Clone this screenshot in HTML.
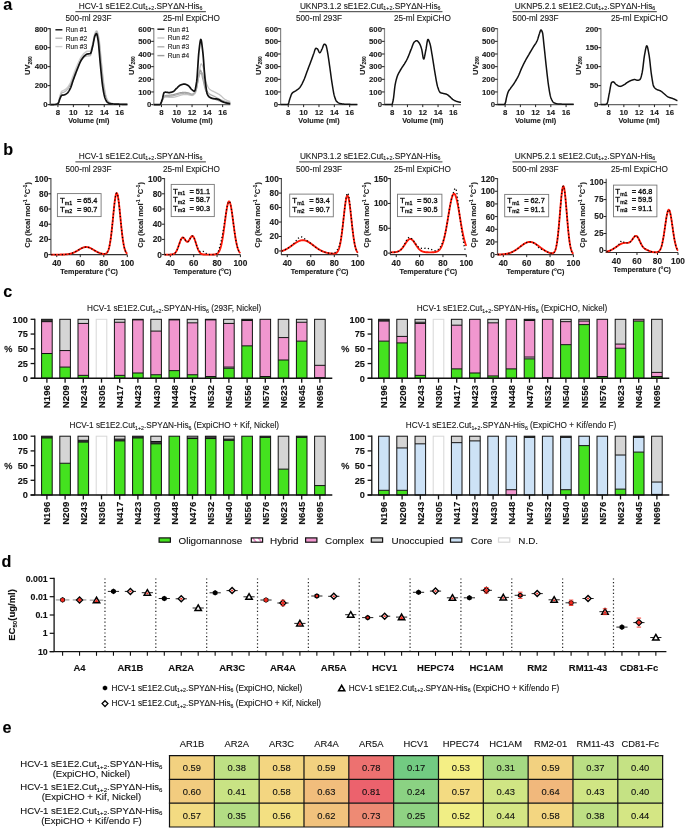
<!DOCTYPE html>
<html><head><meta charset="utf-8"><style>
html,body{margin:0;padding:0;background:#fff;}
body{width:685px;height:829px;overflow:hidden;}
svg{display:block;font-family:"Liberation Sans", sans-serif;will-change:transform;}
text{stroke:#000;stroke-width:0.18px;stroke-opacity:0.55;}
text.hv{stroke-width:0.35px;stroke-opacity:0.8;}
</style></head><body>
<svg width="685" height="829" viewBox="0 0 685 829">
<rect width="685" height="829" fill="#fff"/>
<text x="3.2" y="10.2" font-size="16.2" font-weight="bold">a</text>
<text x="3.2" y="155.2" font-size="16.2" font-weight="bold">b</text>
<text x="3.2" y="297.2" font-size="16.2" font-weight="bold">c</text>
<text x="1.5" y="567.4" font-size="16.2" font-weight="bold">d</text>
<text x="2.5" y="733.2" font-size="16.2" font-weight="bold">e</text>
<text x="140.6" y="8.7" font-size="8.3" text-anchor="middle" fill="#222"><tspan>HCV-1 sE1E2.Cut</tspan><tspan dy="1.66" font-size="5.31">1+2</tspan><tspan dy="-1.66">.SPYΔN-His</tspan><tspan dy="1.66" font-size="5.31">6</tspan></text>
<line x1="75.4" y1="11.7" x2="205.9" y2="11.7" stroke="#222" stroke-width="0.9" />
<text x="140.6" y="158.6" font-size="8.3" text-anchor="middle" fill="#222"><tspan>HCV-1 sE1E2.Cut</tspan><tspan dy="1.66" font-size="5.31">1+2</tspan><tspan dy="-1.66">.SPYΔN-His</tspan><tspan dy="1.66" font-size="5.31">6</tspan></text>
<line x1="75.4" y1="161.9" x2="205.9" y2="161.9" stroke="#222" stroke-width="0.9" />
<text x="370.2" y="8.7" font-size="8.3" text-anchor="middle" fill="#222"><tspan>UKNP3.1.2 sE1E2.Cut</tspan><tspan dy="1.66" font-size="5.31">1+2</tspan><tspan dy="-1.66">.SPYΔN-His</tspan><tspan dy="1.66" font-size="5.31">6</tspan></text>
<line x1="299.2" y1="11.7" x2="442.5" y2="11.7" stroke="#222" stroke-width="0.9" />
<text x="370.2" y="158.6" font-size="8.3" text-anchor="middle" fill="#222"><tspan>UKNP3.1.2 sE1E2.Cut</tspan><tspan dy="1.66" font-size="5.31">1+2</tspan><tspan dy="-1.66">.SPYΔN-His</tspan><tspan dy="1.66" font-size="5.31">6</tspan></text>
<line x1="299.2" y1="161.9" x2="442.5" y2="161.9" stroke="#222" stroke-width="0.9" />
<text x="585" y="8.7" font-size="8.3" text-anchor="middle" fill="#222"><tspan>UKNP5.2.1 sE1E2.Cut</tspan><tspan dy="1.66" font-size="5.31">1+2</tspan><tspan dy="-1.66">.SPYΔN-His</tspan><tspan dy="1.66" font-size="5.31">6</tspan></text>
<line x1="512.4" y1="11.7" x2="656.8" y2="11.7" stroke="#222" stroke-width="0.9" />
<text x="585" y="158.6" font-size="8.3" text-anchor="middle" fill="#222"><tspan>UKNP5.2.1 sE1E2.Cut</tspan><tspan dy="1.66" font-size="5.31">1+2</tspan><tspan dy="-1.66">.SPYΔN-His</tspan><tspan dy="1.66" font-size="5.31">6</tspan></text>
<line x1="512.4" y1="161.9" x2="656.8" y2="161.9" stroke="#222" stroke-width="0.9" />
<text x="65.5" y="20.6" font-size="8.2" fill="#222">500-ml 293F</text>
<line x1="50.2" y1="28.2" x2="50.2" y2="104.6" stroke="#333" stroke-width="1.2" />
<line x1="48.7" y1="104.6" x2="127.4" y2="104.6" stroke="#333" stroke-width="1.2" />
<line x1="47.6" y1="104.6" x2="50.2" y2="104.6" stroke="#222" stroke-width="1" />
<text x="47.7" y="107.4" font-size="7.8" font-weight="bold" text-anchor="end" fill="#222">0</text>
<line x1="47.6" y1="85.62" x2="50.2" y2="85.62" stroke="#222" stroke-width="1" />
<text x="47.7" y="88.42" font-size="7.8" font-weight="bold" text-anchor="end" fill="#222">200</text>
<line x1="47.6" y1="66.65" x2="50.2" y2="66.65" stroke="#222" stroke-width="1" />
<text x="47.7" y="69.45" font-size="7.8" font-weight="bold" text-anchor="end" fill="#222">400</text>
<line x1="47.6" y1="47.68" x2="50.2" y2="47.68" stroke="#222" stroke-width="1" />
<text x="47.7" y="50.48" font-size="7.8" font-weight="bold" text-anchor="end" fill="#222">600</text>
<line x1="47.6" y1="28.7" x2="50.2" y2="28.7" stroke="#222" stroke-width="1" />
<text x="47.7" y="31.5" font-size="7.8" font-weight="bold" text-anchor="end" fill="#222">800</text>
<line x1="57.92" y1="104.6" x2="57.92" y2="107.1" stroke="#222" stroke-width="1" />
<text x="57.92" y="115.3" font-size="7.8" font-weight="bold" text-anchor="middle" fill="#222">8</text>
<line x1="73.36" y1="104.6" x2="73.36" y2="107.1" stroke="#222" stroke-width="1" />
<text x="73.36" y="115.3" font-size="7.8" font-weight="bold" text-anchor="middle" fill="#222">10</text>
<line x1="88.8" y1="104.6" x2="88.8" y2="107.1" stroke="#222" stroke-width="1" />
<text x="88.8" y="115.3" font-size="7.8" font-weight="bold" text-anchor="middle" fill="#222">12</text>
<line x1="104.24" y1="104.6" x2="104.24" y2="107.1" stroke="#222" stroke-width="1" />
<text x="104.24" y="115.3" font-size="7.8" font-weight="bold" text-anchor="middle" fill="#222">14</text>
<line x1="119.68" y1="104.6" x2="119.68" y2="107.1" stroke="#222" stroke-width="1" />
<text x="119.68" y="115.3" font-size="7.8" font-weight="bold" text-anchor="middle" fill="#222">16</text>
<text x="88.8" y="122.9" font-size="7.3" font-weight="bold" text-anchor="middle" fill="#222">Volume (ml)</text>
<text transform="translate(30.2,65.65) rotate(-90)" font-size="7.6" font-weight="bold" text-anchor="middle" fill="#222"><tspan>UV</tspan><tspan dy="1.52" font-size="4.86">280</tspan></text>
<path d="M50.2 104.6 L50.5 104.6 L50.8 104.6 L51.09 104.6 L51.39 104.59 L51.69 104.59 L51.99 104.59 L52.29 104.58 L52.58 104.57 L52.88 104.57 L53.18 104.56 L53.48 104.55 L53.78 104.54 L54.07 104.53 L54.37 104.52 L54.67 104.51 L54.97 104.5 L55.27 104.47 L55.57 104.42 L55.86 104.36 L56.16 104.28 L56.46 104.19 L56.76 104.07 L57.06 103.94 L57.35 103.79 L57.65 103.63 L57.95 103.44 L58.25 102.97 L58.55 102.1 L58.84 100.96 L59.14 99.64 L59.44 98.27 L59.74 96.94 L60.04 95.76 L60.33 94.82 L60.63 93.92 L60.93 93.04 L61.23 92.25 L61.53 91.64 L61.82 91.28 L62.12 91.06 L62.42 90.89 L62.72 90.76 L63.02 90.65 L63.32 90.54 L63.61 90.42 L63.91 90.28 L64.21 90.11 L64.51 89.92 L64.81 89.72 L65.1 89.52 L65.4 89.3 L65.7 89.06 L66 88.82 L66.3 88.56 L66.59 88.29 L66.89 88.01 L67.19 87.71 L67.49 87.39 L67.79 87.04 L68.08 86.68 L68.38 86.29 L68.68 85.87 L68.98 85.43 L69.28 84.97 L69.57 84.48 L69.87 83.97 L70.17 83.44 L70.47 82.87 L70.77 82.22 L71.06 81.5 L71.36 80.73 L71.66 79.92 L71.96 79.09 L72.26 78.24 L72.56 77.38 L72.85 76.55 L73.15 75.73 L73.45 74.96 L73.75 74.19 L74.05 73.42 L74.34 72.65 L74.64 71.88 L74.94 71.12 L75.24 70.35 L75.54 69.6 L75.83 68.85 L76.13 68.11 L76.43 67.38 L76.73 66.66 L77.03 65.96 L77.32 65.27 L77.62 64.58 L77.92 63.89 L78.22 63.19 L78.52 62.51 L78.81 61.83 L79.11 61.16 L79.41 60.51 L79.71 59.88 L80.01 59.27 L80.31 58.69 L80.6 58.15 L80.9 57.64 L81.2 57.17 L81.5 56.71 L81.8 56.27 L82.09 55.84 L82.39 55.42 L82.69 55.01 L82.99 54.63 L83.29 54.26 L83.58 53.91 L83.88 53.58 L84.18 53.27 L84.48 52.99 L84.78 52.74 L85.07 52.51 L85.37 52.27 L85.67 52.04 L85.97 51.81 L86.27 51.62 L86.56 51.45 L86.86 51.34 L87.16 51.28 L87.46 51.28 L87.76 51.28 L88.05 51.28 L88.35 51.28 L88.65 51.28 L88.95 51.28 L89.25 51.28 L89.55 51.28 L89.84 51.28 L90.14 51.28 L90.44 51.26 L90.74 50.92 L91.04 50.24 L91.33 49.29 L91.63 48.15 L91.93 46.9 L92.23 45.63 L92.53 44.4 L92.82 43.23 L93.12 41.86 L93.42 40.34 L93.72 38.76 L94.02 37.21 L94.31 35.77 L94.61 34.54 L94.91 33.6 L95.21 32.92 L95.51 32.26 L95.8 31.67 L96.1 31.2 L96.4 30.89 L96.7 30.79 L97 31.03 L97.29 31.63 L97.59 32.54 L97.89 33.69 L98.19 35.01 L98.49 36.45 L98.79 37.93 L99.08 39.65 L99.38 41.92 L99.68 44.65 L99.98 47.7 L100.28 50.94 L100.57 54.26 L100.87 57.52 L101.17 60.59 L101.47 63.44 L101.77 66.33 L102.06 69.28 L102.36 72.22 L102.66 75.09 L102.96 77.83 L103.26 80.39 L103.55 82.71 L103.85 84.76 L104.15 86.74 L104.45 88.66 L104.75 90.49 L105.04 92.19 L105.34 93.74 L105.64 95.11 L105.94 96.27 L106.24 97.2 L106.54 98.01 L106.83 98.76 L107.13 99.44 L107.43 100.05 L107.73 100.58 L108.03 101.03 L108.32 101.4 L108.62 101.69 L108.92 101.94 L109.22 102.18 L109.52 102.4 L109.81 102.59 L110.11 102.77 L110.41 102.93 L110.71 103.07 L111.01 103.19 L111.3 103.29 L111.6 103.37 L111.9 103.45 L112.2 103.52 L112.5 103.58 L112.79 103.64 L113.09 103.7 L113.39 103.75 L113.69 103.8 L113.99 103.84 L114.28 103.88 L114.58 103.92 L114.88 103.95 L115.18 103.98 L115.48 104.01 L115.78 104.03 L116.07 104.05 L116.37 104.06 L116.67 104.08 L116.97 104.1 L117.27 104.11 L117.56 104.13 L117.86 104.14 L118.16 104.15 L118.46 104.16 L118.76 104.17 L119.05 104.19 L119.35 104.2 L119.65 104.21 L119.95 104.21 L120.25 104.22 L120.54 104.23 L120.84 104.24 L121.14 104.25 L121.44 104.26 L121.74 104.27 L122.03 104.27 L122.33 104.28 L122.63 104.29 L122.93 104.3 L123.23 104.31 L123.53 104.31 L123.82 104.32 L124.12 104.33 L124.42 104.34 L124.72 104.35 L125.02 104.36 L125.31 104.36 L125.61 104.37 L125.91 104.38 L126.21 104.38 L126.51 104.39 L126.8 104.4 L127.1 104.4 L127.4 104.41" stroke="#cdcdcd" stroke-width="1.6" fill="none" stroke-linejoin="round"/>
<path d="M50.2 104.6 L50.5 104.6 L50.8 104.6 L51.09 104.6 L51.39 104.59 L51.69 104.59 L51.99 104.59 L52.29 104.58 L52.58 104.57 L52.88 104.57 L53.18 104.56 L53.48 104.55 L53.78 104.54 L54.07 104.53 L54.37 104.52 L54.67 104.51 L54.97 104.5 L55.27 104.47 L55.57 104.43 L55.86 104.37 L56.16 104.3 L56.46 104.21 L56.76 104.11 L57.06 103.99 L57.35 103.86 L57.65 103.71 L57.95 103.54 L58.25 103.12 L58.55 102.36 L58.84 101.35 L59.14 100.2 L59.44 98.99 L59.74 97.83 L60.04 96.81 L60.33 96 L60.63 95.23 L60.93 94.48 L61.23 93.82 L61.53 93.3 L61.82 92.99 L62.12 92.81 L62.42 92.68 L62.72 92.57 L63.02 92.47 L63.32 92.39 L63.61 92.29 L63.91 92.17 L64.21 92.01 L64.51 91.84 L64.81 91.65 L65.1 91.44 L65.4 91.22 L65.7 90.99 L66 90.74 L66.3 90.47 L66.59 90.19 L66.89 89.9 L67.19 89.6 L67.49 89.28 L67.79 88.94 L68.08 88.57 L68.38 88.17 L68.68 87.75 L68.98 87.31 L69.28 86.85 L69.57 86.37 L69.87 85.86 L70.17 85.33 L70.47 84.78 L70.77 84.16 L71.06 83.48 L71.36 82.76 L71.66 82.01 L71.96 81.23 L72.26 80.43 L72.56 79.64 L72.85 78.85 L73.15 78.08 L73.45 77.34 L73.75 76.6 L74.05 75.85 L74.34 75.09 L74.64 74.33 L74.94 73.57 L75.24 72.82 L75.54 72.07 L75.83 71.32 L76.13 70.59 L76.43 69.88 L76.73 69.18 L77.03 68.5 L77.32 67.84 L77.62 67.19 L77.92 66.53 L78.22 65.86 L78.52 65.21 L78.81 64.56 L79.11 63.93 L79.41 63.32 L79.71 62.74 L80.01 62.18 L80.31 61.66 L80.6 61.17 L80.9 60.73 L81.2 60.33 L81.5 59.94 L81.8 59.56 L82.09 59.2 L82.39 58.84 L82.69 58.5 L82.99 58.18 L83.29 57.88 L83.58 57.6 L83.88 57.35 L84.18 57.12 L84.48 56.93 L84.78 56.76 L85.07 56.63 L85.37 56.52 L85.67 56.41 L85.97 56.31 L86.27 56.23 L86.56 56.15 L86.86 56.09 L87.16 56.04 L87.46 56 L87.76 55.97 L88.05 55.94 L88.35 55.92 L88.65 55.91 L88.95 55.89 L89.25 55.87 L89.55 55.85 L89.84 55.82 L90.14 55.77 L90.44 55.7 L90.74 55.25 L91.04 54.4 L91.33 53.24 L91.63 51.87 L91.93 50.37 L92.23 48.83 L92.53 47.35 L92.82 45.93 L93.12 44.26 L93.42 42.41 L93.72 40.48 L94.02 38.59 L94.31 36.87 L94.61 35.42 L94.91 34.37 L95.21 33.66 L95.51 33 L95.8 32.41 L96.1 31.95 L96.4 31.64 L96.7 31.55 L97 31.79 L97.29 32.42 L97.59 33.35 L97.89 34.53 L98.19 35.89 L98.49 37.36 L98.79 38.88 L99.08 40.61 L99.38 42.9 L99.68 45.63 L99.98 48.68 L100.28 51.92 L100.57 55.22 L100.87 58.47 L101.17 61.54 L101.47 64.39 L101.77 67.3 L102.06 70.26 L102.36 73.22 L102.66 76.1 L102.96 78.85 L103.26 81.39 L103.55 83.68 L103.85 85.68 L104.15 87.59 L104.45 89.44 L104.75 91.18 L105.04 92.8 L105.34 94.28 L105.64 95.58 L105.94 96.68 L106.24 97.57 L106.54 98.35 L106.83 99.07 L107.13 99.72 L107.43 100.3 L107.73 100.81 L108.03 101.25 L108.32 101.6 L108.62 101.87 L108.92 102.11 L109.22 102.34 L109.52 102.54 L109.81 102.73 L110.11 102.89 L110.41 103.04 L110.71 103.17 L111.01 103.29 L111.3 103.39 L111.6 103.47 L111.9 103.54 L112.2 103.61 L112.5 103.68 L112.79 103.74 L113.09 103.8 L113.39 103.85 L113.69 103.9 L113.99 103.95 L114.28 103.99 L114.58 104.03 L114.88 104.06 L115.18 104.08 L115.48 104.11 L115.78 104.12 L116.07 104.14 L116.37 104.15 L116.67 104.16 L116.97 104.17 L117.27 104.18 L117.56 104.19 L117.86 104.2 L118.16 104.21 L118.46 104.21 L118.76 104.22 L119.05 104.23 L119.35 104.23 L119.65 104.24 L119.95 104.25 L120.25 104.25 L120.54 104.26 L120.84 104.26 L121.14 104.27 L121.44 104.27 L121.74 104.28 L122.03 104.28 L122.33 104.29 L122.63 104.3 L122.93 104.3 L123.23 104.31 L123.53 104.32 L123.82 104.32 L124.12 104.33 L124.42 104.34 L124.72 104.34 L125.02 104.35 L125.31 104.36 L125.61 104.37 L125.91 104.37 L126.21 104.38 L126.51 104.39 L126.8 104.4 L127.1 104.4 L127.4 104.41" stroke="#b0b0b0" stroke-width="1.1" fill="none" stroke-linejoin="round"/>
<path d="M50.2 104.6 L50.5 104.6 L50.8 104.6 L51.09 104.6 L51.39 104.59 L51.69 104.59 L51.99 104.59 L52.29 104.58 L52.58 104.57 L52.88 104.57 L53.18 104.56 L53.48 104.55 L53.78 104.54 L54.07 104.53 L54.37 104.52 L54.67 104.51 L54.97 104.5 L55.27 104.47 L55.57 104.43 L55.86 104.38 L56.16 104.32 L56.46 104.24 L56.76 104.15 L57.06 104.04 L57.35 103.92 L57.65 103.78 L57.95 103.63 L58.25 103.3 L58.55 102.7 L58.84 101.93 L59.14 101.04 L59.44 100.11 L59.74 99.2 L60.04 98.4 L60.33 97.76 L60.63 97.11 L60.93 96.46 L61.23 95.9 L61.53 95.48 L61.82 95.29 L62.12 95.21 L62.42 95.16 L62.72 95.12 L63.02 95.08 L63.32 95.05 L63.61 95.01 L63.91 94.96 L64.21 94.89 L64.51 94.8 L64.81 94.69 L65.1 94.56 L65.4 94.42 L65.7 94.25 L66 94.07 L66.3 93.88 L66.59 93.67 L66.89 93.45 L67.19 93.21 L67.49 92.94 L67.79 92.62 L68.08 92.24 L68.38 91.83 L68.68 91.37 L68.98 90.88 L69.28 90.37 L69.57 89.82 L69.87 89.25 L70.17 88.67 L70.47 88.06 L70.77 87.36 L71.06 86.58 L71.36 85.75 L71.66 84.87 L71.96 83.96 L72.26 83.03 L72.56 82.11 L72.85 81.2 L73.15 80.33 L73.45 79.5 L73.75 78.68 L74.05 77.87 L74.34 77.05 L74.64 76.24 L74.94 75.44 L75.24 74.64 L75.54 73.84 L75.83 73.05 L76.13 72.27 L76.43 71.5 L76.73 70.73 L77.03 69.98 L77.32 69.24 L77.62 68.48 L77.92 67.72 L78.22 66.96 L78.52 66.19 L78.81 65.43 L79.11 64.69 L79.41 63.96 L79.71 63.26 L80.01 62.59 L80.31 61.95 L80.6 61.35 L80.9 60.79 L81.2 60.28 L81.5 59.8 L81.8 59.32 L82.09 58.86 L82.39 58.42 L82.69 57.99 L82.99 57.58 L83.29 57.19 L83.58 56.83 L83.88 56.48 L84.18 56.16 L84.48 55.86 L84.78 55.59 L85.07 55.35 L85.37 55.11 L85.67 54.88 L85.97 54.67 L86.27 54.47 L86.56 54.31 L86.86 54.16 L87.16 54.06 L87.46 53.98 L87.76 53.93 L88.05 53.89 L88.35 53.86 L88.65 53.83 L88.95 53.8 L89.25 53.77 L89.55 53.73 L89.84 53.68 L90.14 53.61 L90.44 53.51 L90.74 53.12 L91.04 52.43 L91.33 51.5 L91.63 50.4 L91.93 49.19 L92.23 47.96 L92.53 46.76 L92.82 45.6 L93.12 44.23 L93.42 42.69 L93.72 41.09 L94.02 39.53 L94.31 38.09 L94.61 36.87 L94.91 35.96 L95.21 35.33 L95.51 34.74 L95.8 34.23 L96.1 33.85 L96.4 33.65 L96.7 33.77 L97 34.51 L97.29 35.75 L97.59 37.32 L97.89 39.07 L98.19 40.88 L98.49 43.27 L98.79 46.22 L99.08 49.57 L99.38 53.15 L99.68 56.8 L99.98 60.37 L100.28 63.68 L100.57 66.72 L100.87 69.81 L101.17 72.92 L101.47 75.98 L101.77 78.93 L102.06 81.68 L102.36 84.18 L102.66 86.34 L102.96 88.24 L103.26 90.06 L103.55 91.77 L103.85 93.35 L104.15 94.79 L104.45 96.07 L104.75 97.16 L105.04 98.05 L105.34 98.82 L105.64 99.53 L105.94 100.19 L106.24 100.78 L106.54 101.29 L106.83 101.72 L107.13 102.06 L107.43 102.3 L107.73 102.52 L108.03 102.71 L108.32 102.89 L108.62 103.05 L108.92 103.19 L109.22 103.32 L109.52 103.43 L109.81 103.52 L110.11 103.59 L110.41 103.65 L110.71 103.7 L111.01 103.74 L111.3 103.78 L111.6 103.82 L111.9 103.85 L112.2 103.88 L112.5 103.91 L112.79 103.94 L113.09 103.97 L113.39 103.99 L113.69 104.01 L113.99 104.03 L114.28 104.05 L114.58 104.07 L114.88 104.08 L115.18 104.1 L115.48 104.11 L115.78 104.12 L116.07 104.14 L116.37 104.15 L116.67 104.16 L116.97 104.17 L117.27 104.18 L117.56 104.18 L117.86 104.19 L118.16 104.2 L118.46 104.21 L118.76 104.21 L119.05 104.22 L119.35 104.23 L119.65 104.23 L119.95 104.24 L120.25 104.25 L120.54 104.25 L120.84 104.26 L121.14 104.26 L121.44 104.27 L121.74 104.28 L122.03 104.28 L122.33 104.29 L122.63 104.29 L122.93 104.3 L123.23 104.31 L123.53 104.32 L123.82 104.32 L124.12 104.33 L124.42 104.34 L124.72 104.34 L125.02 104.35 L125.31 104.36 L125.61 104.37 L125.91 104.37 L126.21 104.38 L126.51 104.39 L126.8 104.4 L127.1 104.4 L127.4 104.41" stroke="#111" stroke-width="1.7" fill="none" stroke-linejoin="round"/>
<text x="163" y="20.6" font-size="8.2" fill="#222">25-ml ExpiCHO</text>
<line x1="153.8" y1="28.2" x2="153.8" y2="104.6" stroke="#888" stroke-width="1.2" />
<line x1="152.3" y1="104.6" x2="230.3" y2="104.6" stroke="#666" stroke-width="1.2" />
<line x1="151.2" y1="104.6" x2="153.8" y2="104.6" stroke="#222" stroke-width="1" />
<text x="151.3" y="107.4" font-size="7.8" font-weight="bold" text-anchor="end" fill="#222">0</text>
<line x1="151.2" y1="91.95" x2="153.8" y2="91.95" stroke="#222" stroke-width="1" />
<text x="151.3" y="94.75" font-size="7.8" font-weight="bold" text-anchor="end" fill="#222">100</text>
<line x1="151.2" y1="79.3" x2="153.8" y2="79.3" stroke="#222" stroke-width="1" />
<text x="151.3" y="82.1" font-size="7.8" font-weight="bold" text-anchor="end" fill="#222">200</text>
<line x1="151.2" y1="66.65" x2="153.8" y2="66.65" stroke="#222" stroke-width="1" />
<text x="151.3" y="69.45" font-size="7.8" font-weight="bold" text-anchor="end" fill="#222">300</text>
<line x1="151.2" y1="54" x2="153.8" y2="54" stroke="#222" stroke-width="1" />
<text x="151.3" y="56.8" font-size="7.8" font-weight="bold" text-anchor="end" fill="#222">400</text>
<line x1="151.2" y1="41.35" x2="153.8" y2="41.35" stroke="#222" stroke-width="1" />
<text x="151.3" y="44.15" font-size="7.8" font-weight="bold" text-anchor="end" fill="#222">500</text>
<line x1="151.2" y1="28.7" x2="153.8" y2="28.7" stroke="#222" stroke-width="1" />
<text x="151.3" y="31.5" font-size="7.8" font-weight="bold" text-anchor="end" fill="#222">600</text>
<line x1="161.45" y1="104.6" x2="161.45" y2="107.1" stroke="#222" stroke-width="1" />
<text x="161.45" y="115.3" font-size="7.8" font-weight="bold" text-anchor="middle" fill="#222">8</text>
<line x1="176.75" y1="104.6" x2="176.75" y2="107.1" stroke="#222" stroke-width="1" />
<text x="176.75" y="115.3" font-size="7.8" font-weight="bold" text-anchor="middle" fill="#222">10</text>
<line x1="192.05" y1="104.6" x2="192.05" y2="107.1" stroke="#222" stroke-width="1" />
<text x="192.05" y="115.3" font-size="7.8" font-weight="bold" text-anchor="middle" fill="#222">12</text>
<line x1="207.35" y1="104.6" x2="207.35" y2="107.1" stroke="#222" stroke-width="1" />
<text x="207.35" y="115.3" font-size="7.8" font-weight="bold" text-anchor="middle" fill="#222">14</text>
<line x1="222.65" y1="104.6" x2="222.65" y2="107.1" stroke="#222" stroke-width="1" />
<text x="222.65" y="115.3" font-size="7.8" font-weight="bold" text-anchor="middle" fill="#222">16</text>
<text x="192.05" y="122.9" font-size="7.3" font-weight="bold" text-anchor="middle" fill="#222">Volume (ml)</text>
<text transform="translate(133.8,65.65) rotate(-90)" font-size="7.6" font-weight="bold" text-anchor="middle" fill="#222"><tspan>UV</tspan><tspan dy="1.52" font-size="4.86">280</tspan></text>
<path d="M153.8 104.6 L154.1 104.6 L154.39 104.6 L154.69 104.6 L154.98 104.6 L155.28 104.6 L155.57 104.6 L155.87 104.6 L156.16 104.6 L156.46 104.6 L156.75 104.6 L157.05 104.6 L157.34 104.6 L157.64 104.6 L157.94 104.6 L158.23 104.6 L158.53 104.6 L158.82 104.6 L159.12 104.6 L159.41 104.6 L159.71 104.6 L160 104.59 L160.3 104.41 L160.59 104.05 L160.89 103.54 L161.18 102.94 L161.48 102.3 L161.77 101.66 L162.07 101.06 L162.37 100.54 L162.66 99.95 L162.96 99.32 L163.25 98.7 L163.55 98.16 L163.84 97.75 L164.14 97.51 L164.43 97.38 L164.73 97.27 L165.02 97.17 L165.32 97.09 L165.61 97.04 L165.91 97.01 L166.21 97.01 L166.5 97.03 L166.8 97.05 L167.09 97.08 L167.39 97.11 L167.68 97.15 L167.98 97.19 L168.27 97.22 L168.57 97.24 L168.86 97.26 L169.16 97.26 L169.45 97.26 L169.75 97.26 L170.05 97.26 L170.34 97.26 L170.64 97.26 L170.93 97.26 L171.23 97.26 L171.52 97.26 L171.82 97.26 L172.11 97.26 L172.41 97.26 L172.7 97.26 L173 97.26 L173.29 97.25 L173.59 97.23 L173.88 97.19 L174.18 97.14 L174.48 97.08 L174.77 97.02 L175.07 96.95 L175.36 96.87 L175.66 96.79 L175.95 96.71 L176.25 96.63 L176.54 96.56 L176.84 96.48 L177.13 96.4 L177.43 96.31 L177.72 96.21 L178.02 96.11 L178.32 96 L178.61 95.89 L178.91 95.78 L179.2 95.67 L179.5 95.57 L179.79 95.47 L180.09 95.37 L180.38 95.29 L180.68 95.21 L180.97 95.14 L181.27 95.06 L181.56 94.98 L181.86 94.9 L182.16 94.82 L182.45 94.75 L182.75 94.68 L183.04 94.62 L183.34 94.57 L183.63 94.53 L183.93 94.5 L184.22 94.48 L184.52 94.48 L184.81 94.48 L185.11 94.49 L185.4 94.5 L185.7 94.52 L185.99 94.54 L186.29 94.56 L186.59 94.58 L186.88 94.61 L187.18 94.63 L187.47 94.66 L187.77 94.69 L188.06 94.72 L188.36 94.75 L188.65 94.79 L188.95 94.85 L189.24 94.92 L189.54 95 L189.83 95.08 L190.13 95.16 L190.43 95.24 L190.72 95.31 L191.02 95.38 L191.31 95.43 L191.61 95.47 L191.9 95.49 L192.2 95.49 L192.49 95.44 L192.79 95.35 L193.08 95.22 L193.38 95.06 L193.67 94.85 L193.97 94.62 L194.27 94.36 L194.56 94.07 L194.86 93.75 L195.15 93.42 L195.45 92.84 L195.74 91.94 L196.04 90.78 L196.33 89.39 L196.63 87.85 L196.92 86.2 L197.22 84.5 L197.51 82.8 L197.81 81.15 L198.11 79.62 L198.4 78.1 L198.7 76.35 L198.99 74.44 L199.29 72.46 L199.58 70.5 L199.88 68.64 L200.17 66.97 L200.47 65.57 L200.76 64.54 L201.06 63.96 L201.35 63.89 L201.65 64.1 L201.94 64.51 L202.24 65.08 L202.54 65.78 L202.83 66.56 L203.13 67.4 L203.42 68.25 L203.72 69.17 L204.01 70.39 L204.31 71.86 L204.6 73.51 L204.9 75.27 L205.19 77.06 L205.49 78.81 L205.78 80.45 L206.08 81.9 L206.38 83.09 L206.67 83.95 L206.97 84.69 L207.26 85.38 L207.56 86.02 L207.85 86.61 L208.15 87.16 L208.44 87.66 L208.74 88.11 L209.03 88.51 L209.33 88.85 L209.62 89.15 L209.92 89.41 L210.22 89.64 L210.51 89.86 L210.81 90.07 L211.1 90.25 L211.4 90.43 L211.69 90.59 L211.99 90.75 L212.28 90.9 L212.58 91.04 L212.87 91.17 L213.17 91.31 L213.46 91.44 L213.76 91.58 L214.05 91.72 L214.35 91.86 L214.65 92.01 L214.94 92.17 L215.24 92.33 L215.53 92.49 L215.83 92.65 L216.12 92.8 L216.42 92.96 L216.71 93.11 L217.01 93.26 L217.3 93.41 L217.6 93.57 L217.89 93.72 L218.19 93.89 L218.49 94.05 L218.78 94.23 L219.08 94.4 L219.37 94.59 L219.67 94.78 L219.96 95 L220.26 95.23 L220.55 95.48 L220.85 95.74 L221.14 96.01 L221.44 96.29 L221.73 96.57 L222.03 96.86 L222.33 97.15 L222.62 97.43 L222.92 97.71 L223.21 97.98 L223.51 98.25 L223.8 98.49 L224.1 98.73 L224.39 98.94 L224.69 99.14 L224.98 99.31 L225.28 99.47 L225.57 99.62 L225.87 99.78 L226.16 99.93 L226.46 100.08 L226.76 100.22 L227.05 100.36 L227.35 100.49 L227.64 100.62 L227.94 100.74 L228.23 100.85 L228.53 100.96 L228.82 101.06 L229.12 101.15 L229.41 101.24 L229.71 101.31 L230 101.38 L230.3 101.44" stroke="#c4c4c4" stroke-width="1.3" fill="none" stroke-linejoin="round"/>
<path d="M153.8 104.6 L154.1 104.6 L154.39 104.6 L154.69 104.6 L154.98 104.6 L155.28 104.6 L155.57 104.6 L155.87 104.6 L156.16 104.6 L156.46 104.6 L156.75 104.6 L157.05 104.6 L157.34 104.6 L157.64 104.6 L157.94 104.6 L158.23 104.6 L158.53 104.6 L158.82 104.6 L159.12 104.6 L159.41 104.6 L159.71 104.6 L160 104.59 L160.3 104.39 L160.59 103.98 L160.89 103.42 L161.18 102.75 L161.48 102.02 L161.77 101.29 L162.07 100.6 L162.37 99.98 L162.66 99.27 L162.96 98.51 L163.25 97.76 L163.55 97.09 L163.84 96.56 L164.14 96.24 L164.43 96.06 L164.73 95.9 L165.02 95.77 L165.32 95.66 L165.61 95.58 L165.91 95.51 L166.21 95.47 L166.5 95.43 L166.8 95.41 L167.09 95.38 L167.39 95.36 L167.68 95.34 L167.98 95.32 L168.27 95.31 L168.57 95.28 L168.86 95.26 L169.16 95.23 L169.45 95.2 L169.75 95.17 L170.05 95.14 L170.34 95.1 L170.64 95.07 L170.93 95.03 L171.23 94.99 L171.52 94.95 L171.82 94.91 L172.11 94.87 L172.41 94.82 L172.7 94.77 L173 94.72 L173.29 94.66 L173.59 94.6 L173.88 94.53 L174.18 94.45 L174.48 94.37 L174.77 94.29 L175.07 94.2 L175.36 94.12 L175.66 94.03 L175.95 93.94 L176.25 93.86 L176.54 93.78 L176.84 93.7 L177.13 93.62 L177.43 93.53 L177.72 93.44 L178.02 93.35 L178.32 93.26 L178.61 93.17 L178.91 93.09 L179.2 93 L179.5 92.93 L179.79 92.86 L180.09 92.79 L180.38 92.74 L180.68 92.69 L180.97 92.65 L181.27 92.61 L181.56 92.57 L181.86 92.53 L182.16 92.49 L182.45 92.45 L182.75 92.42 L183.04 92.39 L183.34 92.37 L183.63 92.35 L183.93 92.34 L184.22 92.33 L184.52 92.33 L184.81 92.34 L185.11 92.36 L185.4 92.39 L185.7 92.43 L185.99 92.48 L186.29 92.54 L186.59 92.6 L186.88 92.66 L187.18 92.72 L187.47 92.79 L187.77 92.86 L188.06 92.93 L188.36 92.99 L188.65 93.08 L188.95 93.19 L189.24 93.3 L189.54 93.43 L189.83 93.56 L190.13 93.7 L190.43 93.82 L190.72 93.94 L191.02 94.04 L191.31 94.13 L191.61 94.19 L191.9 94.22 L192.2 94.22 L192.49 94.17 L192.79 94.07 L193.08 93.92 L193.38 93.73 L193.67 93.49 L193.97 93.22 L194.27 92.91 L194.56 92.56 L194.86 92.19 L195.15 91.78 L195.45 91.35 L195.74 90.9 L196.04 90.36 L196.33 89.45 L196.63 88.2 L196.92 86.69 L197.22 84.98 L197.51 83.17 L197.81 81.31 L198.11 79.5 L198.4 77.8 L198.7 76.29 L198.99 75.03 L199.29 73.76 L199.58 72.46 L199.88 71.32 L200.17 70.5 L200.47 70.19 L200.76 70.46 L201.06 71.17 L201.35 72.22 L201.65 73.51 L201.94 74.93 L202.24 76.38 L202.54 77.75 L202.83 78.94 L203.13 80.13 L203.42 81.4 L203.72 82.7 L204.01 84.02 L204.31 85.33 L204.6 86.59 L204.9 87.78 L205.19 88.86 L205.49 89.81 L205.78 90.6 L206.08 91.27 L206.38 91.91 L206.67 92.52 L206.97 93.1 L207.26 93.65 L207.56 94.17 L207.85 94.65 L208.15 95.1 L208.44 95.51 L208.74 95.88 L209.03 96.21 L209.33 96.49 L209.62 96.74 L209.92 96.96 L210.22 97.16 L210.51 97.34 L210.81 97.52 L211.1 97.68 L211.4 97.84 L211.69 97.98 L211.99 98.12 L212.28 98.24 L212.58 98.37 L212.87 98.49 L213.17 98.6 L213.46 98.71 L213.76 98.82 L214.05 98.93 L214.35 99.04 L214.65 99.15 L214.94 99.26 L215.24 99.38 L215.53 99.49 L215.83 99.61 L216.12 99.72 L216.42 99.83 L216.71 99.94 L217.01 100.05 L217.3 100.16 L217.6 100.27 L217.89 100.37 L218.19 100.47 L218.49 100.58 L218.78 100.68 L219.08 100.77 L219.37 100.87 L219.67 100.97 L219.96 101.06 L220.26 101.15 L220.55 101.24 L220.85 101.33 L221.14 101.41 L221.44 101.5 L221.73 101.58 L222.03 101.66 L222.33 101.74 L222.62 101.81 L222.92 101.88 L223.21 101.95 L223.51 102.03 L223.8 102.1 L224.1 102.17 L224.39 102.23 L224.69 102.3 L224.98 102.37 L225.28 102.43 L225.57 102.5 L225.87 102.56 L226.16 102.62 L226.46 102.68 L226.76 102.74 L227.05 102.8 L227.35 102.86 L227.64 102.91 L227.94 102.97 L228.23 103.02 L228.53 103.07 L228.82 103.12 L229.12 103.16 L229.41 103.21 L229.71 103.25 L230 103.29 L230.3 103.33" stroke="#9c9c9c" stroke-width="1.3" fill="none" stroke-linejoin="round"/>
<path d="M153.8 104.6 L154.1 104.6 L154.39 104.6 L154.69 104.6 L154.98 104.6 L155.28 104.6 L155.57 104.6 L155.87 104.6 L156.16 104.6 L156.46 104.6 L156.75 104.6 L157.05 104.6 L157.34 104.6 L157.64 104.6 L157.94 104.6 L158.23 104.6 L158.53 104.6 L158.82 104.6 L159.12 104.6 L159.41 104.6 L159.71 104.6 L160 104.59 L160.3 104.4 L160.59 104.02 L160.89 103.49 L161.18 102.85 L161.48 102.17 L161.77 101.48 L162.07 100.84 L162.37 100.25 L162.66 99.58 L162.96 98.85 L163.25 98.13 L163.55 97.5 L163.84 97.01 L164.14 96.75 L164.43 96.62 L164.73 96.51 L165.02 96.41 L165.32 96.33 L165.61 96.28 L165.91 96.25 L166.21 96.25 L166.5 96.25 L166.8 96.25 L167.09 96.25 L167.39 96.25 L167.68 96.25 L167.98 96.25 L168.27 96.25 L168.57 96.25 L168.86 96.25 L169.16 96.25 L169.45 96.24 L169.75 96.23 L170.05 96.2 L170.34 96.17 L170.64 96.14 L170.93 96.09 L171.23 96.05 L171.52 96 L171.82 95.95 L172.11 95.89 L172.41 95.84 L172.7 95.78 L173 95.73 L173.29 95.67 L173.59 95.61 L173.88 95.54 L174.18 95.46 L174.48 95.38 L174.77 95.3 L175.07 95.22 L175.36 95.13 L175.66 95.04 L175.95 94.96 L176.25 94.87 L176.54 94.79 L176.84 94.71 L177.13 94.63 L177.43 94.54 L177.72 94.46 L178.02 94.37 L178.32 94.29 L178.61 94.2 L178.91 94.12 L179.2 94.03 L179.5 93.96 L179.79 93.88 L180.09 93.82 L180.38 93.76 L180.68 93.7 L180.97 93.65 L181.27 93.6 L181.56 93.54 L181.86 93.49 L182.16 93.44 L182.45 93.39 L182.75 93.35 L183.04 93.31 L183.34 93.27 L183.63 93.25 L183.93 93.23 L184.22 93.22 L184.52 93.22 L184.81 93.22 L185.11 93.24 L185.4 93.27 L185.7 93.3 L185.99 93.34 L186.29 93.38 L186.59 93.43 L186.88 93.48 L187.18 93.53 L187.47 93.58 L187.77 93.64 L188.06 93.69 L188.36 93.75 L188.65 93.82 L188.95 93.9 L189.24 93.99 L189.54 94.1 L189.83 94.2 L190.13 94.31 L190.43 94.41 L190.72 94.5 L191.02 94.59 L191.31 94.65 L191.61 94.7 L191.9 94.73 L192.2 94.72 L192.49 94.63 L192.79 94.45 L193.08 94.2 L193.38 93.87 L193.67 93.49 L193.97 93.05 L194.27 92.56 L194.56 92.04 L194.86 91.48 L195.15 90.9 L195.45 90.3 L195.74 89.69 L196.04 89.04 L196.33 88.14 L196.63 87.01 L196.92 85.71 L197.22 84.28 L197.51 82.77 L197.81 81.24 L198.11 79.74 L198.4 78.31 L198.7 77.01 L198.99 75.89 L199.29 75 L199.58 74.39 L199.88 74.05 L200.17 73.75 L200.47 73.48 L200.76 73.24 L201.06 73.03 L201.35 72.87 L201.65 72.77 L201.94 72.72 L202.24 72.95 L202.54 73.74 L202.83 74.96 L203.13 76.47 L203.42 78.12 L203.72 79.78 L204.01 81.29 L204.31 82.53 L204.6 83.62 L204.9 84.74 L205.19 85.86 L205.49 86.96 L205.78 88.02 L206.08 89.02 L206.38 89.92 L206.67 90.7 L206.97 91.35 L207.26 91.84 L207.56 92.18 L207.85 92.5 L208.15 92.79 L208.44 93.07 L208.74 93.33 L209.03 93.57 L209.33 93.79 L209.62 94 L209.92 94.2 L210.22 94.39 L210.51 94.57 L210.81 94.73 L211.1 94.89 L211.4 95.04 L211.69 95.18 L211.99 95.32 L212.28 95.46 L212.58 95.59 L212.87 95.73 L213.17 95.86 L213.46 95.99 L213.76 96.13 L214.05 96.27 L214.35 96.42 L214.65 96.57 L214.94 96.72 L215.24 96.89 L215.53 97.05 L215.83 97.22 L216.12 97.38 L216.42 97.55 L216.71 97.71 L217.01 97.88 L217.3 98.04 L217.6 98.2 L217.89 98.36 L218.19 98.52 L218.49 98.68 L218.78 98.83 L219.08 98.98 L219.37 99.13 L219.67 99.28 L219.96 99.43 L220.26 99.57 L220.55 99.7 L220.85 99.84 L221.14 99.97 L221.44 100.09 L221.73 100.21 L222.03 100.33 L222.33 100.44 L222.62 100.54 L222.92 100.64 L223.21 100.74 L223.51 100.84 L223.8 100.94 L224.1 101.04 L224.39 101.13 L224.69 101.23 L224.98 101.32 L225.28 101.41 L225.57 101.5 L225.87 101.58 L226.16 101.67 L226.46 101.75 L226.76 101.83 L227.05 101.9 L227.35 101.98 L227.64 102.05 L227.94 102.12 L228.23 102.19 L228.53 102.25 L228.82 102.32 L229.12 102.37 L229.41 102.43 L229.71 102.48 L230 102.53 L230.3 102.58" stroke="#aeaeae" stroke-width="1.3" fill="none" stroke-linejoin="round"/>
<path d="M153.8 104.6 L154.1 104.6 L154.39 104.6 L154.69 104.6 L154.98 104.6 L155.28 104.6 L155.57 104.6 L155.87 104.6 L156.16 104.6 L156.46 104.6 L156.75 104.6 L157.05 104.6 L157.34 104.6 L157.64 104.6 L157.94 104.6 L158.23 104.6 L158.53 104.6 L158.82 104.6 L159.12 104.6 L159.41 104.6 L159.71 104.6 L160 104.59 L160.3 104.38 L160.59 103.93 L160.89 103.31 L161.18 102.55 L161.48 101.71 L161.77 100.82 L162.07 99.95 L162.37 99.07 L162.66 97.89 L162.96 96.52 L163.25 95.14 L163.55 93.9 L163.84 92.99 L164.14 92.58 L164.43 92.46 L164.73 92.35 L165.02 92.28 L165.32 92.22 L165.61 92.2 L165.91 92.21 L166.21 92.23 L166.5 92.26 L166.8 92.3 L167.09 92.35 L167.39 92.39 L167.68 92.44 L167.98 92.49 L168.27 92.53 L168.57 92.56 L168.86 92.58 L169.16 92.58 L169.45 92.57 L169.75 92.55 L170.05 92.51 L170.34 92.46 L170.64 92.41 L170.93 92.34 L171.23 92.26 L171.52 92.18 L171.82 92.08 L172.11 91.99 L172.41 91.88 L172.7 91.78 L173 91.67 L173.29 91.52 L173.59 91.33 L173.88 91.1 L174.18 90.83 L174.48 90.55 L174.77 90.24 L175.07 89.92 L175.36 89.59 L175.66 89.26 L175.95 88.94 L176.25 88.63 L176.54 88.34 L176.84 88.08 L177.13 87.81 L177.43 87.53 L177.72 87.24 L178.02 86.95 L178.32 86.66 L178.61 86.38 L178.91 86.11 L179.2 85.85 L179.5 85.62 L179.79 85.4 L180.09 85.22 L180.38 85.07 L180.68 84.96 L180.97 84.85 L181.27 84.75 L181.56 84.65 L181.86 84.55 L182.16 84.47 L182.45 84.39 L182.75 84.31 L183.04 84.25 L183.34 84.2 L183.63 84.16 L183.93 84.13 L184.22 84.11 L184.52 84.11 L184.81 84.13 L185.11 84.18 L185.4 84.25 L185.7 84.34 L185.99 84.45 L186.29 84.58 L186.59 84.72 L186.88 84.87 L187.18 85.02 L187.47 85.19 L187.77 85.36 L188.06 85.53 L188.36 85.71 L188.65 85.93 L188.95 86.21 L189.24 86.52 L189.54 86.87 L189.83 87.24 L190.13 87.62 L190.43 88 L190.72 88.38 L191.02 88.75 L191.31 89.09 L191.61 89.41 L191.9 89.68 L192.2 89.91 L192.49 90.15 L192.79 90.4 L193.08 90.63 L193.38 90.84 L193.67 91.01 L193.97 91.13 L194.27 91.19 L194.56 91.07 L194.86 90.56 L195.15 89.68 L195.45 88.51 L195.74 87.08 L196.04 85.47 L196.33 83.73 L196.63 81.9 L196.92 79.45 L197.22 75.91 L197.51 71.62 L197.81 66.92 L198.11 62.17 L198.4 57.7 L198.7 53.87 L198.99 50.99 L199.29 48.43 L199.58 45.89 L199.88 43.55 L200.17 41.59 L200.47 40.18 L200.76 39.49 L201.06 39.69 L201.35 40.73 L201.65 42.42 L201.94 44.58 L202.24 47.03 L202.54 49.58 L202.83 52.08 L203.13 55.08 L203.42 58.67 L203.72 62.65 L204.01 66.78 L204.31 70.84 L204.6 74.61 L204.9 77.86 L205.19 80.48 L205.49 82.97 L205.78 85.39 L206.08 87.67 L206.38 89.74 L206.67 91.54 L206.97 92.98 L207.26 94.01 L207.56 94.66 L207.85 95.22 L208.15 95.71 L208.44 96.13 L208.74 96.49 L209.03 96.8 L209.33 97.05 L209.62 97.25 L209.92 97.42 L210.22 97.58 L210.51 97.73 L210.81 97.87 L211.1 98 L211.4 98.12 L211.69 98.23 L211.99 98.33 L212.28 98.41 L212.58 98.49 L212.87 98.55 L213.17 98.61 L213.46 98.65 L213.76 98.69 L214.05 98.72 L214.35 98.74 L214.65 98.76 L214.94 98.78 L215.24 98.8 L215.53 98.81 L215.83 98.84 L216.12 98.86 L216.42 98.89 L216.71 98.93 L217.01 98.99 L217.3 99.05 L217.6 99.13 L217.89 99.22 L218.19 99.31 L218.49 99.42 L218.78 99.52 L219.08 99.65 L219.37 99.8 L219.67 99.98 L219.96 100.18 L220.26 100.38 L220.55 100.6 L220.85 100.81 L221.14 101.01 L221.44 101.2 L221.73 101.36 L222.03 101.5 L222.33 101.64 L222.62 101.77 L222.92 101.89 L223.21 102.02 L223.51 102.13 L223.8 102.25 L224.1 102.35 L224.39 102.46 L224.69 102.55 L224.98 102.64 L225.28 102.72 L225.57 102.8 L225.87 102.87 L226.16 102.93 L226.46 103 L226.76 103.06 L227.05 103.12 L227.35 103.18 L227.64 103.24 L227.94 103.3 L228.23 103.35 L228.53 103.39 L228.82 103.44 L229.12 103.48 L229.41 103.51 L229.71 103.54 L230 103.57 L230.3 103.59" stroke="#111" stroke-width="1.7" fill="none" stroke-linejoin="round"/>
<text x="296" y="20.6" font-size="8.2" fill="#222">500-ml 293F</text>
<line x1="280.6" y1="28.2" x2="280.6" y2="104.6" stroke="#888" stroke-width="1.2" />
<line x1="279.1" y1="104.6" x2="357.35" y2="104.6" stroke="#666" stroke-width="1.2" />
<line x1="278" y1="104.6" x2="280.6" y2="104.6" stroke="#222" stroke-width="1" />
<text x="278.1" y="107.4" font-size="7.8" font-weight="bold" text-anchor="end" fill="#222">0</text>
<line x1="278" y1="91.95" x2="280.6" y2="91.95" stroke="#222" stroke-width="1" />
<text x="278.1" y="94.75" font-size="7.8" font-weight="bold" text-anchor="end" fill="#222">100</text>
<line x1="278" y1="79.3" x2="280.6" y2="79.3" stroke="#222" stroke-width="1" />
<text x="278.1" y="82.1" font-size="7.8" font-weight="bold" text-anchor="end" fill="#222">200</text>
<line x1="278" y1="66.65" x2="280.6" y2="66.65" stroke="#222" stroke-width="1" />
<text x="278.1" y="69.45" font-size="7.8" font-weight="bold" text-anchor="end" fill="#222">300</text>
<line x1="278" y1="54" x2="280.6" y2="54" stroke="#222" stroke-width="1" />
<text x="278.1" y="56.8" font-size="7.8" font-weight="bold" text-anchor="end" fill="#222">400</text>
<line x1="278" y1="41.35" x2="280.6" y2="41.35" stroke="#222" stroke-width="1" />
<text x="278.1" y="44.15" font-size="7.8" font-weight="bold" text-anchor="end" fill="#222">500</text>
<line x1="278" y1="28.7" x2="280.6" y2="28.7" stroke="#222" stroke-width="1" />
<text x="278.1" y="31.5" font-size="7.8" font-weight="bold" text-anchor="end" fill="#222">600</text>
<line x1="288.28" y1="104.6" x2="288.28" y2="107.1" stroke="#222" stroke-width="1" />
<text x="288.28" y="115.3" font-size="7.8" font-weight="bold" text-anchor="middle" fill="#222">8</text>
<line x1="303.62" y1="104.6" x2="303.62" y2="107.1" stroke="#222" stroke-width="1" />
<text x="303.62" y="115.3" font-size="7.8" font-weight="bold" text-anchor="middle" fill="#222">10</text>
<line x1="318.98" y1="104.6" x2="318.98" y2="107.1" stroke="#222" stroke-width="1" />
<text x="318.98" y="115.3" font-size="7.8" font-weight="bold" text-anchor="middle" fill="#222">12</text>
<line x1="334.33" y1="104.6" x2="334.33" y2="107.1" stroke="#222" stroke-width="1" />
<text x="334.33" y="115.3" font-size="7.8" font-weight="bold" text-anchor="middle" fill="#222">14</text>
<line x1="349.68" y1="104.6" x2="349.68" y2="107.1" stroke="#222" stroke-width="1" />
<text x="349.68" y="115.3" font-size="7.8" font-weight="bold" text-anchor="middle" fill="#222">16</text>
<text x="318.98" y="122.9" font-size="7.3" font-weight="bold" text-anchor="middle" fill="#222">Volume (ml)</text>
<text transform="translate(260.6,65.65) rotate(-90)" font-size="7.6" font-weight="bold" text-anchor="middle" fill="#222"><tspan>UV</tspan><tspan dy="1.52" font-size="4.86">280</tspan></text>
<path d="M280.6 104.6 L280.9 104.6 L281.19 104.6 L281.49 104.6 L281.79 104.6 L282.08 104.6 L282.38 104.6 L282.67 104.6 L282.97 104.6 L283.27 104.6 L283.56 104.6 L283.86 104.6 L284.16 104.6 L284.45 104.6 L284.75 104.6 L285.04 104.6 L285.34 104.6 L285.64 104.6 L285.93 104.6 L286.23 104.6 L286.53 104.58 L286.82 104.56 L287.12 104.52 L287.42 104.48 L287.71 104.42 L288.01 104.36 L288.3 104.07 L288.6 103.34 L288.9 102.3 L289.19 101.12 L289.49 99.96 L289.79 98.97 L290.08 98.13 L290.38 97.26 L290.68 96.39 L290.97 95.55 L291.27 94.78 L291.56 94.1 L291.86 93.56 L292.16 93.17 L292.45 92.87 L292.75 92.61 L293.05 92.38 L293.34 92.18 L293.64 92 L293.93 91.83 L294.23 91.67 L294.53 91.52 L294.82 91.37 L295.12 91.21 L295.42 91.04 L295.71 90.85 L296.01 90.64 L296.31 90.43 L296.6 90.22 L296.9 90.01 L297.19 89.8 L297.49 89.58 L297.79 89.36 L298.08 89.13 L298.38 88.89 L298.68 88.63 L298.97 88.36 L299.27 88.08 L299.57 87.77 L299.86 87.44 L300.16 87.07 L300.45 86.66 L300.75 86.2 L301.05 85.72 L301.34 85.2 L301.64 84.66 L301.94 84.09 L302.23 83.5 L302.53 82.89 L302.82 82.27 L303.12 81.65 L303.42 81.01 L303.71 80.37 L304.01 79.7 L304.31 78.99 L304.6 78.25 L304.9 77.48 L305.2 76.69 L305.49 75.88 L305.79 75.06 L306.08 74.23 L306.38 73.4 L306.68 72.58 L306.97 71.76 L307.27 70.96 L307.57 70.17 L307.86 69.39 L308.16 68.61 L308.46 67.84 L308.75 67.06 L309.05 66.29 L309.34 65.51 L309.64 64.73 L309.94 63.95 L310.23 63.17 L310.53 62.39 L310.83 61.6 L311.12 60.8 L311.42 60 L311.71 59.19 L312.01 58.37 L312.31 57.54 L312.6 56.71 L312.9 55.89 L313.2 55.08 L313.49 54.29 L313.79 53.48 L314.09 52.57 L314.38 51.6 L314.68 50.64 L314.97 49.76 L315.27 49.04 L315.57 48.53 L315.86 48.31 L316.16 48.33 L316.46 48.41 L316.75 48.54 L317.05 48.7 L317.35 48.88 L317.64 49.13 L317.94 49.59 L318.23 50.2 L318.53 50.88 L318.83 51.55 L319.12 52.14 L319.42 52.56 L319.72 52.73 L320.01 52.64 L320.31 52.35 L320.6 51.91 L320.9 51.35 L321.2 50.73 L321.49 50.08 L321.79 49.44 L322.09 48.86 L322.38 48.21 L322.68 47.43 L322.98 46.61 L323.27 45.81 L323.57 45.09 L323.86 44.53 L324.16 44.2 L324.46 44.14 L324.75 44.22 L325.05 44.38 L325.35 44.6 L325.64 44.88 L325.94 45.22 L326.24 45.92 L326.53 47.04 L326.83 48.43 L327.12 49.96 L327.42 51.48 L327.72 53.07 L328.01 54.84 L328.31 56.76 L328.61 58.78 L328.9 60.87 L329.2 62.98 L329.49 65.09 L329.79 67.14 L330.09 69.25 L330.38 71.42 L330.68 73.63 L330.98 75.84 L331.27 78.01 L331.57 80.11 L331.87 82.1 L332.16 83.96 L332.46 85.83 L332.75 87.69 L333.05 89.5 L333.35 91.22 L333.64 92.81 L333.94 94.22 L334.24 95.43 L334.53 96.44 L334.83 97.41 L335.13 98.32 L335.42 99.15 L335.72 99.89 L336.01 100.53 L336.31 101.04 L336.61 101.42 L336.9 101.69 L337.2 101.95 L337.5 102.19 L337.79 102.41 L338.09 102.61 L338.38 102.79 L338.68 102.95 L338.98 103.1 L339.27 103.23 L339.57 103.34 L339.87 103.44 L340.16 103.52 L340.46 103.59 L340.76 103.65 L341.05 103.7 L341.35 103.75 L341.64 103.8 L341.94 103.85 L342.24 103.89 L342.53 103.94 L342.83 103.97 L343.13 104.01 L343.42 104.04 L343.72 104.07 L344.02 104.1 L344.31 104.13 L344.61 104.15 L344.9 104.17 L345.2 104.19 L345.5 104.21 L345.79 104.22 L346.09 104.23 L346.39 104.24 L346.68 104.25 L346.98 104.26 L347.27 104.28 L347.57 104.29 L347.87 104.3 L348.16 104.31 L348.46 104.32 L348.76 104.33 L349.05 104.34 L349.35 104.35 L349.65 104.35 L349.94 104.36 L350.24 104.37 L350.53 104.38 L350.83 104.39 L351.13 104.39 L351.42 104.4 L351.72 104.41 L352.02 104.41 L352.31 104.42 L352.61 104.43 L352.91 104.43 L353.2 104.44 L353.5 104.44 L353.79 104.45 L354.09 104.45 L354.39 104.45 L354.68 104.46 L354.98 104.46 L355.28 104.46 L355.57 104.47 L355.87 104.47 L356.16 104.47 L356.46 104.47 L356.76 104.47 L357.05 104.47 L357.35 104.47" stroke="#111" stroke-width="1.5" fill="none" stroke-linejoin="round"/>
<text x="394" y="20.6" font-size="8.2" fill="#222">25-ml ExpiCHO</text>
<line x1="384.5" y1="28.2" x2="384.5" y2="104.6" stroke="#888" stroke-width="1.2" />
<line x1="383" y1="104.6" x2="461" y2="104.6" stroke="#666" stroke-width="1.2" />
<line x1="381.9" y1="104.6" x2="384.5" y2="104.6" stroke="#222" stroke-width="1" />
<text x="382" y="107.4" font-size="7.8" font-weight="bold" text-anchor="end" fill="#222">0</text>
<line x1="381.9" y1="91.95" x2="384.5" y2="91.95" stroke="#222" stroke-width="1" />
<text x="382" y="94.75" font-size="7.8" font-weight="bold" text-anchor="end" fill="#222">100</text>
<line x1="381.9" y1="79.3" x2="384.5" y2="79.3" stroke="#222" stroke-width="1" />
<text x="382" y="82.1" font-size="7.8" font-weight="bold" text-anchor="end" fill="#222">200</text>
<line x1="381.9" y1="66.65" x2="384.5" y2="66.65" stroke="#222" stroke-width="1" />
<text x="382" y="69.45" font-size="7.8" font-weight="bold" text-anchor="end" fill="#222">300</text>
<line x1="381.9" y1="54" x2="384.5" y2="54" stroke="#222" stroke-width="1" />
<text x="382" y="56.8" font-size="7.8" font-weight="bold" text-anchor="end" fill="#222">400</text>
<line x1="381.9" y1="41.35" x2="384.5" y2="41.35" stroke="#222" stroke-width="1" />
<text x="382" y="44.15" font-size="7.8" font-weight="bold" text-anchor="end" fill="#222">500</text>
<line x1="381.9" y1="28.7" x2="384.5" y2="28.7" stroke="#222" stroke-width="1" />
<text x="382" y="31.5" font-size="7.8" font-weight="bold" text-anchor="end" fill="#222">600</text>
<line x1="392.15" y1="104.6" x2="392.15" y2="107.1" stroke="#222" stroke-width="1" />
<text x="392.15" y="115.3" font-size="7.8" font-weight="bold" text-anchor="middle" fill="#222">8</text>
<line x1="407.45" y1="104.6" x2="407.45" y2="107.1" stroke="#222" stroke-width="1" />
<text x="407.45" y="115.3" font-size="7.8" font-weight="bold" text-anchor="middle" fill="#222">10</text>
<line x1="422.75" y1="104.6" x2="422.75" y2="107.1" stroke="#222" stroke-width="1" />
<text x="422.75" y="115.3" font-size="7.8" font-weight="bold" text-anchor="middle" fill="#222">12</text>
<line x1="438.05" y1="104.6" x2="438.05" y2="107.1" stroke="#222" stroke-width="1" />
<text x="438.05" y="115.3" font-size="7.8" font-weight="bold" text-anchor="middle" fill="#222">14</text>
<line x1="453.35" y1="104.6" x2="453.35" y2="107.1" stroke="#222" stroke-width="1" />
<text x="453.35" y="115.3" font-size="7.8" font-weight="bold" text-anchor="middle" fill="#222">16</text>
<text x="422.75" y="122.9" font-size="7.3" font-weight="bold" text-anchor="middle" fill="#222">Volume (ml)</text>
<text transform="translate(364.5,65.65) rotate(-90)" font-size="7.6" font-weight="bold" text-anchor="middle" fill="#222"><tspan>UV</tspan><tspan dy="1.52" font-size="4.86">280</tspan></text>
<path d="M384.5 104.6 L384.8 104.6 L385.09 104.6 L385.39 104.6 L385.68 104.6 L385.98 104.6 L386.27 104.6 L386.57 104.6 L386.86 104.6 L387.16 104.6 L387.45 104.6 L387.75 104.6 L388.04 104.6 L388.34 104.6 L388.64 104.6 L388.93 104.6 L389.23 104.6 L389.52 104.6 L389.82 104.6 L390.11 104.6 L390.41 104.6 L390.7 104.6 L391 104.6 L391.29 104.6 L391.59 104.6 L391.88 104.55 L392.18 104.06 L392.47 103.17 L392.77 102.03 L393.07 100.81 L393.36 99.25 L393.66 97.09 L393.95 94.56 L394.25 91.85 L394.54 89.17 L394.84 86.74 L395.13 84.77 L395.43 83.28 L395.72 81.93 L396.02 80.67 L396.31 79.51 L396.61 78.45 L396.91 77.48 L397.2 76.59 L397.5 75.78 L397.79 75.04 L398.09 74.36 L398.38 73.72 L398.68 73.13 L398.97 72.57 L399.27 72.03 L399.56 71.52 L399.86 71.01 L400.15 70.51 L400.45 70.01 L400.75 69.5 L401.04 69.01 L401.34 68.54 L401.63 68.08 L401.93 67.63 L402.22 67.19 L402.52 66.75 L402.81 66.31 L403.11 65.87 L403.4 65.43 L403.7 64.97 L403.99 64.51 L404.29 64.03 L404.58 63.54 L404.88 63.05 L405.18 62.56 L405.47 62.07 L405.77 61.56 L406.06 61.05 L406.36 60.53 L406.65 59.99 L406.95 59.43 L407.24 58.85 L407.54 58.24 L407.83 57.6 L408.13 56.93 L408.42 56.22 L408.72 55.48 L409.02 54.73 L409.31 53.97 L409.61 53.19 L409.9 52.42 L410.2 51.64 L410.49 50.88 L410.79 50.13 L411.08 49.4 L411.38 48.69 L411.67 47.94 L411.97 47.15 L412.26 46.34 L412.56 45.54 L412.86 44.75 L413.15 44.02 L413.45 43.35 L413.74 42.78 L414.04 42.32 L414.33 41.99 L414.63 41.73 L414.92 41.5 L415.22 41.28 L415.51 41.08 L415.81 40.92 L416.1 40.81 L416.4 40.74 L416.69 40.72 L416.99 40.79 L417.29 40.93 L417.58 41.15 L417.88 41.41 L418.17 41.72 L418.47 42.06 L418.76 42.42 L419.06 42.79 L419.35 43.23 L419.65 43.76 L419.94 44.36 L420.24 45.04 L420.53 45.79 L420.83 46.59 L421.13 47.45 L421.42 48.36 L421.72 49.36 L422.01 50.83 L422.31 52.66 L422.6 54.62 L422.9 56.47 L423.19 57.97 L423.49 58.89 L423.78 59.01 L424.08 58.5 L424.37 57.51 L424.67 56.19 L424.97 54.66 L425.26 53.03 L425.56 51.44 L425.85 50.01 L426.15 48.41 L426.44 46.52 L426.74 44.55 L427.03 42.67 L427.33 41.07 L427.62 39.94 L427.92 39.46 L428.21 39.56 L428.51 39.91 L428.81 40.46 L429.1 41.17 L429.4 41.99 L429.69 42.87 L429.99 43.78 L430.28 44.83 L430.58 46.17 L430.87 47.74 L431.17 49.46 L431.46 51.24 L431.76 53.01 L432.05 54.71 L432.35 56.46 L432.64 58.28 L432.94 60.15 L433.24 62.05 L433.53 63.96 L433.83 65.86 L434.12 67.75 L434.42 69.59 L434.71 71.37 L435.01 73.08 L435.3 74.78 L435.6 76.53 L435.89 78.29 L436.19 80.02 L436.48 81.68 L436.78 83.23 L437.08 84.64 L437.37 85.87 L437.67 86.89 L437.96 87.77 L438.26 88.62 L438.55 89.44 L438.85 90.2 L439.14 90.88 L439.44 91.47 L439.73 91.96 L440.03 92.34 L440.32 92.57 L440.62 92.71 L440.92 92.84 L441.21 92.94 L441.51 93.03 L441.8 93.1 L442.1 93.17 L442.39 93.24 L442.69 93.3 L442.98 93.36 L443.28 93.44 L443.57 93.51 L443.87 93.58 L444.16 93.65 L444.46 93.71 L444.75 93.77 L445.05 93.83 L445.35 93.9 L445.64 93.97 L445.94 94.05 L446.23 94.15 L446.53 94.25 L446.82 94.38 L447.12 94.54 L447.41 94.72 L447.71 94.92 L448 95.14 L448.3 95.37 L448.59 95.61 L448.89 95.85 L449.19 96.1 L449.48 96.34 L449.78 96.59 L450.07 96.87 L450.37 97.16 L450.66 97.46 L450.96 97.78 L451.25 98.09 L451.55 98.39 L451.84 98.67 L452.14 98.94 L452.43 99.18 L452.73 99.39 L453.03 99.58 L453.32 99.78 L453.62 99.96 L453.91 100.14 L454.21 100.31 L454.5 100.48 L454.8 100.64 L455.09 100.78 L455.39 100.92 L455.68 101.05 L455.98 101.16 L456.27 101.27 L456.57 101.36 L456.86 101.45 L457.16 101.54 L457.46 101.63 L457.75 101.72 L458.05 101.8 L458.34 101.88 L458.64 101.95 L458.93 102.02 L459.23 102.08 L459.52 102.14 L459.82 102.19 L460.11 102.24 L460.41 102.27 L460.7 102.3 L461 102.32" stroke="#111" stroke-width="1.5" fill="none" stroke-linejoin="round"/>
<text x="512.6" y="20.6" font-size="8.2" fill="#222">500-ml 293F</text>
<line x1="497.5" y1="28.2" x2="497.5" y2="104.6" stroke="#888" stroke-width="1.2" />
<line x1="496" y1="104.6" x2="573.7" y2="104.6" stroke="#666" stroke-width="1.2" />
<line x1="494.9" y1="104.6" x2="497.5" y2="104.6" stroke="#222" stroke-width="1" />
<text x="495" y="107.4" font-size="7.8" font-weight="bold" text-anchor="end" fill="#222">0</text>
<line x1="494.9" y1="91.95" x2="497.5" y2="91.95" stroke="#222" stroke-width="1" />
<text x="495" y="94.75" font-size="7.8" font-weight="bold" text-anchor="end" fill="#222">100</text>
<line x1="494.9" y1="79.3" x2="497.5" y2="79.3" stroke="#222" stroke-width="1" />
<text x="495" y="82.1" font-size="7.8" font-weight="bold" text-anchor="end" fill="#222">200</text>
<line x1="494.9" y1="66.65" x2="497.5" y2="66.65" stroke="#222" stroke-width="1" />
<text x="495" y="69.45" font-size="7.8" font-weight="bold" text-anchor="end" fill="#222">300</text>
<line x1="494.9" y1="54" x2="497.5" y2="54" stroke="#222" stroke-width="1" />
<text x="495" y="56.8" font-size="7.8" font-weight="bold" text-anchor="end" fill="#222">400</text>
<line x1="494.9" y1="41.35" x2="497.5" y2="41.35" stroke="#222" stroke-width="1" />
<text x="495" y="44.15" font-size="7.8" font-weight="bold" text-anchor="end" fill="#222">500</text>
<line x1="494.9" y1="28.7" x2="497.5" y2="28.7" stroke="#222" stroke-width="1" />
<text x="495" y="31.5" font-size="7.8" font-weight="bold" text-anchor="end" fill="#222">600</text>
<line x1="505.12" y1="104.6" x2="505.12" y2="107.1" stroke="#222" stroke-width="1" />
<text x="505.12" y="115.3" font-size="7.8" font-weight="bold" text-anchor="middle" fill="#222">8</text>
<line x1="520.36" y1="104.6" x2="520.36" y2="107.1" stroke="#222" stroke-width="1" />
<text x="520.36" y="115.3" font-size="7.8" font-weight="bold" text-anchor="middle" fill="#222">10</text>
<line x1="535.6" y1="104.6" x2="535.6" y2="107.1" stroke="#222" stroke-width="1" />
<text x="535.6" y="115.3" font-size="7.8" font-weight="bold" text-anchor="middle" fill="#222">12</text>
<line x1="550.84" y1="104.6" x2="550.84" y2="107.1" stroke="#222" stroke-width="1" />
<text x="550.84" y="115.3" font-size="7.8" font-weight="bold" text-anchor="middle" fill="#222">14</text>
<line x1="566.08" y1="104.6" x2="566.08" y2="107.1" stroke="#222" stroke-width="1" />
<text x="566.08" y="115.3" font-size="7.8" font-weight="bold" text-anchor="middle" fill="#222">16</text>
<text x="535.6" y="122.9" font-size="7.3" font-weight="bold" text-anchor="middle" fill="#222">Volume (ml)</text>
<text transform="translate(477.5,65.65) rotate(-90)" font-size="7.6" font-weight="bold" text-anchor="middle" fill="#222"><tspan>UV</tspan><tspan dy="1.52" font-size="4.86">280</tspan></text>
<path d="M497.5 104.6 L497.79 104.6 L498.09 104.6 L498.38 104.6 L498.68 104.6 L498.97 104.6 L499.27 104.6 L499.56 104.6 L499.85 104.6 L500.15 104.6 L500.44 104.6 L500.74 104.6 L501.03 104.6 L501.32 104.6 L501.62 104.6 L501.91 104.6 L502.21 104.6 L502.5 104.6 L502.8 104.6 L503.09 104.6 L503.38 104.6 L503.68 104.6 L503.97 104.53 L504.27 104.37 L504.56 104.15 L504.86 103.88 L505.15 103.55 L505.44 102.8 L505.74 101.53 L506.03 99.99 L506.33 98.44 L506.62 97.1 L506.91 95.99 L507.21 94.89 L507.5 93.84 L507.8 92.91 L508.09 92.12 L508.39 91.5 L508.68 90.96 L508.97 90.48 L509.27 90.04 L509.56 89.63 L509.86 89.24 L510.15 88.84 L510.45 88.42 L510.74 87.99 L511.03 87.58 L511.33 87.17 L511.62 86.77 L511.92 86.38 L512.21 85.98 L512.5 85.59 L512.8 85.19 L513.09 84.79 L513.39 84.38 L513.68 83.96 L513.98 83.53 L514.27 83.09 L514.56 82.63 L514.86 82.17 L515.15 81.7 L515.45 81.22 L515.74 80.74 L516.04 80.24 L516.33 79.74 L516.62 79.23 L516.92 78.7 L517.21 78.16 L517.51 77.62 L517.8 77.05 L518.09 76.48 L518.39 75.87 L518.68 75.23 L518.98 74.57 L519.27 73.88 L519.57 73.18 L519.86 72.46 L520.15 71.74 L520.45 71.01 L520.74 70.3 L521.04 69.59 L521.33 68.9 L521.63 68.23 L521.92 67.59 L522.21 66.96 L522.51 66.34 L522.8 65.73 L523.1 65.13 L523.39 64.53 L523.68 63.94 L523.98 63.36 L524.27 62.78 L524.57 62.21 L524.86 61.65 L525.16 61.09 L525.45 60.53 L525.74 59.98 L526.04 59.43 L526.33 58.9 L526.63 58.36 L526.92 57.84 L527.22 57.32 L527.51 56.8 L527.8 56.29 L528.1 55.78 L528.39 55.27 L528.69 54.77 L528.98 54.26 L529.27 53.76 L529.57 53.26 L529.86 52.76 L530.16 52.26 L530.45 51.77 L530.75 51.28 L531.04 50.79 L531.33 50.31 L531.63 49.82 L531.92 49.34 L532.22 48.85 L532.51 48.37 L532.81 47.88 L533.1 47.4 L533.39 46.91 L533.69 46.44 L533.98 45.99 L534.28 45.54 L534.57 45.11 L534.86 44.67 L535.16 44.23 L535.45 43.78 L535.75 43.31 L536.04 42.82 L536.34 42.3 L536.63 41.74 L536.92 41.15 L537.22 40.5 L537.51 39.74 L537.81 38.88 L538.1 37.94 L538.39 36.96 L538.69 35.98 L538.98 35.02 L539.28 34.13 L539.57 33.29 L539.87 32.33 L540.16 31.38 L540.45 30.57 L540.75 30.07 L541.04 29.98 L541.34 30.19 L541.63 30.59 L541.93 31.16 L542.22 31.86 L542.51 32.67 L542.81 34.22 L543.1 36.58 L543.4 39.41 L543.69 42.39 L543.98 45.17 L544.28 47.82 L544.57 50.57 L544.87 53.39 L545.16 56.24 L545.46 59.09 L545.75 61.9 L546.04 64.64 L546.34 67.27 L546.63 69.9 L546.93 72.55 L547.22 75.16 L547.52 77.71 L547.81 80.16 L548.1 82.47 L548.4 84.59 L548.69 86.52 L548.99 88.41 L549.28 90.26 L549.57 92.03 L549.87 93.68 L550.16 95.15 L550.46 96.4 L550.75 97.4 L551.05 98.17 L551.34 98.88 L551.63 99.54 L551.93 100.16 L552.22 100.72 L552.52 101.22 L552.81 101.67 L553.11 102.04 L553.4 102.35 L553.69 102.59 L553.99 102.75 L554.28 102.89 L554.58 103.02 L554.87 103.15 L555.16 103.26 L555.46 103.37 L555.75 103.46 L556.05 103.55 L556.34 103.63 L556.64 103.71 L556.93 103.77 L557.22 103.83 L557.52 103.87 L557.81 103.91 L558.11 103.94 L558.4 103.96 L558.7 103.98 L558.99 104 L559.28 104.01 L559.58 104.02 L559.87 104.04 L560.17 104.05 L560.46 104.07 L560.75 104.08 L561.05 104.09 L561.34 104.1 L561.64 104.12 L561.93 104.13 L562.23 104.14 L562.52 104.15 L562.81 104.16 L563.11 104.17 L563.4 104.18 L563.7 104.19 L563.99 104.2 L564.29 104.21 L564.58 104.22 L564.87 104.23 L565.17 104.24 L565.46 104.24 L565.76 104.25 L566.05 104.26 L566.34 104.27 L566.64 104.27 L566.93 104.28 L567.23 104.28 L567.52 104.29 L567.82 104.3 L568.11 104.3 L568.4 104.31 L568.7 104.31 L568.99 104.31 L569.29 104.32 L569.58 104.32 L569.88 104.33 L570.17 104.33 L570.46 104.33 L570.76 104.33 L571.05 104.34 L571.35 104.34 L571.64 104.34 L571.93 104.34 L572.23 104.34 L572.52 104.35 L572.82 104.35 L573.11 104.35 L573.41 104.35 L573.7 104.35" stroke="#111" stroke-width="1.5" fill="none" stroke-linejoin="round"/>
<text x="611" y="20.6" font-size="8.2" fill="#222">25-ml ExpiCHO</text>
<line x1="600.9" y1="28.2" x2="600.9" y2="104.6" stroke="#888" stroke-width="1.2" />
<line x1="599.4" y1="104.6" x2="677.4" y2="104.6" stroke="#666" stroke-width="1.2" />
<line x1="598.3" y1="104.6" x2="600.9" y2="104.6" stroke="#222" stroke-width="1" />
<text x="598.4" y="107.4" font-size="7.8" font-weight="bold" text-anchor="end" fill="#222">0</text>
<line x1="598.3" y1="85.62" x2="600.9" y2="85.62" stroke="#222" stroke-width="1" />
<text x="598.4" y="88.42" font-size="7.8" font-weight="bold" text-anchor="end" fill="#222">50</text>
<line x1="598.3" y1="66.65" x2="600.9" y2="66.65" stroke="#222" stroke-width="1" />
<text x="598.4" y="69.45" font-size="7.8" font-weight="bold" text-anchor="end" fill="#222">100</text>
<line x1="598.3" y1="47.68" x2="600.9" y2="47.68" stroke="#222" stroke-width="1" />
<text x="598.4" y="50.48" font-size="7.8" font-weight="bold" text-anchor="end" fill="#222">150</text>
<line x1="598.3" y1="28.7" x2="600.9" y2="28.7" stroke="#222" stroke-width="1" />
<text x="598.4" y="31.5" font-size="7.8" font-weight="bold" text-anchor="end" fill="#222">200</text>
<line x1="608.55" y1="104.6" x2="608.55" y2="107.1" stroke="#222" stroke-width="1" />
<text x="608.55" y="115.3" font-size="7.8" font-weight="bold" text-anchor="middle" fill="#222">8</text>
<line x1="623.85" y1="104.6" x2="623.85" y2="107.1" stroke="#222" stroke-width="1" />
<text x="623.85" y="115.3" font-size="7.8" font-weight="bold" text-anchor="middle" fill="#222">10</text>
<line x1="639.15" y1="104.6" x2="639.15" y2="107.1" stroke="#222" stroke-width="1" />
<text x="639.15" y="115.3" font-size="7.8" font-weight="bold" text-anchor="middle" fill="#222">12</text>
<line x1="654.45" y1="104.6" x2="654.45" y2="107.1" stroke="#222" stroke-width="1" />
<text x="654.45" y="115.3" font-size="7.8" font-weight="bold" text-anchor="middle" fill="#222">14</text>
<line x1="669.75" y1="104.6" x2="669.75" y2="107.1" stroke="#222" stroke-width="1" />
<text x="669.75" y="115.3" font-size="7.8" font-weight="bold" text-anchor="middle" fill="#222">16</text>
<text x="639.15" y="122.9" font-size="7.3" font-weight="bold" text-anchor="middle" fill="#222">Volume (ml)</text>
<text transform="translate(580.9,65.65) rotate(-90)" font-size="7.6" font-weight="bold" text-anchor="middle" fill="#222"><tspan>UV</tspan><tspan dy="1.52" font-size="4.86">280</tspan></text>
<path d="M600.9 104.6 L601.2 104.6 L601.49 104.6 L601.79 104.6 L602.08 104.6 L602.38 104.6 L602.67 104.6 L602.97 104.6 L603.26 104.6 L603.56 104.6 L603.85 104.6 L604.15 104.6 L604.44 104.6 L604.74 104.6 L605.04 104.58 L605.33 104.51 L605.63 104.4 L605.92 104.26 L606.22 104.09 L606.51 103.88 L606.81 103.65 L607.1 103.37 L607.4 102.72 L607.69 101.67 L607.99 100.31 L608.28 98.75 L608.58 97.1 L608.87 95.45 L609.17 93.9 L609.47 92.49 L609.76 90.91 L610.06 89.2 L610.35 87.47 L610.65 85.84 L610.94 84.42 L611.24 83.33 L611.53 82.67 L611.83 82.41 L612.12 82.2 L612.42 82.02 L612.71 81.9 L613.01 81.84 L613.31 81.85 L613.6 81.95 L613.9 82.15 L614.19 82.4 L614.49 82.71 L614.78 83.04 L615.08 83.39 L615.37 83.73 L615.67 84.04 L615.96 84.31 L616.26 84.52 L616.55 84.72 L616.85 84.92 L617.15 85.12 L617.44 85.32 L617.74 85.51 L618.03 85.69 L618.33 85.86 L618.62 86.01 L618.92 86.14 L619.21 86.25 L619.51 86.33 L619.8 86.37 L620.1 86.38 L620.39 86.36 L620.69 86.31 L620.98 86.24 L621.28 86.14 L621.58 86.03 L621.87 85.9 L622.17 85.76 L622.46 85.61 L622.76 85.45 L623.05 85.29 L623.35 85.13 L623.64 84.97 L623.94 84.82 L624.23 84.65 L624.53 84.47 L624.82 84.27 L625.12 84.06 L625.42 83.84 L625.71 83.61 L626.01 83.38 L626.3 83.16 L626.6 82.94 L626.89 82.72 L627.19 82.52 L627.48 82.32 L627.78 82.15 L628.07 81.98 L628.37 81.81 L628.66 81.64 L628.96 81.48 L629.26 81.32 L629.55 81.16 L629.85 81.01 L630.14 80.86 L630.44 80.73 L630.73 80.6 L631.03 80.48 L631.32 80.37 L631.62 80.27 L631.91 80.17 L632.21 80.07 L632.5 79.97 L632.8 79.88 L633.09 79.79 L633.39 79.71 L633.69 79.65 L633.98 79.6 L634.28 79.56 L634.57 79.55 L634.87 79.57 L635.16 79.63 L635.46 79.71 L635.75 79.81 L636.05 79.92 L636.34 80.03 L636.64 80.13 L636.93 80.21 L637.23 80.28 L637.53 80.31 L637.82 80.31 L638.12 80.27 L638.41 80.21 L638.71 80.12 L639 80.02 L639.3 79.89 L639.59 79.74 L639.89 79.57 L640.18 79.28 L640.48 78.73 L640.77 77.96 L641.07 77.02 L641.37 75.93 L641.66 74.73 L641.96 73.46 L642.25 72.15 L642.55 70.49 L642.84 68.37 L643.14 65.96 L643.43 63.4 L643.73 60.85 L644.02 58.45 L644.32 56.36 L644.61 54.68 L644.91 53.02 L645.21 51.36 L645.5 49.76 L645.8 48.32 L646.09 47.13 L646.39 46.27 L646.68 45.82 L646.98 45.87 L647.27 46.39 L647.57 47.31 L647.86 48.54 L648.16 50.01 L648.45 51.62 L648.75 53.31 L649.04 54.99 L649.34 56.8 L649.64 59.04 L649.93 61.6 L650.23 64.33 L650.52 67.11 L650.82 69.79 L651.11 72.25 L651.41 74.35 L651.7 76.3 L652 78.26 L652.29 80.18 L652.59 81.97 L652.88 83.57 L653.18 84.91 L653.48 85.91 L653.77 86.53 L654.07 86.99 L654.36 87.41 L654.66 87.77 L654.95 88.09 L655.25 88.37 L655.54 88.62 L655.84 88.85 L656.13 89.05 L656.43 89.23 L656.72 89.41 L657.02 89.57 L657.32 89.71 L657.61 89.84 L657.91 89.95 L658.2 90.05 L658.5 90.15 L658.79 90.24 L659.09 90.34 L659.38 90.44 L659.68 90.54 L659.97 90.66 L660.27 90.79 L660.56 90.93 L660.86 91.1 L661.15 91.29 L661.45 91.5 L661.75 91.72 L662.04 91.96 L662.34 92.2 L662.63 92.46 L662.93 92.72 L663.22 92.98 L663.52 93.24 L663.81 93.49 L664.11 93.74 L664.4 93.98 L664.7 94.22 L664.99 94.48 L665.29 94.74 L665.59 95 L665.88 95.27 L666.18 95.53 L666.47 95.79 L666.77 96.04 L667.06 96.27 L667.36 96.49 L667.65 96.69 L667.95 96.87 L668.24 97.02 L668.54 97.15 L668.83 97.27 L669.13 97.38 L669.43 97.49 L669.72 97.58 L670.02 97.67 L670.31 97.76 L670.61 97.84 L670.9 97.92 L671.2 98 L671.49 98.09 L671.79 98.17 L672.08 98.27 L672.38 98.37 L672.67 98.48 L672.97 98.59 L673.26 98.71 L673.56 98.84 L673.86 98.97 L674.15 99.1 L674.45 99.24 L674.74 99.38 L675.04 99.53 L675.33 99.68 L675.63 99.83 L675.92 99.98 L676.22 100.14 L676.51 100.3 L676.81 100.47 L677.1 100.64 L677.4 100.8" stroke="#111" stroke-width="1.5" fill="none" stroke-linejoin="round"/>
<line x1="55.4" y1="29.8" x2="62.4" y2="29.8" stroke="#111" stroke-width="1.4" />
<text x="65.8" y="32.2" font-size="6.6" fill="#222">Run #1</text>
<line x1="55.4" y1="38.2" x2="62.4" y2="38.2" stroke="#b4b4b4" stroke-width="1.4" />
<text x="65.8" y="40.6" font-size="6.6" fill="#222">Run #2</text>
<line x1="55.4" y1="46.6" x2="62.4" y2="46.6" stroke="#cfcfcf" stroke-width="1.4" />
<text x="65.8" y="49" font-size="6.6" fill="#222">Run #3</text>
<line x1="157.4" y1="29.2" x2="164.4" y2="29.2" stroke="#111" stroke-width="1.4" />
<text x="167.8" y="31.6" font-size="6.6" fill="#222">Run #1</text>
<line x1="157.4" y1="38" x2="164.4" y2="38" stroke="#c4c4c4" stroke-width="1.4" />
<text x="167.8" y="40.4" font-size="6.6" fill="#222">Run #2</text>
<line x1="157.4" y1="46.8" x2="164.4" y2="46.8" stroke="#aeaeae" stroke-width="1.4" />
<text x="167.8" y="49.2" font-size="6.6" fill="#222">Run #3</text>
<line x1="157.4" y1="55.6" x2="164.4" y2="55.6" stroke="#9c9c9c" stroke-width="1.4" />
<text x="167.8" y="58" font-size="6.6" fill="#222">Run #4</text>
<text x="65.5" y="171.6" font-size="8.2" fill="#222">500-ml 293F</text>
<line x1="50.9" y1="178.1" x2="50.9" y2="254.6" stroke="#555" stroke-width="1.2" />
<line x1="50.4" y1="254.6" x2="127.3" y2="254.6" stroke="#333" stroke-width="1.2" />
<line x1="48.3" y1="254.6" x2="50.9" y2="254.6" stroke="#222" stroke-width="1" />
<text x="48.3" y="257.5" font-size="8.3" font-weight="bold" text-anchor="end" fill="#222">0</text>
<line x1="48.3" y1="239.4" x2="50.9" y2="239.4" stroke="#222" stroke-width="1" />
<text x="48.3" y="242.3" font-size="8.3" font-weight="bold" text-anchor="end" fill="#222">20</text>
<line x1="48.3" y1="224.2" x2="50.9" y2="224.2" stroke="#222" stroke-width="1" />
<text x="48.3" y="227.1" font-size="8.3" font-weight="bold" text-anchor="end" fill="#222">40</text>
<line x1="48.3" y1="209" x2="50.9" y2="209" stroke="#222" stroke-width="1" />
<text x="48.3" y="211.9" font-size="8.3" font-weight="bold" text-anchor="end" fill="#222">60</text>
<line x1="48.3" y1="193.8" x2="50.9" y2="193.8" stroke="#222" stroke-width="1" />
<text x="48.3" y="196.7" font-size="8.3" font-weight="bold" text-anchor="end" fill="#222">80</text>
<line x1="48.3" y1="178.6" x2="50.9" y2="178.6" stroke="#222" stroke-width="1" />
<text x="48.3" y="181.5" font-size="8.3" font-weight="bold" text-anchor="end" fill="#222">100</text>
<line x1="56.78" y1="254.6" x2="56.78" y2="257.1" stroke="#222" stroke-width="1" />
<text x="56.78" y="265.8" font-size="8.3" font-weight="bold" text-anchor="middle" fill="#222">40</text>
<line x1="80.28" y1="254.6" x2="80.28" y2="257.1" stroke="#222" stroke-width="1" />
<text x="80.28" y="265.8" font-size="8.3" font-weight="bold" text-anchor="middle" fill="#222">60</text>
<line x1="103.79" y1="254.6" x2="103.79" y2="257.1" stroke="#222" stroke-width="1" />
<text x="103.79" y="265.8" font-size="8.3" font-weight="bold" text-anchor="middle" fill="#222">80</text>
<line x1="127.3" y1="254.6" x2="127.3" y2="257.1" stroke="#222" stroke-width="1" />
<text x="127.3" y="265.8" font-size="8.3" font-weight="bold" text-anchor="middle" fill="#222">100</text>
<text x="89.1" y="274.2" font-size="7.2" font-weight="bold" text-anchor="middle" fill="#222">Temperature (°C)</text>
<text transform="translate(29.7,214.9) rotate(-90)" font-size="7.45" font-weight="bold" text-anchor="middle" fill="#222"><tspan>Cp (kcal mol</tspan><tspan dy="-2.83" font-size="4.77">-1</tspan><tspan dy="2.83"> °C</tspan><tspan dy="-2.83" font-size="4.77">-1</tspan><tspan dy="2.83">)</tspan></text>
<path d="M50.9 254.6 L51.16 254.6 L51.41 254.6 L51.67 254.6 L51.92 254.6 L52.18 254.6 L52.43 254.6 L52.69 254.6 L52.94 254.6 L53.2 254.6 L53.46 254.6 L53.71 254.6 L53.97 254.6 L54.22 254.6 L54.48 254.6 L54.73 254.6 L54.99 254.6 L55.24 254.6 L55.5 254.6 L55.75 254.6 L56.01 254.6 L56.27 254.6 L56.52 254.6 L56.78 254.6 L57.03 254.59 L57.29 254.59 L57.54 254.59 L57.8 254.59 L58.05 254.59 L58.31 254.59 L58.57 254.59 L58.82 254.59 L59.08 254.59 L59.33 254.58 L59.59 254.58 L59.84 254.58 L60.1 254.58 L60.35 254.57 L60.61 254.57 L60.87 254.57 L61.12 254.56 L61.38 254.56 L61.63 254.56 L61.89 254.55 L62.14 254.55 L62.4 254.54 L62.65 254.53 L62.91 254.53 L63.16 254.52 L63.42 254.51 L63.68 254.5 L63.93 254.49 L64.19 254.48 L64.44 254.47 L64.7 254.45 L64.95 254.44 L65.21 254.42 L65.46 254.41 L65.72 254.39 L65.98 254.37 L66.23 254.35 L66.49 254.32 L66.74 254.3 L67 254.27 L67.25 254.24 L67.51 254.21 L67.76 254.18 L68.02 254.15 L68.28 254.11 L68.53 254.07 L68.79 254.03 L69.04 253.98 L69.3 253.94 L69.55 253.88 L69.81 253.83 L70.06 253.77 L70.32 253.71 L70.57 253.65 L70.83 253.59 L71.09 253.52 L71.34 253.44 L71.6 253.37 L71.85 253.28 L72.11 253.2 L72.36 253.11 L72.62 253.02 L72.87 252.92 L73.13 252.83 L73.39 252.72 L73.64 252.62 L73.9 252.5 L74.15 252.39 L74.41 252.27 L74.66 252.15 L74.92 252.03 L75.17 251.9 L75.43 251.77 L75.69 251.63 L75.94 251.49 L76.2 251.35 L76.45 251.21 L76.71 251.07 L76.96 250.92 L77.22 250.77 L77.47 250.62 L77.73 250.47 L77.98 250.31 L78.24 250.16 L78.5 250.01 L78.75 249.85 L79.01 249.7 L79.26 249.54 L79.52 249.39 L79.77 249.24 L80.03 249.09 L80.28 248.95 L80.54 248.8 L80.8 248.66 L81.05 248.52 L81.31 248.39 L81.56 248.26 L81.82 248.13 L82.07 248.01 L82.33 247.9 L82.58 247.79 L82.84 247.69 L83.1 247.59 L83.35 247.5 L83.61 247.41 L83.86 247.34 L84.12 247.27 L84.37 247.21 L84.63 247.15 L84.88 247.11 L85.14 247.07 L85.39 247.04 L85.65 247.02 L85.91 247 L86.16 247 L86.42 247 L86.67 247.02 L86.93 247.04 L87.18 247.07 L87.44 247.11 L87.69 247.15 L87.95 247.21 L88.21 247.27 L88.46 247.34 L88.72 247.41 L88.97 247.5 L89.23 247.59 L89.48 247.69 L89.74 247.79 L89.99 247.9 L90.25 248.01 L90.51 248.13 L90.76 248.26 L91.02 248.39 L91.27 248.52 L91.53 248.66 L91.78 248.8 L92.04 248.95 L92.29 249.09 L92.55 249.24 L92.81 249.39 L93.06 249.54 L93.32 249.7 L93.57 249.85 L93.83 250.01 L94.08 250.16 L94.34 250.31 L94.59 250.47 L94.85 250.62 L95.1 250.77 L95.36 250.92 L95.62 251.07 L95.87 251.21 L96.13 251.35 L96.38 251.49 L96.64 251.63 L96.89 251.77 L97.15 251.9 L97.4 252.03 L97.66 252.15 L97.92 252.27 L98.17 252.39 L98.43 252.5 L98.68 252.62 L98.94 252.72 L99.19 252.83 L99.45 252.92 L99.7 253.02 L99.96 253.11 L100.22 253.2 L100.47 253.28 L100.73 253.36 L100.98 253.44 L101.24 253.51 L101.49 253.58 L101.75 253.64 L102 253.7 L102.26 253.75 L102.51 253.8 L102.77 253.84 L103.03 253.88 L103.28 253.91 L103.54 253.94 L103.79 253.96 L104.05 253.96 L104.3 253.96 L104.56 253.95 L104.81 253.92 L105.07 253.87 L105.33 253.81 L105.58 253.72 L105.84 253.61 L106.09 253.47 L106.35 253.3 L106.6 253.09 L106.86 252.83 L107.11 252.52 L107.37 252.15 L107.63 251.72 L107.88 251.22 L108.14 250.64 L108.39 249.98 L108.65 249.22 L108.9 248.35 L109.16 247.38 L109.41 246.29 L109.67 245.07 L109.92 243.73 L110.18 242.26 L110.44 240.65 L110.69 238.91 L110.95 237.03 L111.2 235.02 L111.46 232.88 L111.71 230.63 L111.97 228.28 L112.22 225.84 L112.48 223.32 L112.74 220.74 L112.99 218.14 L113.25 215.52 L113.5 212.92 L113.76 210.37 L114.01 207.89 L114.27 205.51 L114.52 203.27 L114.78 201.18 L115.04 199.29 L115.29 197.6 L115.55 196.16 L115.8 194.97 L116.06 194.05 L116.31 193.42 L116.57 193.09 L116.82 193.06 L117.08 193.33 L117.33 193.9 L117.59 194.76 L117.85 195.9 L118.1 197.3 L118.36 198.94 L118.61 200.79 L118.87 202.84 L119.12 205.06 L119.38 207.41 L119.63 209.88 L119.89 212.42 L120.15 215.01 L120.4 217.63 L120.66 220.24 L120.91 222.82 L121.17 225.36 L121.42 227.82 L121.68 230.2 L121.93 232.47 L122.19 234.64 L122.45 236.67 L122.7 238.58 L122.96 240.36 L123.21 242 L123.47 243.51 L123.72 244.88 L123.98 246.13 L124.23 247.25 L124.49 248.26 L124.74 249.15 L125 249.94 L125.26 250.64 L125.51 251.25 L125.77 251.77 L126.02 252.23 L126.28 252.62 L126.53 252.96 L126.79 253.25 L127.04 253.49 L127.3 253.69" stroke="#ff1a0a" stroke-width="1.9" fill="none" stroke-linejoin="round"/>
<path d="M51.25 254.6 L51.44 254.6 L51.63 254.6 L51.82 254.6 L52.01 254.6 L52.2 254.6 L52.39 254.6 L52.58 254.6 L52.77 254.6 L52.96 254.6 L53.15 254.6 L53.34 254.6 L53.53 254.6 L53.72 254.6 L53.91 254.6 L54.1 254.6 L54.29 254.6 L54.48 254.6 L54.67 254.6 L54.86 254.6 L55.05 254.6 L55.24 254.6 L55.43 254.6 L55.62 254.6 L55.81 254.6 L56 254.6 L56.19 254.6 L56.38 254.6 L56.57 254.6 L56.76 254.6 L56.95 254.59 L57.14 254.59 L57.33 254.59 L57.52 254.59 L57.71 254.59 L57.9 254.59 L58.09 254.59 L58.28 254.59 L58.47 254.59 L58.66 254.59 L58.85 254.59 L59.04 254.59 L59.23 254.58 L59.42 254.58 L59.61 254.58 L59.8 254.58 L59.99 254.58 L60.18 254.58 L60.37 254.57 L60.56 254.57 L60.75 254.57 L60.94 254.57 L61.13 254.56 L61.32 254.56 L61.51 254.56 L61.7 254.55 L61.89 254.55 L62.08 254.55 L62.27 254.54 L62.46 254.54 L62.65 254.53 L62.84 254.53 L63.03 254.52 L63.22 254.52 L63.41 254.51 L63.6 254.5 L63.79 254.5 L63.98 254.49 L64.17 254.48 L64.36 254.47 L64.55 254.46 L64.74 254.45 L64.93 254.44 L65.12 254.43 L65.31 254.42 L65.5 254.4 L65.69 254.39 L65.88 254.38 L66.07 254.36 L66.26 254.34 L66.45 254.33 L66.64 254.31 L66.83 254.29 L67.02 254.27 L67.21 254.25 L67.4 254.23 L67.59 254.2 L67.78 254.18 L67.97 254.15 L68.16 254.13 L68.35 254.1 L68.54 254.07 L68.73 254.04 L68.92 254 L69.11 253.97 L69.3 253.93 L69.49 253.9 L69.68 253.86 L69.87 253.82 L70.06 253.77 L70.25 253.73 L70.44 253.68 L70.63 253.64 L70.82 253.59 L71.01 253.54 L71.2 253.48 L71.39 253.43 L71.58 253.37 L71.77 253.31 L71.96 253.25 L72.15 253.18 L72.34 253.12 L72.53 253.05 L72.72 252.98 L72.91 252.91 L73.1 252.84 L73.29 252.76 L73.48 252.68 L73.67 252.6 L73.86 252.52 L74.05 252.44 L74.24 252.35 L74.43 252.26 L74.62 252.17 L74.81 252.08 L75 251.98 L75.19 251.89 L75.38 251.79 L75.57 251.69 L75.76 251.59 L75.95 251.49 L76.14 251.38 L76.33 251.28 L76.52 251.17 L76.71 251.06 L76.9 250.95 L77.09 250.84 L77.28 250.73 L77.47 250.62 L77.66 250.51 L77.85 250.39 L78.04 250.28 L78.23 250.16 L78.42 250.05 L78.61 249.93 L78.8 249.82 L78.99 249.71 L79.18 249.59 L79.37 249.48 L79.56 249.37 L79.75 249.25 L79.94 249.14 L80.13 249.03 L80.32 248.92 L80.51 248.82 L80.7 248.71 L80.89 248.61 L81.08 248.51 L81.27 248.41 L81.46 248.31 L81.65 248.21 L81.84 248.12 L82.03 248.03 L82.22 247.95 L82.41 247.86 L82.6 247.78 L82.79 247.7 L82.98 247.63 L83.17 247.56 L83.36 247.49 L83.55 247.43 L83.74 247.37 L83.93 247.32 L84.12 247.27 L84.31 247.22 L84.5 247.18 L84.69 247.14 L84.88 247.11 L85.07 247.08 L85.26 247.05 L85.45 247.03 L85.64 247.02 L85.83 247.01 L86.02 247 L86.21 247 L86.4 247 L86.59 247.01 L86.78 247.03 L86.97 247.04 L87.16 247.07 L87.35 247.09 L87.54 247.12 L87.73 247.16 L87.92 247.2 L88.11 247.24 L88.3 247.29 L88.49 247.35 L88.68 247.4 L88.87 247.46 L89.06 247.53 L89.25 247.6 L89.44 247.67 L89.63 247.75 L89.82 247.82 L90.01 247.91 L90.2 247.99 L90.39 248.08 L90.58 248.17 L90.77 248.27 L90.96 248.36 L91.15 248.46 L91.34 248.56 L91.53 248.66 L91.72 248.77 L91.91 248.88 L92.1 248.98 L92.29 249.09 L92.48 249.2 L92.67 249.32 L92.86 249.43 L93.05 249.54 L93.24 249.65 L93.43 249.77 L93.62 249.88 L93.81 250 L94 250.11 L94.19 250.23 L94.38 250.34 L94.57 250.45 L94.76 250.57 L94.95 250.68 L95.14 250.79 L95.33 250.9 L95.52 251.01 L95.71 251.12 L95.9 251.23 L96.09 251.34 L96.28 251.44 L96.47 251.54 L96.66 251.65 L96.85 251.75 L97.04 251.84 L97.23 251.94 L97.42 252.04 L97.61 252.13 L97.8 252.22 L97.99 252.31 L98.18 252.4 L98.37 252.48 L98.56 252.56 L98.75 252.65 L98.94 252.72 L99.13 252.8 L99.32 252.88 L99.51 252.95 L99.7 253.02 L99.89 253.09 L100.08 253.15 L100.27 253.22 L100.46 253.28 L100.65 253.34 L100.84 253.4 L101.03 253.45 L101.22 253.5 L101.41 253.56 L101.6 253.6 L101.79 253.65 L101.98 253.69 L102.17 253.73 L102.36 253.77 L102.55 253.81 L102.74 253.84 L102.93 253.87 L103.12 253.9 L103.31 253.92 L103.5 253.94 L103.69 253.95 L103.88 253.96 L104.07 253.96 L104.26 253.96 L104.45 253.95 L104.64 253.94 L104.83 253.92 L105.02 253.88 L105.21 253.84 L105.4 253.79 L105.59 253.72 L105.78 253.64 L105.97 253.54 L106.16 253.43 L106.35 253.29 L106.54 253.14 L106.73 252.96 L106.92 252.75 L107.11 252.52 L107.3 252.25 L107.49 251.95 L107.68 251.62 L107.87 251.24 L108.06 250.82 L108.25 250.35 L108.44 249.83 L108.63 249.26 L108.82 248.63 L109.01 247.94 L109.2 247.19 L109.39 246.37 L109.58 245.49 L109.77 244.54 L109.96 243.51 L110.15 242.41 L110.34 241.24 L110.53 239.99 L110.72 238.67 L110.91 237.27 L111.1 235.8 L111.29 234.26 L111.48 232.66 L111.67 230.98 L111.86 229.25 L112.05 227.47 L112.24 225.64 L112.43 223.77 L112.62 221.87 L112.81 219.94 L113 218 L113.19 216.05 L113.38 214.11 L113.57 212.19 L113.76 210.3 L113.95 208.45 L114.14 206.65 L114.33 204.92 L114.52 203.26 L114.71 201.7 L114.9 200.23 L115.09 198.88 L115.28 197.64 L115.47 196.54 L115.66 195.57 L115.85 194.75 L116.04 194.09 L116.23 193.58 L116.42 193.24 L116.61 193.06 L116.8 193.05 L116.99 193.21 L117.18 193.53 L117.37 194.02 L117.56 194.66 L117.75 195.46 L117.94 196.41 L118.13 197.5 L118.32 198.72 L118.51 200.06 L118.7 201.51 L118.89 203.07 L119.08 204.72 L119.27 206.44 L119.46 208.23 L119.65 210.08 L119.84 211.96 L120.03 213.88 L120.22 215.82 L120.41 217.77 L120.6 219.71 L120.79 221.64 L120.98 223.55 L121.17 225.43 L121.36 227.27 L121.55 229.06 L121.74 230.8 L121.93 232.48 L122.12 234.1 L122.31 235.65 L122.5 237.13 L122.69 238.54 L122.88 239.88 L123.07 241.14 L123.26 242.32 L123.45 243.44 L123.64 244.48 L123.83 245.44 L124.02 246.34 L124.21 247.17 L124.4 247.94 L124.59 248.64 L124.78 249.28 L124.97 249.87 L125.16 250.4 L125.35 250.88 L125.54 251.32 L125.73 251.71 L125.92 252.07 L126.11 252.38 L126.3 252.66 L126.49 252.91 L126.68 253.14 L126.87 253.33 L127.06 253.5" stroke="#000" stroke-width="1.3" fill="none" stroke-dasharray="1.2 2.3"/>
<rect x="57.4" y="193.6" width="43.7" height="23" fill="#fff" stroke="#777" stroke-width="0.9" />
<text x="60" y="202.8" font-size="7.9" class="hv"><tspan>T</tspan><tspan dy="1.74" font-size="5.37">m1</tspan></text>
<text x="77" y="202.8" font-size="7.6" class="hv">=</text>
<text x="83.2" y="202.8" font-size="7.3" class="hv">65.4</text>
<text x="60" y="211.5" font-size="7.9" class="hv"><tspan>T</tspan><tspan dy="1.74" font-size="5.37">m2</tspan></text>
<text x="77" y="211.5" font-size="7.6" class="hv">=</text>
<text x="83.2" y="211.5" font-size="7.3" class="hv">90.7</text>
<text x="163" y="171.6" font-size="8.2" fill="#222">25-ml ExpiCHO</text>
<line x1="164.5" y1="178.1" x2="164.5" y2="254.6" stroke="#555" stroke-width="1.2" />
<line x1="164" y1="254.6" x2="240.4" y2="254.6" stroke="#333" stroke-width="1.2" />
<line x1="161.9" y1="254.6" x2="164.5" y2="254.6" stroke="#222" stroke-width="1" />
<text x="161.9" y="257.5" font-size="8.3" font-weight="bold" text-anchor="end" fill="#222">0</text>
<line x1="161.9" y1="239.4" x2="164.5" y2="239.4" stroke="#222" stroke-width="1" />
<text x="161.9" y="242.3" font-size="8.3" font-weight="bold" text-anchor="end" fill="#222">20</text>
<line x1="161.9" y1="224.2" x2="164.5" y2="224.2" stroke="#222" stroke-width="1" />
<text x="161.9" y="227.1" font-size="8.3" font-weight="bold" text-anchor="end" fill="#222">40</text>
<line x1="161.9" y1="209" x2="164.5" y2="209" stroke="#222" stroke-width="1" />
<text x="161.9" y="211.9" font-size="8.3" font-weight="bold" text-anchor="end" fill="#222">60</text>
<line x1="161.9" y1="193.8" x2="164.5" y2="193.8" stroke="#222" stroke-width="1" />
<text x="161.9" y="196.7" font-size="8.3" font-weight="bold" text-anchor="end" fill="#222">80</text>
<line x1="161.9" y1="178.6" x2="164.5" y2="178.6" stroke="#222" stroke-width="1" />
<text x="161.9" y="181.5" font-size="8.3" font-weight="bold" text-anchor="end" fill="#222">100</text>
<line x1="170.34" y1="254.6" x2="170.34" y2="257.1" stroke="#222" stroke-width="1" />
<text x="170.34" y="265.8" font-size="8.3" font-weight="bold" text-anchor="middle" fill="#222">40</text>
<line x1="193.69" y1="254.6" x2="193.69" y2="257.1" stroke="#222" stroke-width="1" />
<text x="193.69" y="265.8" font-size="8.3" font-weight="bold" text-anchor="middle" fill="#222">60</text>
<line x1="217.05" y1="254.6" x2="217.05" y2="257.1" stroke="#222" stroke-width="1" />
<text x="217.05" y="265.8" font-size="8.3" font-weight="bold" text-anchor="middle" fill="#222">80</text>
<line x1="240.4" y1="254.6" x2="240.4" y2="257.1" stroke="#222" stroke-width="1" />
<text x="240.4" y="265.8" font-size="8.3" font-weight="bold" text-anchor="middle" fill="#222">100</text>
<text x="202.45" y="274.2" font-size="7.2" font-weight="bold" text-anchor="middle" fill="#222">Temperature (°C)</text>
<text transform="translate(143.3,214.9) rotate(-90)" font-size="7.45" font-weight="bold" text-anchor="middle" fill="#222"><tspan>Cp (kcal mol</tspan><tspan dy="-2.83" font-size="4.77">-1</tspan><tspan dy="2.83"> °C</tspan><tspan dy="-2.83" font-size="4.77">-1</tspan><tspan dy="2.83">)</tspan></text>
<path d="M164.5 254.6 L164.75 254.6 L165.01 254.6 L165.26 254.6 L165.52 254.6 L165.77 254.6 L166.02 254.6 L166.28 254.6 L166.53 254.6 L166.78 254.6 L167.04 254.6 L167.29 254.6 L167.55 254.6 L167.8 254.6 L168.05 254.6 L168.31 254.6 L168.56 254.59 L168.82 254.59 L169.07 254.59 L169.32 254.59 L169.58 254.58 L169.83 254.58 L170.08 254.57 L170.34 254.56 L170.59 254.55 L170.85 254.54 L171.1 254.52 L171.35 254.5 L171.61 254.48 L171.86 254.45 L172.12 254.41 L172.37 254.36 L172.62 254.31 L172.88 254.24 L173.13 254.17 L173.38 254.07 L173.64 253.97 L173.89 253.84 L174.15 253.69 L174.4 253.52 L174.65 253.32 L174.91 253.1 L175.16 252.84 L175.42 252.56 L175.67 252.24 L175.92 251.88 L176.18 251.49 L176.43 251.05 L176.68 250.58 L176.94 250.07 L177.19 249.52 L177.45 248.93 L177.7 248.31 L177.95 247.66 L178.21 246.98 L178.46 246.27 L178.72 245.55 L178.97 244.82 L179.22 244.08 L179.48 243.34 L179.73 242.62 L179.98 241.91 L180.24 241.24 L180.49 240.6 L180.75 240 L181 239.45 L181.25 238.97 L181.51 238.54 L181.76 238.19 L182.02 237.91 L182.27 237.7 L182.52 237.57 L182.78 237.52 L183.03 237.54 L183.28 237.63 L183.54 237.79 L183.79 238.01 L184.05 238.27 L184.3 238.58 L184.55 238.92 L184.81 239.28 L185.06 239.65 L185.32 240.03 L185.57 240.39 L185.82 240.73 L186.08 241.03 L186.33 241.3 L186.58 241.51 L186.84 241.68 L187.09 241.77 L187.35 241.81 L187.6 241.77 L187.85 241.67 L188.11 241.51 L188.36 241.28 L188.62 240.99 L188.87 240.65 L189.12 240.26 L189.38 239.85 L189.63 239.4 L189.88 238.95 L190.14 238.49 L190.39 238.04 L190.65 237.61 L190.9 237.21 L191.15 236.86 L191.41 236.56 L191.66 236.32 L191.92 236.15 L192.17 236.05 L192.42 236.04 L192.68 236.11 L192.93 236.27 L193.18 236.51 L193.44 236.83 L193.69 237.23 L193.95 237.71 L194.2 238.26 L194.45 238.87 L194.71 239.54 L194.96 240.25 L195.22 240.99 L195.47 241.77 L195.72 242.56 L195.98 243.37 L196.23 244.17 L196.48 244.97 L196.74 245.75 L196.99 246.51 L197.25 247.24 L197.5 247.95 L197.75 248.61 L198.01 249.24 L198.26 249.83 L198.52 250.37 L198.77 250.88 L199.02 251.34 L199.28 251.75 L199.53 252.13 L199.78 252.47 L200.04 252.77 L200.29 253.04 L200.55 253.27 L200.8 253.48 L201.05 253.66 L201.31 253.81 L201.56 253.95 L201.82 254.06 L202.07 254.15 L202.32 254.24 L202.58 254.3 L202.83 254.36 L203.08 254.41 L203.34 254.44 L203.59 254.48 L203.85 254.5 L204.1 254.52 L204.35 254.54 L204.61 254.55 L204.86 254.56 L205.12 254.57 L205.37 254.58 L205.62 254.58 L205.88 254.59 L206.13 254.59 L206.38 254.59 L206.64 254.59 L206.89 254.6 L207.15 254.6 L207.4 254.6 L207.65 254.6 L207.91 254.6 L208.16 254.6 L208.42 254.6 L208.67 254.6 L208.92 254.6 L209.18 254.6 L209.43 254.6 L209.68 254.6 L209.94 254.6 L210.19 254.6 L210.45 254.6 L210.7 254.6 L210.95 254.6 L211.21 254.59 L211.46 254.59 L211.72 254.59 L211.97 254.59 L212.22 254.58 L212.48 254.58 L212.73 254.57 L212.98 254.56 L213.24 254.56 L213.49 254.54 L213.75 254.53 L214 254.51 L214.25 254.49 L214.51 254.47 L214.76 254.44 L215.02 254.4 L215.27 254.36 L215.52 254.31 L215.78 254.24 L216.03 254.17 L216.28 254.08 L216.54 253.98 L216.79 253.85 L217.05 253.71 L217.3 253.55 L217.55 253.35 L217.81 253.13 L218.06 252.88 L218.32 252.59 L218.57 252.26 L218.82 251.88 L219.08 251.45 L219.33 250.97 L219.58 250.44 L219.84 249.84 L220.09 249.17 L220.35 248.43 L220.6 247.62 L220.85 246.73 L221.11 245.77 L221.36 244.71 L221.62 243.57 L221.87 242.35 L222.12 241.04 L222.38 239.64 L222.63 238.16 L222.88 236.6 L223.14 234.96 L223.39 233.25 L223.65 231.48 L223.9 229.65 L224.15 227.78 L224.41 225.87 L224.66 223.93 L224.92 221.98 L225.17 220.04 L225.42 218.11 L225.68 216.22 L225.93 214.37 L226.18 212.59 L226.44 210.89 L226.69 209.28 L226.95 207.79 L227.2 206.43 L227.45 205.21 L227.71 204.13 L227.96 203.23 L228.22 202.5 L228.47 201.95 L228.72 201.58 L228.98 201.41 L229.23 201.44 L229.48 201.65 L229.74 202.06 L229.99 202.66 L230.25 203.43 L230.5 204.38 L230.75 205.49 L231.01 206.74 L231.26 208.14 L231.52 209.66 L231.77 211.29 L232.02 213.01 L232.28 214.81 L232.53 216.67 L232.78 218.57 L233.04 220.5 L233.29 222.45 L233.55 224.4 L233.8 226.33 L234.05 228.23 L234.31 230.1 L234.56 231.91 L234.82 233.67 L235.07 235.36 L235.32 236.98 L235.58 238.52 L235.83 239.98 L236.08 241.36 L236.34 242.65 L236.59 243.86 L236.85 244.97 L237.1 246.01 L237.35 246.96 L237.61 247.83 L237.86 248.62 L238.12 249.34 L238.37 249.99 L238.62 250.57 L238.88 251.09 L239.13 251.56 L239.38 251.97 L239.64 252.34 L239.89 252.66 L240.15 252.94 L240.4 253.19" stroke="#ff1a0a" stroke-width="1.9" fill="none" stroke-linejoin="round"/>
<path d="M164.85 254.6 L165.04 254.6 L165.23 254.6 L165.42 254.6 L165.61 254.6 L165.79 254.6 L165.98 254.6 L166.17 254.6 L166.36 254.6 L166.55 254.6 L166.74 254.6 L166.93 254.6 L167.12 254.6 L167.3 254.6 L167.49 254.6 L167.68 254.6 L167.87 254.6 L168.06 254.6 L168.25 254.6 L168.44 254.6 L168.63 254.59 L168.81 254.59 L169 254.59 L169.19 254.59 L169.38 254.59 L169.57 254.58 L169.76 254.58 L169.95 254.58 L170.14 254.57 L170.32 254.56 L170.51 254.56 L170.7 254.55 L170.89 254.54 L171.08 254.53 L171.27 254.51 L171.46 254.49 L171.65 254.47 L171.83 254.45 L172.02 254.42 L172.21 254.39 L172.4 254.36 L172.59 254.32 L172.78 254.27 L172.97 254.22 L173.16 254.16 L173.34 254.09 L173.53 254.01 L173.72 253.93 L173.91 253.83 L174.1 253.72 L174.29 253.6 L174.48 253.46 L174.67 253.31 L174.85 253.15 L175.04 252.97 L175.23 252.77 L175.42 252.55 L175.61 252.32 L175.8 252.06 L175.99 251.78 L176.18 251.49 L176.36 251.17 L176.55 250.83 L176.74 250.47 L176.93 250.08 L177.12 249.68 L177.31 249.25 L177.5 248.81 L177.69 248.34 L177.87 247.86 L178.06 247.36 L178.25 246.85 L178.44 246.33 L178.63 245.79 L178.82 245.25 L179.01 244.7 L179.2 244.16 L179.39 243.61 L179.57 243.07 L179.76 242.53 L179.95 242.01 L180.14 241.5 L180.33 241 L180.52 240.53 L180.71 240.09 L180.9 239.67 L181.08 239.29 L181.27 238.93 L181.46 238.61 L181.65 238.34 L181.84 238.1 L182.03 237.9 L182.22 237.74 L182.41 237.62 L182.59 237.55 L182.78 237.52 L182.97 237.53 L183.16 237.58 L183.35 237.67 L183.54 237.79 L183.73 237.95 L183.92 238.13 L184.1 238.34 L184.29 238.57 L184.48 238.82 L184.67 239.08 L184.86 239.36 L185.05 239.63 L185.24 239.91 L185.43 240.18 L185.61 240.45 L185.8 240.7 L185.99 240.93 L186.18 241.15 L186.37 241.33 L186.56 241.49 L186.75 241.62 L186.94 241.72 L187.12 241.78 L187.31 241.81 L187.5 241.8 L187.69 241.75 L187.88 241.66 L188.07 241.54 L188.26 241.38 L188.45 241.19 L188.63 240.96 L188.82 240.71 L189.01 240.44 L189.2 240.14 L189.39 239.82 L189.58 239.5 L189.77 239.16 L189.96 238.82 L190.14 238.48 L190.33 238.14 L190.52 237.81 L190.71 237.5 L190.9 237.21 L191.09 236.94 L191.28 236.7 L191.47 236.5 L191.65 236.32 L191.84 236.19 L192.03 236.09 L192.22 236.04 L192.41 236.04 L192.6 236.08 L192.79 236.17 L192.98 236.3 L193.16 236.48 L193.35 236.71 L193.54 236.99 L193.73 237.3 L193.92 237.66 L194.11 238.05 L194.3 238.49 L194.49 238.95 L194.67 239.44 L194.86 239.96 L195.05 240.5 L195.24 241.06 L195.43 241.63 L195.62 242.21 L195.81 242.8 L196 243.39 L196.18 243.98 L196.37 244.57 L196.56 245.14 L196.75 245.7 L196.94 246.25 L197.13 246.78 L197.32 247.29 L197.51 247.78 L197.69 248.24 L197.88 248.67 L198.07 249.08 L198.26 249.45 L198.45 249.79 L198.64 250.11 L198.83 250.38 L199.02 250.63 L199.21 250.85 L199.39 251.03 L199.58 251.18 L199.77 251.31 L199.96 251.4 L200.15 251.47 L200.34 251.52 L200.53 251.55 L200.72 251.56 L200.9 251.55 L201.09 251.53 L201.28 251.5 L201.47 251.47 L201.66 251.43 L201.85 251.4 L202.04 251.37 L202.23 251.34 L202.41 251.33 L202.6 251.32 L202.79 251.33 L202.98 251.35 L203.17 251.38 L203.36 251.44 L203.55 251.5 L203.74 251.59 L203.92 251.68 L204.11 251.79 L204.3 251.91 L204.49 252.04 L204.68 252.18 L204.87 252.33 L205.06 252.48 L205.25 252.63 L205.43 252.79 L205.62 252.94 L205.81 253.09 L206 253.23 L206.19 253.37 L206.38 253.5 L206.57 253.63 L206.76 253.74 L206.94 253.85 L207.13 253.95 L207.32 254.03 L207.51 254.11 L207.7 254.19 L207.89 254.25 L208.08 254.3 L208.27 254.35 L208.45 254.39 L208.64 254.43 L208.83 254.46 L209.02 254.49 L209.21 254.51 L209.4 254.52 L209.59 254.54 L209.78 254.55 L209.96 254.56 L210.15 254.57 L210.34 254.57 L210.53 254.58 L210.72 254.58 L210.91 254.58 L211.1 254.59 L211.29 254.59 L211.47 254.59 L211.66 254.59 L211.85 254.58 L212.04 254.58 L212.23 254.58 L212.42 254.58 L212.61 254.57 L212.8 254.57 L212.98 254.56 L213.17 254.55 L213.36 254.54 L213.55 254.53 L213.74 254.52 L213.93 254.5 L214.12 254.48 L214.31 254.46 L214.49 254.43 L214.68 254.4 L214.87 254.36 L215.06 254.32 L215.25 254.26 L215.44 254.2 L215.63 254.13 L215.82 254.04 L216 253.95 L216.19 253.83 L216.38 253.71 L216.57 253.56 L216.76 253.39 L216.95 253.2 L217.14 252.99 L217.33 252.75 L217.51 252.48 L217.7 252.19 L217.89 251.86 L218.08 251.5 L218.27 251.11 L218.46 250.68 L218.65 250.22 L218.84 249.73 L219.03 249.2 L219.21 248.63 L219.4 248.04 L219.59 247.41 L219.78 246.75 L219.97 246.06 L220.16 245.34 L220.35 244.59 L220.54 243.83 L220.72 243.03 L220.91 242.22 L221.1 241.39 L221.29 240.53 L221.48 239.66 L221.67 238.77 L221.86 237.86 L222.05 236.93 L222.23 235.99 L222.42 235.02 L222.61 234.04 L222.8 233.03 L222.99 232 L223.18 230.95 L223.37 229.88 L223.56 228.78 L223.74 227.65 L223.93 226.5 L224.12 225.33 L224.31 224.14 L224.5 222.93 L224.69 221.7 L224.88 220.45 L225.07 219.2 L225.25 217.94 L225.44 216.68 L225.63 215.43 L225.82 214.19 L226.01 212.97 L226.2 211.77 L226.39 210.61 L226.58 209.49 L226.76 208.41 L226.95 207.39 L227.14 206.42 L227.33 205.53 L227.52 204.71 L227.71 203.96 L227.9 203.31 L228.09 202.74 L228.27 202.26 L228.46 201.89 L228.65 201.61 L228.84 201.44 L229.03 201.37 L229.22 201.41 L229.41 201.55 L229.6 201.79 L229.78 202.14 L229.97 202.6 L230.16 203.15 L230.35 203.8 L230.54 204.54 L230.73 205.36 L230.92 206.28 L231.11 207.27 L231.29 208.33 L231.48 209.46 L231.67 210.65 L231.86 211.9 L232.05 213.19 L232.24 214.53 L232.43 215.9 L232.62 217.3 L232.8 218.72 L232.99 220.16 L233.18 221.6 L233.37 223.05 L233.56 224.5 L233.75 225.94 L233.94 227.36 L234.13 228.77 L234.31 230.15 L234.5 231.5 L234.69 232.83 L234.88 234.12 L235.07 235.37 L235.26 236.58 L235.45 237.75 L235.64 238.87 L235.82 239.95 L236.01 240.99 L236.2 241.97 L236.39 242.91 L236.58 243.8 L236.77 244.64 L236.96 245.44 L237.15 246.18 L237.34 246.89 L237.52 247.55 L237.71 248.16 L237.9 248.74 L238.09 249.27 L238.28 249.76 L238.47 250.22 L238.66 250.64 L238.85 251.03 L239.03 251.39 L239.22 251.72 L239.41 252.01 L239.6 252.29 L239.79 252.53 L239.98 252.76 L240.17 252.96" stroke="#000" stroke-width="1.3" fill="none" stroke-dasharray="1.2 2.3"/>
<rect x="171.2" y="184.4" width="43.1" height="32.2" fill="#fff" stroke="#777" stroke-width="0.9" />
<text x="173" y="193.7" font-size="7.9" class="hv"><tspan>T</tspan><tspan dy="1.74" font-size="5.37">m1</tspan></text>
<text x="189.4" y="193.7" font-size="7.6" class="hv">=</text>
<text x="195.8" y="193.7" font-size="7.3" class="hv">51.1</text>
<text x="173" y="202.1" font-size="7.9" class="hv"><tspan>T</tspan><tspan dy="1.74" font-size="5.37">m2</tspan></text>
<text x="189.4" y="202.1" font-size="7.6" class="hv">=</text>
<text x="195.8" y="202.1" font-size="7.3" class="hv">58.7</text>
<text x="173" y="210.5" font-size="7.9" class="hv"><tspan>T</tspan><tspan dy="1.74" font-size="5.37">m3</tspan></text>
<text x="189.4" y="210.5" font-size="7.6" class="hv">=</text>
<text x="195.8" y="210.5" font-size="7.3" class="hv">90.3</text>
<text x="296" y="171.6" font-size="8.2" fill="#222">500-ml 293F</text>
<line x1="281.4" y1="178.1" x2="281.4" y2="254.6" stroke="#555" stroke-width="1.2" />
<line x1="280.9" y1="254.6" x2="357.8" y2="254.6" stroke="#333" stroke-width="1.2" />
<line x1="278.8" y1="250.98" x2="281.4" y2="250.98" stroke="#222" stroke-width="1" />
<text x="278.8" y="253.88" font-size="8.3" font-weight="bold" text-anchor="end" fill="#222">0</text>
<line x1="278.8" y1="236.5" x2="281.4" y2="236.5" stroke="#222" stroke-width="1" />
<text x="278.8" y="239.4" font-size="8.3" font-weight="bold" text-anchor="end" fill="#222">20</text>
<line x1="278.8" y1="222.03" x2="281.4" y2="222.03" stroke="#222" stroke-width="1" />
<text x="278.8" y="224.93" font-size="8.3" font-weight="bold" text-anchor="end" fill="#222">40</text>
<line x1="278.8" y1="207.55" x2="281.4" y2="207.55" stroke="#222" stroke-width="1" />
<text x="278.8" y="210.45" font-size="8.3" font-weight="bold" text-anchor="end" fill="#222">60</text>
<line x1="278.8" y1="193.08" x2="281.4" y2="193.08" stroke="#222" stroke-width="1" />
<text x="278.8" y="195.98" font-size="8.3" font-weight="bold" text-anchor="end" fill="#222">80</text>
<line x1="278.8" y1="178.6" x2="281.4" y2="178.6" stroke="#222" stroke-width="1" />
<text x="278.8" y="181.5" font-size="8.3" font-weight="bold" text-anchor="end" fill="#222">100</text>
<line x1="287.28" y1="254.6" x2="287.28" y2="257.1" stroke="#222" stroke-width="1" />
<text x="287.28" y="265.8" font-size="8.3" font-weight="bold" text-anchor="middle" fill="#222">40</text>
<line x1="310.78" y1="254.6" x2="310.78" y2="257.1" stroke="#222" stroke-width="1" />
<text x="310.78" y="265.8" font-size="8.3" font-weight="bold" text-anchor="middle" fill="#222">60</text>
<line x1="334.29" y1="254.6" x2="334.29" y2="257.1" stroke="#222" stroke-width="1" />
<text x="334.29" y="265.8" font-size="8.3" font-weight="bold" text-anchor="middle" fill="#222">80</text>
<line x1="357.8" y1="254.6" x2="357.8" y2="257.1" stroke="#222" stroke-width="1" />
<text x="357.8" y="265.8" font-size="8.3" font-weight="bold" text-anchor="middle" fill="#222">100</text>
<text x="319.6" y="274.2" font-size="7.2" font-weight="bold" text-anchor="middle" fill="#222">Temperature (°C)</text>
<text transform="translate(260.2,214.9) rotate(-90)" font-size="7.45" font-weight="bold" text-anchor="middle" fill="#222"><tspan>Cp (kcal mol</tspan><tspan dy="-2.83" font-size="4.77">-1</tspan><tspan dy="2.83"> °C</tspan><tspan dy="-2.83" font-size="4.77">-1</tspan><tspan dy="2.83">)</tspan></text>
<path d="M281.4 251.18 L281.66 251.1 L281.91 251.02 L282.17 250.94 L282.42 250.86 L282.68 250.77 L282.93 250.68 L283.19 250.58 L283.44 250.49 L283.7 250.39 L283.96 250.28 L284.21 250.17 L284.47 250.06 L284.72 249.95 L284.98 249.83 L285.23 249.71 L285.49 249.58 L285.74 249.45 L286 249.32 L286.25 249.19 L286.51 249.05 L286.77 248.91 L287.02 248.76 L287.28 248.62 L287.53 248.47 L287.79 248.31 L288.04 248.16 L288.3 248 L288.55 247.83 L288.81 247.67 L289.07 247.5 L289.32 247.33 L289.58 247.16 L289.83 246.99 L290.09 246.81 L290.34 246.63 L290.6 246.46 L290.85 246.27 L291.11 246.09 L291.37 245.91 L291.62 245.73 L291.88 245.54 L292.13 245.36 L292.39 245.17 L292.64 244.99 L292.9 244.8 L293.15 244.62 L293.41 244.43 L293.66 244.25 L293.92 244.07 L294.18 243.89 L294.43 243.71 L294.69 243.53 L294.94 243.35 L295.2 243.18 L295.45 243.01 L295.71 242.84 L295.96 242.68 L296.22 242.52 L296.48 242.36 L296.73 242.21 L296.99 242.06 L297.24 241.91 L297.5 241.77 L297.75 241.64 L298.01 241.51 L298.26 241.38 L298.52 241.26 L298.78 241.15 L299.03 241.04 L299.29 240.94 L299.54 240.84 L299.8 240.75 L300.05 240.67 L300.31 240.59 L300.56 240.52 L300.82 240.46 L301.07 240.41 L301.33 240.36 L301.59 240.32 L301.84 240.28 L302.1 240.26 L302.35 240.24 L302.61 240.23 L302.86 240.23 L303.12 240.23 L303.37 240.24 L303.63 240.26 L303.89 240.29 L304.14 240.32 L304.4 240.37 L304.65 240.42 L304.91 240.47 L305.16 240.54 L305.42 240.61 L305.67 240.69 L305.93 240.77 L306.19 240.86 L306.44 240.96 L306.7 241.07 L306.95 241.18 L307.21 241.3 L307.46 241.42 L307.72 241.55 L307.97 241.68 L308.23 241.82 L308.48 241.97 L308.74 242.12 L309 242.27 L309.25 242.43 L309.51 242.6 L309.76 242.76 L310.02 242.93 L310.27 243.11 L310.53 243.29 L310.78 243.47 L311.04 243.65 L311.3 243.84 L311.55 244.02 L311.81 244.21 L312.06 244.4 L312.32 244.6 L312.57 244.79 L312.83 244.99 L313.08 245.18 L313.34 245.38 L313.6 245.57 L313.85 245.77 L314.11 245.97 L314.36 246.16 L314.62 246.36 L314.87 246.55 L315.13 246.75 L315.38 246.94 L315.64 247.13 L315.89 247.32 L316.15 247.5 L316.41 247.69 L316.66 247.87 L316.92 248.05 L317.17 248.23 L317.43 248.41 L317.68 248.58 L317.94 248.75 L318.19 248.92 L318.45 249.09 L318.71 249.25 L318.96 249.41 L319.22 249.57 L319.47 249.72 L319.73 249.87 L319.98 250.02 L320.24 250.16 L320.49 250.3 L320.75 250.44 L321.01 250.57 L321.26 250.7 L321.52 250.83 L321.77 250.95 L322.03 251.07 L322.28 251.19 L322.54 251.3 L322.79 251.41 L323.05 251.52 L323.31 251.62 L323.56 251.72 L323.82 251.82 L324.07 251.91 L324.33 252 L324.58 252.09 L324.84 252.17 L325.09 252.25 L325.35 252.33 L325.6 252.41 L325.86 252.48 L326.12 252.55 L326.37 252.62 L326.63 252.68 L326.88 252.75 L327.14 252.81 L327.39 252.86 L327.65 252.92 L327.9 252.97 L328.16 253.02 L328.42 253.07 L328.67 253.12 L328.93 253.16 L329.18 253.21 L329.44 253.25 L329.69 253.29 L329.95 253.32 L330.2 253.36 L330.46 253.39 L330.72 253.42 L330.97 253.45 L331.23 253.48 L331.48 253.51 L331.74 253.53 L331.99 253.55 L332.25 253.57 L332.5 253.59 L332.76 253.6 L333.01 253.61 L333.27 253.62 L333.53 253.62 L333.78 253.61 L334.04 253.6 L334.29 253.58 L334.55 253.55 L334.8 253.51 L335.06 253.46 L335.31 253.39 L335.57 253.31 L335.83 253.2 L336.08 253.08 L336.34 252.92 L336.59 252.74 L336.85 252.52 L337.1 252.26 L337.36 251.95 L337.61 251.6 L337.87 251.19 L338.13 250.71 L338.38 250.17 L338.64 249.56 L338.89 248.87 L339.15 248.09 L339.4 247.22 L339.66 246.25 L339.91 245.17 L340.17 243.99 L340.42 242.7 L340.68 241.3 L340.94 239.78 L341.19 238.15 L341.45 236.41 L341.7 234.57 L341.96 232.62 L342.21 230.57 L342.47 228.45 L342.72 226.25 L342.98 223.99 L343.24 221.68 L343.49 219.36 L343.75 217.02 L344 214.7 L344.26 212.41 L344.51 210.19 L344.77 208.04 L345.02 205.99 L345.28 204.08 L345.54 202.31 L345.79 200.71 L346.05 199.3 L346.3 198.1 L346.56 197.12 L346.81 196.37 L347.07 195.87 L347.32 195.62 L347.58 195.62 L347.83 195.87 L348.09 196.38 L348.35 197.12 L348.6 198.11 L348.86 199.31 L349.11 200.73 L349.37 202.33 L349.62 204.1 L349.88 206.02 L350.13 208.07 L350.39 210.23 L350.65 212.47 L350.9 214.76 L351.16 217.09 L351.41 219.44 L351.67 221.78 L351.92 224.1 L352.18 226.37 L352.43 228.59 L352.69 230.73 L352.95 232.79 L353.2 234.75 L353.46 236.62 L353.71 238.38 L353.97 240.02 L354.22 241.56 L354.48 242.98 L354.73 244.28 L354.99 245.48 L355.24 246.57 L355.5 247.56 L355.76 248.45 L356.01 249.25 L356.27 249.96 L356.52 250.59 L356.78 251.15 L357.03 251.64 L357.29 252.07 L357.54 252.44 L357.8 252.76" stroke="#ff1a0a" stroke-width="1.9" fill="none" stroke-linejoin="round"/>
<path d="M281.75 251.07 L281.94 251.01 L282.13 250.95 L282.32 250.89 L282.51 250.83 L282.7 250.76 L282.89 250.69 L283.08 250.62 L283.27 250.55 L283.46 250.48 L283.65 250.4 L283.84 250.33 L284.03 250.25 L284.22 250.17 L284.41 250.08 L284.6 250 L284.79 249.91 L284.98 249.83 L285.17 249.74 L285.36 249.64 L285.55 249.55 L285.74 249.45 L285.93 249.36 L286.12 249.26 L286.31 249.16 L286.5 249.05 L286.69 248.95 L286.88 248.84 L287.07 248.73 L287.26 248.62 L287.45 248.51 L287.64 248.39 L287.83 248.28 L288.02 248.16 L288.21 248.04 L288.4 247.92 L288.59 247.79 L288.78 247.67 L288.97 247.54 L289.16 247.41 L289.35 247.28 L289.54 247.15 L289.73 247.01 L289.92 246.87 L290.11 246.73 L290.3 246.59 L290.49 246.45 L290.68 246.3 L290.87 246.15 L291.06 246 L291.25 245.85 L291.44 245.69 L291.63 245.53 L291.82 245.37 L292.01 245.2 L292.2 245.03 L292.39 244.86 L292.58 244.68 L292.77 244.5 L292.96 244.31 L293.15 244.13 L293.34 243.93 L293.53 243.74 L293.72 243.54 L293.91 243.34 L294.1 243.13 L294.29 242.92 L294.48 242.7 L294.67 242.48 L294.86 242.26 L295.05 242.03 L295.24 241.81 L295.43 241.58 L295.62 241.34 L295.81 241.11 L296 240.88 L296.19 240.64 L296.38 240.41 L296.57 240.17 L296.76 239.94 L296.95 239.71 L297.14 239.49 L297.33 239.27 L297.52 239.05 L297.71 238.84 L297.9 238.64 L298.09 238.44 L298.28 238.25 L298.47 238.08 L298.66 237.91 L298.85 237.75 L299.04 237.61 L299.23 237.47 L299.42 237.35 L299.61 237.25 L299.8 237.15 L299.99 237.08 L300.18 237.01 L300.37 236.96 L300.56 236.92 L300.75 236.9 L300.94 236.89 L301.13 236.9 L301.32 236.92 L301.51 236.95 L301.7 236.99 L301.89 237.05 L302.08 237.12 L302.27 237.2 L302.46 237.29 L302.65 237.38 L302.84 237.49 L303.03 237.6 L303.22 237.72 L303.41 237.85 L303.6 237.98 L303.79 238.12 L303.98 238.26 L304.17 238.41 L304.36 238.55 L304.55 238.7 L304.74 238.85 L304.93 239.01 L305.12 239.16 L305.31 239.31 L305.5 239.46 L305.69 239.61 L305.88 239.77 L306.07 239.92 L306.26 240.07 L306.45 240.21 L306.64 240.36 L306.83 240.51 L307.02 240.65 L307.21 240.8 L307.4 240.94 L307.59 241.08 L307.78 241.22 L307.97 241.36 L308.16 241.5 L308.35 241.64 L308.54 241.78 L308.73 241.92 L308.92 242.06 L309.11 242.2 L309.3 242.34 L309.49 242.47 L309.68 242.61 L309.87 242.75 L310.06 242.89 L310.25 243.03 L310.44 243.17 L310.63 243.31 L310.82 243.46 L311.01 243.6 L311.2 243.74 L311.39 243.88 L311.58 244.03 L311.77 244.17 L311.96 244.32 L312.15 244.46 L312.34 244.61 L312.53 244.75 L312.72 244.9 L312.91 245.05 L313.1 245.19 L313.29 245.34 L313.48 245.49 L313.67 245.63 L313.86 245.78 L314.05 245.92 L314.24 246.07 L314.43 246.22 L314.62 246.36 L314.81 246.51 L315 246.65 L315.19 246.79 L315.38 246.94 L315.57 247.08 L315.76 247.22 L315.95 247.36 L316.14 247.5 L316.33 247.64 L316.52 247.77 L316.71 247.91 L316.9 248.04 L317.09 248.18 L317.28 248.31 L317.47 248.44 L317.66 248.57 L317.85 248.7 L318.04 248.82 L318.23 248.95 L318.42 249.07 L318.61 249.19 L318.8 249.31 L318.99 249.43 L319.18 249.55 L319.37 249.66 L319.56 249.77 L319.75 249.88 L319.94 249.99 L320.13 250.1 L320.32 250.21 L320.51 250.31 L320.7 250.41 L320.89 250.51 L321.08 250.61 L321.27 250.71 L321.46 250.8 L321.65 250.89 L321.84 250.98 L322.03 251.07 L322.22 251.16 L322.41 251.24 L322.6 251.33 L322.79 251.41 L322.98 251.49 L323.17 251.57 L323.36 251.64 L323.55 251.72 L323.74 251.79 L323.93 251.86 L324.12 251.93 L324.31 252 L324.5 252.06 L324.69 252.12 L324.88 252.19 L325.07 252.25 L325.26 252.31 L325.45 252.36 L325.64 252.42 L325.83 252.47 L326.02 252.53 L326.21 252.58 L326.4 252.63 L326.59 252.68 L326.78 252.72 L326.97 252.77 L327.16 252.81 L327.35 252.85 L327.54 252.9 L327.73 252.94 L327.92 252.98 L328.11 253.01 L328.3 253.05 L328.49 253.09 L328.68 253.12 L328.87 253.15 L329.06 253.18 L329.25 253.22 L329.44 253.24 L329.63 253.27 L329.82 253.3 L330.01 253.32 L330.2 253.35 L330.39 253.37 L330.58 253.39 L330.77 253.41 L330.96 253.42 L331.15 253.44 L331.34 253.45 L331.53 253.45 L331.72 253.46 L331.91 253.45 L332.1 253.45 L332.29 253.44 L332.48 253.42 L332.67 253.4 L332.86 253.37 L333.05 253.33 L333.24 253.29 L333.43 253.24 L333.62 253.17 L333.81 253.1 L334 253.02 L334.19 252.93 L334.38 252.82 L334.57 252.71 L334.76 252.59 L334.95 252.45 L335.14 252.3 L335.33 252.14 L335.52 251.98 L335.71 251.8 L335.9 251.61 L336.09 251.41 L336.28 251.2 L336.47 250.98 L336.66 250.75 L336.85 250.51 L337.04 250.26 L337.23 250 L337.42 249.72 L337.61 249.43 L337.8 249.13 L337.99 248.8 L338.18 248.45 L338.37 248.08 L338.56 247.68 L338.75 247.24 L338.94 246.78 L339.13 246.27 L339.32 245.72 L339.51 245.13 L339.7 244.48 L339.89 243.79 L340.08 243.03 L340.27 242.22 L340.46 241.34 L340.65 240.4 L340.84 239.39 L341.03 238.32 L341.22 237.17 L341.41 235.97 L341.6 234.69 L341.79 233.35 L341.98 231.95 L342.17 230.5 L342.36 228.98 L342.55 227.42 L342.74 225.81 L342.93 224.17 L343.12 222.49 L343.31 220.78 L343.5 219.05 L343.69 217.32 L343.88 215.58 L344.07 213.84 L344.26 212.12 L344.45 210.41 L344.64 208.74 L344.83 207.1 L345.02 205.51 L345.21 203.97 L345.4 202.5 L345.59 201.09 L345.78 199.78 L345.97 198.55 L346.16 197.42 L346.35 196.4 L346.54 195.49 L346.73 194.72 L346.92 194.08 L347.11 193.58 L347.3 193.24 L347.49 193.05 L347.68 193.02 L347.87 193.16 L348.06 193.47 L348.25 193.94 L348.44 194.58 L348.63 195.38 L348.82 196.34 L349.01 197.44 L349.2 198.68 L349.39 200.04 L349.58 201.52 L349.77 203.09 L349.96 204.75 L350.15 206.48 L350.34 208.27 L350.53 210.1 L350.72 211.96 L350.91 213.84 L351.1 215.73 L351.29 217.61 L351.48 219.48 L351.67 221.33 L351.86 223.15 L352.05 224.94 L352.24 226.68 L352.43 228.38 L352.62 230.03 L352.81 231.62 L353 233.16 L353.19 234.64 L353.38 236.06 L353.57 237.41 L353.76 238.7 L353.95 239.92 L354.14 241.09 L354.33 242.18 L354.52 243.22 L354.71 244.19 L354.9 245.09 L355.09 245.94 L355.28 246.73 L355.47 247.47 L355.66 248.14 L355.85 248.77 L356.04 249.35 L356.23 249.88 L356.42 250.36 L356.61 250.8 L356.8 251.2 L356.99 251.57 L357.18 251.9 L357.37 252.2 L357.56 252.47" stroke="#000" stroke-width="1.3" fill="none" stroke-dasharray="1.2 2.3"/>
<rect x="289.7" y="194.1" width="43.6" height="22.7" fill="#fff" stroke="#777" stroke-width="0.9" />
<text x="292.3" y="203" font-size="7.9" class="hv"><tspan>T</tspan><tspan dy="1.74" font-size="5.37">m1</tspan></text>
<text x="309.3" y="203" font-size="7.6" class="hv">=</text>
<text x="315.5" y="203" font-size="7.3" class="hv">53.4</text>
<text x="292.3" y="211.7" font-size="7.9" class="hv"><tspan>T</tspan><tspan dy="1.74" font-size="5.37">m2</tspan></text>
<text x="309.3" y="211.7" font-size="7.6" class="hv">=</text>
<text x="315.5" y="211.7" font-size="7.3" class="hv">90.7</text>
<text x="394" y="171.6" font-size="8.2" fill="#222">25-ml ExpiCHO</text>
<line x1="390.4" y1="178.1" x2="390.4" y2="254.6" stroke="#555" stroke-width="1.2" />
<line x1="389.9" y1="254.6" x2="466.3" y2="254.6" stroke="#333" stroke-width="1.2" />
<line x1="387.8" y1="253.11" x2="390.4" y2="253.11" stroke="#222" stroke-width="1" />
<text x="387.8" y="256.01" font-size="8.3" font-weight="bold" text-anchor="end" fill="#222">0</text>
<line x1="387.8" y1="228.27" x2="390.4" y2="228.27" stroke="#222" stroke-width="1" />
<text x="387.8" y="231.17" font-size="8.3" font-weight="bold" text-anchor="end" fill="#222">50</text>
<line x1="387.8" y1="203.44" x2="390.4" y2="203.44" stroke="#222" stroke-width="1" />
<text x="387.8" y="206.34" font-size="8.3" font-weight="bold" text-anchor="end" fill="#222">100</text>
<line x1="387.8" y1="178.6" x2="390.4" y2="178.6" stroke="#222" stroke-width="1" />
<text x="387.8" y="181.5" font-size="8.3" font-weight="bold" text-anchor="end" fill="#222">150</text>
<line x1="396.24" y1="254.6" x2="396.24" y2="257.1" stroke="#222" stroke-width="1" />
<text x="396.24" y="265.8" font-size="8.3" font-weight="bold" text-anchor="middle" fill="#222">40</text>
<line x1="419.59" y1="254.6" x2="419.59" y2="257.1" stroke="#222" stroke-width="1" />
<text x="419.59" y="265.8" font-size="8.3" font-weight="bold" text-anchor="middle" fill="#222">60</text>
<line x1="442.95" y1="254.6" x2="442.95" y2="257.1" stroke="#222" stroke-width="1" />
<text x="442.95" y="265.8" font-size="8.3" font-weight="bold" text-anchor="middle" fill="#222">80</text>
<line x1="466.3" y1="254.6" x2="466.3" y2="257.1" stroke="#222" stroke-width="1" />
<text x="466.3" y="265.8" font-size="8.3" font-weight="bold" text-anchor="middle" fill="#222">100</text>
<text x="428.35" y="274.2" font-size="7.2" font-weight="bold" text-anchor="middle" fill="#222">Temperature (°C)</text>
<text transform="translate(369.2,214.9) rotate(-90)" font-size="7.45" font-weight="bold" text-anchor="middle" fill="#222"><tspan>Cp (kcal mol</tspan><tspan dy="-2.83" font-size="4.77">-1</tspan><tspan dy="2.83"> °C</tspan><tspan dy="-2.83" font-size="4.77">-1</tspan><tspan dy="2.83">)</tspan></text>
<path d="M390.4 252.35 L390.65 252.35 L390.91 252.35 L391.16 252.35 L391.42 252.34 L391.67 252.34 L391.92 252.33 L392.18 252.33 L392.43 252.32 L392.68 252.31 L392.94 252.31 L393.19 252.3 L393.45 252.28 L393.7 252.27 L393.95 252.26 L394.21 252.24 L394.46 252.22 L394.72 252.2 L394.97 252.17 L395.22 252.14 L395.48 252.11 L395.73 252.07 L395.98 252.03 L396.24 251.98 L396.49 251.93 L396.75 251.87 L397 251.81 L397.25 251.74 L397.51 251.66 L397.76 251.57 L398.02 251.47 L398.27 251.37 L398.52 251.25 L398.78 251.13 L399.03 250.99 L399.28 250.85 L399.54 250.69 L399.79 250.51 L400.05 250.33 L400.3 250.13 L400.55 249.92 L400.81 249.7 L401.06 249.46 L401.32 249.21 L401.57 248.94 L401.82 248.66 L402.08 248.36 L402.33 248.06 L402.58 247.74 L402.84 247.41 L403.09 247.06 L403.35 246.71 L403.6 246.34 L403.85 245.97 L404.11 245.59 L404.36 245.21 L404.62 244.82 L404.87 244.43 L405.12 244.03 L405.38 243.64 L405.63 243.25 L405.88 242.87 L406.14 242.49 L406.39 242.12 L406.65 241.76 L406.9 241.42 L407.15 241.09 L407.41 240.78 L407.66 240.49 L407.92 240.21 L408.17 239.97 L408.42 239.74 L408.68 239.54 L408.93 239.37 L409.18 239.23 L409.44 239.11 L409.69 239.03 L409.95 238.98 L410.2 238.95 L410.45 238.96 L410.71 239 L410.96 239.08 L411.22 239.18 L411.47 239.31 L411.72 239.47 L411.98 239.66 L412.23 239.87 L412.48 240.11 L412.74 240.37 L412.99 240.66 L413.25 240.96 L413.5 241.29 L413.75 241.63 L414.01 241.98 L414.26 242.34 L414.52 242.72 L414.77 243.1 L415.02 243.49 L415.28 243.88 L415.53 244.27 L415.78 244.66 L416.04 245.05 L416.29 245.44 L416.55 245.82 L416.8 246.2 L417.05 246.56 L417.31 246.92 L417.56 247.27 L417.82 247.61 L418.07 247.93 L418.32 248.24 L418.58 248.54 L418.83 248.83 L419.08 249.1 L419.34 249.36 L419.59 249.6 L419.85 249.83 L420.1 250.05 L420.35 250.25 L420.61 250.44 L420.86 250.62 L421.12 250.78 L421.37 250.93 L421.62 251.08 L421.88 251.2 L422.13 251.32 L422.38 251.43 L422.64 251.53 L422.89 251.62 L423.15 251.7 L423.4 251.78 L423.65 251.85 L423.91 251.91 L424.16 251.96 L424.42 252.01 L424.67 252.05 L424.92 252.09 L425.18 252.13 L425.43 252.16 L425.68 252.18 L425.94 252.21 L426.19 252.23 L426.45 252.25 L426.7 252.26 L426.95 252.28 L427.21 252.29 L427.46 252.3 L427.72 252.31 L427.97 252.32 L428.22 252.32 L428.48 252.33 L428.73 252.33 L428.98 252.34 L429.24 252.34 L429.49 252.34 L429.75 252.34 L430 252.34 L430.25 252.34 L430.51 252.34 L430.76 252.34 L431.02 252.33 L431.27 252.33 L431.52 252.33 L431.78 252.32 L432.03 252.31 L432.28 252.31 L432.54 252.3 L432.79 252.29 L433.05 252.27 L433.3 252.26 L433.55 252.24 L433.81 252.22 L434.06 252.2 L434.32 252.17 L434.57 252.14 L434.82 252.1 L435.08 252.06 L435.33 252.02 L435.58 251.97 L435.84 251.91 L436.09 251.84 L436.35 251.77 L436.6 251.69 L436.85 251.59 L437.11 251.49 L437.36 251.37 L437.62 251.24 L437.87 251.1 L438.12 250.94 L438.38 250.76 L438.63 250.56 L438.88 250.35 L439.14 250.11 L439.39 249.84 L439.65 249.56 L439.9 249.24 L440.15 248.9 L440.41 248.53 L440.66 248.12 L440.92 247.68 L441.17 247.2 L441.42 246.69 L441.68 246.14 L441.93 245.54 L442.18 244.9 L442.44 244.22 L442.69 243.5 L442.95 242.72 L443.2 241.9 L443.45 241.04 L443.71 240.12 L443.96 239.15 L444.22 238.13 L444.47 237.07 L444.72 235.95 L444.98 234.79 L445.23 233.58 L445.48 232.33 L445.74 231.03 L445.99 229.69 L446.25 228.31 L446.5 226.9 L446.75 225.46 L447.01 223.98 L447.26 222.49 L447.52 220.97 L447.77 219.44 L448.02 217.89 L448.28 216.35 L448.53 214.81 L448.78 213.27 L449.04 211.75 L449.29 210.25 L449.55 208.77 L449.8 207.33 L450.05 205.93 L450.31 204.58 L450.56 203.28 L450.82 202.04 L451.07 200.86 L451.32 199.76 L451.58 198.74 L451.83 197.8 L452.08 196.94 L452.34 196.19 L452.59 195.52 L452.85 194.96 L453.1 194.5 L453.35 194.15 L453.61 193.91 L453.86 193.78 L454.12 193.76 L454.37 193.84 L454.62 194.04 L454.88 194.35 L455.13 194.77 L455.38 195.29 L455.64 195.91 L455.89 196.63 L456.15 197.45 L456.4 198.35 L456.65 199.34 L456.91 200.41 L457.16 201.56 L457.42 202.77 L457.67 204.05 L457.92 205.38 L458.18 206.77 L458.43 208.19 L458.68 209.65 L458.94 211.15 L459.19 212.66 L459.45 214.19 L459.7 215.73 L459.95 217.28 L460.21 218.82 L460.46 220.36 L460.72 221.88 L460.97 223.39 L461.22 224.87 L461.48 226.33 L461.73 227.75 L461.98 229.15 L462.24 230.5 L462.49 231.81 L462.75 233.09 L463 234.31 L463.25 235.49 L463.51 236.63 L463.76 237.71 L464.02 238.75 L464.27 239.74 L464.52 240.67 L464.78 241.56 L465.03 242.4 L465.28 243.19 L465.54 243.94 L465.79 244.64 L466.05 245.29 L466.3 245.9" stroke="#ff1a0a" stroke-width="1.9" fill="none" stroke-linejoin="round"/>
<path d="M390.75 252.35 L390.94 252.35 L391.13 252.35 L391.32 252.34 L391.51 252.34 L391.69 252.34 L391.88 252.33 L392.07 252.33 L392.26 252.33 L392.45 252.32 L392.64 252.32 L392.83 252.31 L393.02 252.3 L393.2 252.3 L393.39 252.29 L393.58 252.28 L393.77 252.27 L393.96 252.26 L394.15 252.24 L394.34 252.23 L394.53 252.21 L394.71 252.2 L394.9 252.18 L395.09 252.16 L395.28 252.13 L395.47 252.11 L395.66 252.08 L395.85 252.05 L396.04 252.02 L396.22 251.98 L396.41 251.95 L396.6 251.91 L396.79 251.86 L396.98 251.81 L397.17 251.76 L397.36 251.7 L397.55 251.64 L397.73 251.58 L397.92 251.51 L398.11 251.43 L398.3 251.35 L398.49 251.27 L398.68 251.18 L398.87 251.08 L399.06 250.98 L399.24 250.87 L399.43 250.75 L399.62 250.63 L399.81 250.5 L400 250.36 L400.19 250.21 L400.38 250.06 L400.57 249.9 L400.75 249.73 L400.94 249.55 L401.13 249.36 L401.32 249.16 L401.51 248.96 L401.7 248.74 L401.89 248.51 L402.08 248.28 L402.26 248.03 L402.45 247.77 L402.64 247.51 L402.83 247.23 L403.02 246.94 L403.21 246.64 L403.4 246.33 L403.59 246.01 L403.77 245.67 L403.96 245.33 L404.15 244.98 L404.34 244.62 L404.53 244.25 L404.72 243.88 L404.91 243.5 L405.1 243.11 L405.29 242.72 L405.47 242.34 L405.66 241.95 L405.85 241.57 L406.04 241.19 L406.23 240.82 L406.42 240.46 L406.61 240.11 L406.8 239.78 L406.98 239.46 L407.17 239.16 L407.36 238.89 L407.55 238.63 L407.74 238.4 L407.93 238.19 L408.12 238.01 L408.31 237.85 L408.49 237.72 L408.68 237.62 L408.87 237.54 L409.06 237.49 L409.25 237.46 L409.44 237.45 L409.63 237.47 L409.82 237.51 L410 237.57 L410.19 237.64 L410.38 237.74 L410.57 237.84 L410.76 237.97 L410.95 238.11 L411.14 238.26 L411.33 238.42 L411.51 238.59 L411.7 238.77 L411.89 238.96 L412.08 239.16 L412.27 239.36 L412.46 239.57 L412.65 239.79 L412.84 240.02 L413.02 240.25 L413.21 240.48 L413.4 240.73 L413.59 240.97 L413.78 241.22 L413.97 241.47 L414.16 241.72 L414.35 241.98 L414.53 242.24 L414.72 242.5 L414.91 242.76 L415.1 243.02 L415.29 243.27 L415.48 243.53 L415.67 243.78 L415.86 244.03 L416.04 244.28 L416.23 244.52 L416.42 244.76 L416.61 245 L416.8 245.22 L416.99 245.44 L417.18 245.66 L417.37 245.86 L417.55 246.06 L417.74 246.25 L417.93 246.44 L418.12 246.61 L418.31 246.78 L418.5 246.93 L418.69 247.08 L418.88 247.22 L419.06 247.35 L419.25 247.47 L419.44 247.59 L419.63 247.69 L419.82 247.78 L420.01 247.87 L420.2 247.95 L420.39 248.02 L420.57 248.08 L420.76 248.14 L420.95 248.19 L421.14 248.23 L421.33 248.27 L421.52 248.3 L421.71 248.32 L421.9 248.34 L422.08 248.36 L422.27 248.37 L422.46 248.37 L422.65 248.37 L422.84 248.37 L423.03 248.37 L423.22 248.37 L423.41 248.36 L423.59 248.35 L423.78 248.34 L423.97 248.33 L424.16 248.32 L424.35 248.31 L424.54 248.3 L424.73 248.29 L424.92 248.28 L425.11 248.27 L425.29 248.27 L425.48 248.26 L425.67 248.26 L425.86 248.26 L426.05 248.26 L426.24 248.27 L426.43 248.27 L426.62 248.28 L426.8 248.3 L426.99 248.31 L427.18 248.33 L427.37 248.36 L427.56 248.38 L427.75 248.41 L427.94 248.44 L428.13 248.48 L428.31 248.52 L428.5 248.56 L428.69 248.61 L428.88 248.65 L429.07 248.7 L429.26 248.76 L429.45 248.81 L429.64 248.87 L429.82 248.93 L430.01 248.99 L430.2 249.06 L430.39 249.12 L430.58 249.19 L430.77 249.26 L430.96 249.33 L431.15 249.4 L431.33 249.47 L431.52 249.54 L431.71 249.61 L431.9 249.69 L432.09 249.76 L432.28 249.83 L432.47 249.9 L432.66 249.97 L432.84 250.03 L433.03 250.1 L433.22 250.16 L433.41 250.23 L433.6 250.28 L433.79 250.34 L433.98 250.39 L434.17 250.44 L434.35 250.48 L434.54 250.52 L434.73 250.55 L434.92 250.57 L435.11 250.59 L435.3 250.6 L435.49 250.61 L435.68 250.6 L435.86 250.59 L436.05 250.56 L436.24 250.53 L436.43 250.48 L436.62 250.42 L436.81 250.35 L437 250.27 L437.19 250.18 L437.37 250.07 L437.56 249.95 L437.75 249.82 L437.94 249.68 L438.13 249.52 L438.32 249.35 L438.51 249.17 L438.7 248.98 L438.88 248.78 L439.07 248.57 L439.26 248.34 L439.45 248.11 L439.64 247.87 L439.83 247.62 L440.02 247.36 L440.21 247.09 L440.39 246.82 L440.58 246.53 L440.77 246.24 L440.96 245.93 L441.15 245.61 L441.34 245.28 L441.53 244.94 L441.72 244.57 L441.9 244.2 L442.09 243.8 L442.28 243.39 L442.47 242.95 L442.66 242.49 L442.85 242 L443.04 241.49 L443.23 240.95 L443.41 240.38 L443.6 239.79 L443.79 239.16 L443.98 238.5 L444.17 237.81 L444.36 237.09 L444.55 236.33 L444.74 235.55 L444.93 234.73 L445.11 233.89 L445.3 233.01 L445.49 232.11 L445.68 231.17 L445.87 230.21 L446.06 229.23 L446.25 228.22 L446.44 227.19 L446.62 226.13 L446.81 225.06 L447 223.98 L447.19 222.87 L447.38 221.76 L447.57 220.63 L447.76 219.49 L447.95 218.35 L448.13 217.21 L448.32 216.06 L448.51 214.91 L448.7 213.77 L448.89 212.64 L449.08 211.51 L449.27 210.39 L449.46 209.29 L449.64 208.21 L449.83 207.15 L450.02 206.1 L450.21 205.09 L450.4 204.1 L450.59 203.14 L450.78 202.21 L450.97 201.31 L451.15 200.45 L451.34 199.62 L451.53 198.83 L451.72 198.08 L451.91 197.36 L452.1 196.67 L452.29 196.02 L452.48 195.38 L452.66 194.78 L452.85 194.19 L453.04 193.61 L453.23 193.04 L453.42 192.49 L453.61 191.93 L453.8 191.39 L453.99 190.85 L454.17 190.33 L454.36 189.84 L454.55 189.38 L454.74 188.98 L454.93 188.65 L455.12 188.41 L455.31 188.28 L455.5 188.29 L455.68 188.44 L455.87 188.75 L456.06 189.23 L456.25 189.89 L456.44 190.71 L456.63 191.7 L456.82 192.84 L457.01 194.11 L457.19 195.49 L457.38 196.96 L457.57 198.5 L457.76 200.08 L457.95 201.68 L458.14 203.29 L458.33 204.89 L458.52 206.47 L458.7 208.02 L458.89 209.54 L459.08 211.03 L459.27 212.48 L459.46 213.91 L459.65 215.31 L459.84 216.69 L460.03 218.05 L460.21 219.4 L460.4 220.75 L460.59 222.09 L460.78 223.42 L460.97 224.76 L461.16 226.1 L461.35 227.44 L461.54 228.77 L461.72 230.11 L461.91 231.44 L462.1 232.77 L462.29 234.09 L462.48 235.4 L462.67 236.69 L462.86 237.96 L463.05 239.2 L463.24 240.41 L463.42 241.58 L463.61 242.71 L463.8 243.79 L463.99 244.82 L464.18 245.79 L464.37 246.7 L464.56 247.54 L464.75 248.31 L464.93 249.02 L465.12 249.65 L465.31 250.21 L465.5 250.7 L465.69 251.12 L465.88 251.47 L466.07 251.76" stroke="#000" stroke-width="1.3" fill="none" stroke-dasharray="1.2 2.3"/>
<rect x="397.5" y="194.2" width="44.4" height="22.4" fill="#fff" stroke="#777" stroke-width="0.9" />
<text x="400.1" y="202.8" font-size="7.9" class="hv"><tspan>T</tspan><tspan dy="1.74" font-size="5.37">m1</tspan></text>
<text x="417.1" y="202.8" font-size="7.6" class="hv">=</text>
<text x="423.3" y="202.8" font-size="7.3" class="hv">50.3</text>
<text x="400.1" y="211.5" font-size="7.9" class="hv"><tspan>T</tspan><tspan dy="1.74" font-size="5.37">m2</tspan></text>
<text x="417.1" y="211.5" font-size="7.6" class="hv">=</text>
<text x="423.3" y="211.5" font-size="7.3" class="hv">90.5</text>
<text x="512.6" y="171.6" font-size="8.2" fill="#222">500-ml 293F</text>
<line x1="497.5" y1="178.1" x2="497.5" y2="254.6" stroke="#555" stroke-width="1.2" />
<line x1="497" y1="254.6" x2="573.4" y2="254.6" stroke="#333" stroke-width="1.2" />
<line x1="494.9" y1="254.6" x2="497.5" y2="254.6" stroke="#222" stroke-width="1" />
<text x="494.9" y="257.5" font-size="8.3" font-weight="bold" text-anchor="end" fill="#222">0</text>
<line x1="494.9" y1="241.93" x2="497.5" y2="241.93" stroke="#222" stroke-width="1" />
<text x="494.9" y="244.83" font-size="8.3" font-weight="bold" text-anchor="end" fill="#222">20</text>
<line x1="494.9" y1="229.27" x2="497.5" y2="229.27" stroke="#222" stroke-width="1" />
<text x="494.9" y="232.17" font-size="8.3" font-weight="bold" text-anchor="end" fill="#222">40</text>
<line x1="494.9" y1="216.6" x2="497.5" y2="216.6" stroke="#222" stroke-width="1" />
<text x="494.9" y="219.5" font-size="8.3" font-weight="bold" text-anchor="end" fill="#222">60</text>
<line x1="494.9" y1="203.93" x2="497.5" y2="203.93" stroke="#222" stroke-width="1" />
<text x="494.9" y="206.83" font-size="8.3" font-weight="bold" text-anchor="end" fill="#222">80</text>
<line x1="494.9" y1="191.27" x2="497.5" y2="191.27" stroke="#222" stroke-width="1" />
<text x="494.9" y="194.17" font-size="8.3" font-weight="bold" text-anchor="end" fill="#222">100</text>
<line x1="494.9" y1="178.6" x2="497.5" y2="178.6" stroke="#222" stroke-width="1" />
<text x="494.9" y="181.5" font-size="8.3" font-weight="bold" text-anchor="end" fill="#222">120</text>
<line x1="503.34" y1="254.6" x2="503.34" y2="257.1" stroke="#222" stroke-width="1" />
<text x="503.34" y="265.8" font-size="8.3" font-weight="bold" text-anchor="middle" fill="#222">40</text>
<line x1="526.69" y1="254.6" x2="526.69" y2="257.1" stroke="#222" stroke-width="1" />
<text x="526.69" y="265.8" font-size="8.3" font-weight="bold" text-anchor="middle" fill="#222">60</text>
<line x1="550.05" y1="254.6" x2="550.05" y2="257.1" stroke="#222" stroke-width="1" />
<text x="550.05" y="265.8" font-size="8.3" font-weight="bold" text-anchor="middle" fill="#222">80</text>
<line x1="573.4" y1="254.6" x2="573.4" y2="257.1" stroke="#222" stroke-width="1" />
<text x="573.4" y="265.8" font-size="8.3" font-weight="bold" text-anchor="middle" fill="#222">100</text>
<text x="535.45" y="274.2" font-size="7.2" font-weight="bold" text-anchor="middle" fill="#222">Temperature (°C)</text>
<text transform="translate(476.3,214.9) rotate(-90)" font-size="7.45" font-weight="bold" text-anchor="middle" fill="#222"><tspan>Cp (kcal mol</tspan><tspan dy="-2.83" font-size="4.77">-1</tspan><tspan dy="2.83"> °C</tspan><tspan dy="-2.83" font-size="4.77">-1</tspan><tspan dy="2.83">)</tspan></text>
<path d="M497.5 254.54 L497.75 254.53 L498.01 254.53 L498.26 254.52 L498.52 254.51 L498.77 254.51 L499.02 254.5 L499.28 254.49 L499.53 254.48 L499.78 254.47 L500.04 254.46 L500.29 254.45 L500.55 254.44 L500.8 254.42 L501.05 254.41 L501.31 254.4 L501.56 254.38 L501.82 254.37 L502.07 254.35 L502.32 254.33 L502.58 254.31 L502.83 254.29 L503.08 254.27 L503.34 254.24 L503.59 254.22 L503.85 254.19 L504.1 254.16 L504.35 254.13 L504.61 254.1 L504.86 254.07 L505.12 254.03 L505.37 253.99 L505.62 253.96 L505.88 253.91 L506.13 253.87 L506.38 253.82 L506.64 253.78 L506.89 253.73 L507.15 253.67 L507.4 253.62 L507.65 253.56 L507.91 253.5 L508.16 253.44 L508.42 253.37 L508.67 253.3 L508.92 253.23 L509.18 253.15 L509.43 253.07 L509.68 252.99 L509.94 252.9 L510.19 252.82 L510.45 252.72 L510.7 252.63 L510.95 252.53 L511.21 252.43 L511.46 252.32 L511.72 252.21 L511.97 252.1 L512.22 251.98 L512.48 251.86 L512.73 251.74 L512.98 251.61 L513.24 251.48 L513.49 251.34 L513.75 251.2 L514 251.06 L514.25 250.91 L514.51 250.76 L514.76 250.61 L515.02 250.45 L515.27 250.29 L515.52 250.13 L515.78 249.96 L516.03 249.79 L516.28 249.62 L516.54 249.44 L516.79 249.27 L517.05 249.08 L517.3 248.9 L517.55 248.72 L517.81 248.53 L518.06 248.34 L518.32 248.15 L518.57 247.96 L518.82 247.76 L519.08 247.57 L519.33 247.37 L519.58 247.18 L519.84 246.98 L520.09 246.78 L520.35 246.59 L520.6 246.39 L520.85 246.2 L521.11 246 L521.36 245.81 L521.62 245.62 L521.87 245.43 L522.12 245.24 L522.38 245.06 L522.63 244.87 L522.88 244.69 L523.14 244.52 L523.39 244.35 L523.65 244.18 L523.9 244.01 L524.15 243.85 L524.41 243.7 L524.66 243.55 L524.92 243.4 L525.17 243.26 L525.42 243.13 L525.68 243 L525.93 242.88 L526.18 242.77 L526.44 242.66 L526.69 242.56 L526.95 242.46 L527.2 242.38 L527.45 242.3 L527.71 242.22 L527.96 242.16 L528.22 242.1 L528.47 242.05 L528.72 242.01 L528.98 241.98 L529.23 241.96 L529.48 241.94 L529.74 241.93 L529.99 241.93 L530.25 241.94 L530.5 241.96 L530.75 241.99 L531.01 242.02 L531.26 242.06 L531.52 242.11 L531.77 242.17 L532.02 242.23 L532.28 242.31 L532.53 242.39 L532.78 242.48 L533.04 242.57 L533.29 242.67 L533.55 242.78 L533.8 242.9 L534.05 243.02 L534.31 243.15 L534.56 243.29 L534.82 243.43 L535.07 243.57 L535.32 243.72 L535.58 243.88 L535.83 244.04 L536.08 244.2 L536.34 244.37 L536.59 244.55 L536.85 244.72 L537.1 244.9 L537.35 245.09 L537.61 245.27 L537.86 245.46 L538.12 245.65 L538.37 245.84 L538.62 246.03 L538.88 246.23 L539.13 246.42 L539.38 246.62 L539.64 246.82 L539.89 247.01 L540.15 247.21 L540.4 247.4 L540.65 247.6 L540.91 247.79 L541.16 247.99 L541.42 248.18 L541.67 248.37 L541.92 248.56 L542.18 248.75 L542.43 248.93 L542.68 249.11 L542.94 249.29 L543.19 249.47 L543.45 249.65 L543.7 249.82 L543.95 249.99 L544.21 250.15 L544.46 250.32 L544.72 250.48 L544.97 250.63 L545.22 250.79 L545.48 250.94 L545.73 251.08 L545.98 251.22 L546.24 251.36 L546.49 251.5 L546.75 251.63 L547 251.76 L547.25 251.88 L547.51 252 L547.76 252.11 L548.02 252.23 L548.27 252.33 L548.52 252.44 L548.78 252.54 L549.03 252.64 L549.28 252.73 L549.54 252.81 L549.79 252.9 L550.05 252.97 L550.3 253.04 L550.55 253.11 L550.81 253.17 L551.06 253.22 L551.32 253.26 L551.57 253.29 L551.82 253.3 L552.08 253.3 L552.33 253.29 L552.58 253.25 L552.84 253.19 L553.09 253.09 L553.35 252.97 L553.6 252.8 L553.85 252.59 L554.11 252.32 L554.36 251.99 L554.62 251.6 L554.87 251.12 L555.12 250.55 L555.38 249.88 L555.63 249.1 L555.88 248.2 L556.14 247.17 L556.39 246 L556.65 244.67 L556.9 243.19 L557.15 241.54 L557.41 239.72 L557.66 237.73 L557.92 235.57 L558.17 233.24 L558.42 230.74 L558.68 228.1 L558.93 225.33 L559.18 222.43 L559.44 219.44 L559.69 216.39 L559.95 213.3 L560.2 210.2 L560.45 207.14 L560.71 204.14 L560.96 201.26 L561.22 198.52 L561.47 195.97 L561.72 193.65 L561.98 191.59 L562.23 189.82 L562.48 188.38 L562.74 187.28 L562.99 186.55 L563.25 186.19 L563.5 186.22 L563.75 186.63 L564.01 187.41 L564.26 188.56 L564.52 190.05 L564.77 191.86 L565.02 193.97 L565.28 196.33 L565.53 198.91 L565.78 201.67 L566.04 204.58 L566.29 207.6 L566.55 210.68 L566.8 213.79 L567.05 216.89 L567.31 219.95 L567.56 222.94 L567.82 225.83 L568.07 228.61 L568.32 231.25 L568.58 233.74 L568.83 236.07 L569.08 238.23 L569.34 240.22 L569.59 242.03 L569.85 243.69 L570.1 245.17 L570.35 246.5 L570.61 247.68 L570.86 248.72 L571.12 249.64 L571.37 250.43 L571.62 251.12 L571.88 251.71 L572.13 252.21 L572.38 252.64 L572.64 253 L572.89 253.3 L573.15 253.55 L573.4 253.76" stroke="#ff1a0a" stroke-width="1.9" fill="none" stroke-linejoin="round"/>
<path d="M497.85 254.53 L498.04 254.53 L498.23 254.52 L498.42 254.52 L498.61 254.51 L498.79 254.51 L498.98 254.5 L499.17 254.49 L499.36 254.49 L499.55 254.48 L499.74 254.47 L499.93 254.47 L500.12 254.46 L500.3 254.45 L500.49 254.44 L500.68 254.43 L500.87 254.42 L501.06 254.41 L501.25 254.4 L501.44 254.39 L501.63 254.38 L501.81 254.37 L502 254.35 L502.19 254.34 L502.38 254.32 L502.57 254.31 L502.76 254.29 L502.95 254.28 L503.14 254.26 L503.32 254.24 L503.51 254.22 L503.7 254.21 L503.89 254.19 L504.08 254.16 L504.27 254.14 L504.46 254.12 L504.65 254.1 L504.83 254.07 L505.02 254.04 L505.21 254.02 L505.4 253.99 L505.59 253.96 L505.78 253.93 L505.97 253.9 L506.16 253.87 L506.34 253.83 L506.53 253.8 L506.72 253.76 L506.91 253.72 L507.1 253.68 L507.29 253.64 L507.48 253.6 L507.67 253.56 L507.85 253.51 L508.04 253.47 L508.23 253.42 L508.42 253.37 L508.61 253.32 L508.8 253.26 L508.99 253.21 L509.18 253.15 L509.36 253.09 L509.55 253.03 L509.74 252.97 L509.93 252.91 L510.12 252.84 L510.31 252.77 L510.5 252.71 L510.69 252.63 L510.87 252.56 L511.06 252.49 L511.25 252.41 L511.44 252.33 L511.63 252.25 L511.82 252.17 L512.01 252.08 L512.2 251.99 L512.39 251.9 L512.57 251.81 L512.76 251.72 L512.95 251.62 L513.14 251.53 L513.33 251.43 L513.52 251.33 L513.71 251.22 L513.9 251.12 L514.08 251.01 L514.27 250.9 L514.46 250.79 L514.65 250.68 L514.84 250.56 L515.03 250.44 L515.22 250.32 L515.41 250.2 L515.59 250.08 L515.78 249.96 L515.97 249.83 L516.16 249.7 L516.35 249.57 L516.54 249.44 L516.73 249.31 L516.92 249.18 L517.1 249.04 L517.29 248.91 L517.48 248.77 L517.67 248.63 L517.86 248.49 L518.05 248.35 L518.24 248.21 L518.43 248.07 L518.61 247.92 L518.8 247.78 L518.99 247.63 L519.18 247.49 L519.37 247.34 L519.56 247.2 L519.75 247.05 L519.94 246.91 L520.12 246.76 L520.31 246.61 L520.5 246.47 L520.69 246.32 L520.88 246.18 L521.07 246.03 L521.26 245.89 L521.45 245.75 L521.63 245.6 L521.82 245.46 L522.01 245.32 L522.2 245.18 L522.39 245.05 L522.58 244.91 L522.77 244.78 L522.96 244.65 L523.14 244.51 L523.33 244.39 L523.52 244.26 L523.71 244.14 L523.9 244.01 L524.09 243.89 L524.28 243.78 L524.47 243.66 L524.65 243.55 L524.84 243.44 L525.03 243.34 L525.22 243.24 L525.41 243.14 L525.6 243.04 L525.79 242.95 L525.98 242.86 L526.16 242.77 L526.35 242.69 L526.54 242.62 L526.73 242.54 L526.92 242.47 L527.11 242.41 L527.3 242.34 L527.49 242.29 L527.67 242.23 L527.86 242.18 L528.05 242.14 L528.24 242.1 L528.43 242.06 L528.62 242.03 L528.81 242 L529 241.98 L529.18 241.96 L529.37 241.95 L529.56 241.94 L529.75 241.93 L529.94 241.93 L530.13 241.94 L530.32 241.95 L530.51 241.96 L530.69 241.98 L530.88 242 L531.07 242.03 L531.26 242.06 L531.45 242.1 L531.64 242.14 L531.83 242.18 L532.02 242.23 L532.21 242.29 L532.39 242.34 L532.58 242.41 L532.77 242.47 L532.96 242.54 L533.15 242.62 L533.34 242.7 L533.53 242.78 L533.72 242.87 L533.9 242.96 L534.09 243.06 L534.28 243.16 L534.47 243.27 L534.66 243.38 L534.85 243.5 L535.04 243.62 L535.23 243.76 L535.41 243.9 L535.6 244.05 L535.79 244.21 L535.98 244.38 L536.17 244.56 L536.36 244.75 L536.55 244.96 L536.74 245.17 L536.92 245.4 L537.11 245.64 L537.3 245.89 L537.49 246.15 L537.68 246.41 L537.87 246.67 L538.06 246.93 L538.25 247.19 L538.43 247.45 L538.62 247.69 L538.81 247.92 L539 248.14 L539.19 248.33 L539.38 248.51 L539.57 248.66 L539.76 248.79 L539.94 248.9 L540.13 248.99 L540.32 249.06 L540.51 249.12 L540.7 249.16 L540.89 249.19 L541.08 249.21 L541.27 249.23 L541.45 249.25 L541.64 249.27 L541.83 249.3 L542.02 249.33 L542.21 249.36 L542.4 249.41 L542.59 249.46 L542.78 249.52 L542.96 249.59 L543.15 249.67 L543.34 249.75 L543.53 249.85 L543.72 249.94 L543.91 250.04 L544.1 250.15 L544.29 250.25 L544.47 250.36 L544.66 250.47 L544.85 250.58 L545.04 250.69 L545.23 250.8 L545.42 250.91 L545.61 251.02 L545.8 251.12 L545.98 251.23 L546.17 251.33 L546.36 251.43 L546.55 251.53 L546.74 251.62 L546.93 251.72 L547.12 251.81 L547.31 251.9 L547.49 251.99 L547.68 252.08 L547.87 252.16 L548.06 252.25 L548.25 252.33 L548.44 252.4 L548.63 252.48 L548.82 252.55 L549 252.63 L549.19 252.69 L549.38 252.76 L549.57 252.83 L549.76 252.89 L549.95 252.94 L550.14 253 L550.33 253.05 L550.51 253.1 L550.7 253.14 L550.89 253.18 L551.08 253.22 L551.27 253.25 L551.46 253.27 L551.65 253.29 L551.84 253.3 L552.03 253.3 L552.21 253.3 L552.4 253.28 L552.59 253.25 L552.78 253.2 L552.97 253.14 L553.16 253.06 L553.35 252.97 L553.54 252.85 L553.72 252.7 L553.91 252.53 L554.1 252.33 L554.29 252.09 L554.48 251.82 L554.67 251.5 L554.86 251.14 L555.05 250.73 L555.23 250.27 L555.42 249.75 L555.61 249.17 L555.8 248.52 L555.99 247.8 L556.18 247 L556.37 246.12 L556.56 245.17 L556.74 244.12 L556.93 242.99 L557.12 241.76 L557.31 240.44 L557.5 239.03 L557.69 237.51 L557.88 235.91 L558.07 234.21 L558.25 232.42 L558.44 230.54 L558.63 228.58 L558.82 226.55 L559.01 224.44 L559.2 222.28 L559.39 220.06 L559.58 217.8 L559.76 215.51 L559.95 213.21 L560.14 210.91 L560.33 208.62 L560.52 206.36 L560.71 204.14 L560.9 201.98 L561.09 199.9 L561.27 197.91 L561.46 196.03 L561.65 194.28 L561.84 192.66 L562.03 191.2 L562.22 189.9 L562.41 188.79 L562.6 187.86 L562.78 187.12 L562.97 186.59 L563.16 186.27 L563.35 186.16 L563.54 186.26 L563.73 186.57 L563.92 187.09 L564.11 187.82 L564.29 188.74 L564.48 189.85 L564.67 191.14 L564.86 192.59 L565.05 194.2 L565.24 195.95 L565.43 197.83 L565.62 199.82 L565.8 201.9 L565.99 204.06 L566.18 206.28 L566.37 208.55 L566.56 210.84 L566.75 213.15 L566.94 215.47 L567.13 217.76 L567.31 220.03 L567.5 222.26 L567.69 224.44 L567.88 226.56 L568.07 228.61 L568.26 230.59 L568.45 232.49 L568.64 234.3 L568.82 236.01 L569.01 237.64 L569.2 239.17 L569.39 240.61 L569.58 241.95 L569.77 243.2 L569.96 244.36 L570.15 245.43 L570.34 246.41 L570.52 247.31 L570.71 248.13 L570.9 248.88 L571.09 249.55 L571.28 250.16 L571.47 250.71 L571.66 251.2 L571.85 251.64 L572.03 252.03 L572.22 252.38 L572.41 252.68 L572.6 252.95 L572.79 253.18 L572.98 253.39 L573.17 253.57" stroke="#000" stroke-width="1.3" fill="none" stroke-dasharray="1.2 2.3"/>
<rect x="504.7" y="194.4" width="44" height="22.4" fill="#fff" stroke="#777" stroke-width="0.9" />
<text x="507.3" y="203" font-size="7.9" class="hv"><tspan>T</tspan><tspan dy="1.74" font-size="5.37">m1</tspan></text>
<text x="524.3" y="203" font-size="7.6" class="hv">=</text>
<text x="530.5" y="203" font-size="7.3" class="hv">62.7</text>
<text x="507.3" y="211.7" font-size="7.9" class="hv"><tspan>T</tspan><tspan dy="1.74" font-size="5.37">m2</tspan></text>
<text x="524.3" y="211.7" font-size="7.6" class="hv">=</text>
<text x="530.5" y="211.7" font-size="7.3" class="hv">91.1</text>
<text x="611" y="171.6" font-size="8.2" fill="#222">25-ml ExpiCHO</text>
<line x1="606.2" y1="178.7" x2="606.2" y2="252.5" stroke="#555" stroke-width="1.2" />
<line x1="605.7" y1="252.5" x2="678" y2="252.5" stroke="#333" stroke-width="1.2" />
<line x1="603.6" y1="250.46" x2="606.2" y2="250.46" stroke="#222" stroke-width="1" />
<text x="603.6" y="253.36" font-size="8.3" font-weight="bold" text-anchor="end" fill="#222">0</text>
<line x1="603.6" y1="233.5" x2="606.2" y2="233.5" stroke="#222" stroke-width="1" />
<text x="603.6" y="236.4" font-size="8.3" font-weight="bold" text-anchor="end" fill="#222">25</text>
<line x1="603.6" y1="216.53" x2="606.2" y2="216.53" stroke="#222" stroke-width="1" />
<text x="603.6" y="219.43" font-size="8.3" font-weight="bold" text-anchor="end" fill="#222">50</text>
<line x1="603.6" y1="199.56" x2="606.2" y2="199.56" stroke="#222" stroke-width="1" />
<text x="603.6" y="202.46" font-size="8.3" font-weight="bold" text-anchor="end" fill="#222">75</text>
<line x1="603.6" y1="182.59" x2="606.2" y2="182.59" stroke="#222" stroke-width="1" />
<text x="603.6" y="185.49" font-size="8.3" font-weight="bold" text-anchor="end" fill="#222">100</text>
<line x1="616.46" y1="252.5" x2="616.46" y2="255" stroke="#222" stroke-width="1" />
<text x="616.46" y="263.7" font-size="8.3" font-weight="bold" text-anchor="middle" fill="#222">40</text>
<line x1="636.97" y1="252.5" x2="636.97" y2="255" stroke="#222" stroke-width="1" />
<text x="636.97" y="263.7" font-size="8.3" font-weight="bold" text-anchor="middle" fill="#222">60</text>
<line x1="657.49" y1="252.5" x2="657.49" y2="255" stroke="#222" stroke-width="1" />
<text x="657.49" y="263.7" font-size="8.3" font-weight="bold" text-anchor="middle" fill="#222">80</text>
<line x1="678" y1="252.5" x2="678" y2="255" stroke="#222" stroke-width="1" />
<text x="678" y="263.7" font-size="8.3" font-weight="bold" text-anchor="middle" fill="#222">100</text>
<text x="642.1" y="272.1" font-size="7.2" font-weight="bold" text-anchor="middle" fill="#222">Temperature (°C)</text>
<text transform="translate(585,214.9) rotate(-90)" font-size="7.45" font-weight="bold" text-anchor="middle" fill="#222"><tspan>Cp (kcal mol</tspan><tspan dy="-2.83" font-size="4.77">-1</tspan><tspan dy="2.83"> °C</tspan><tspan dy="-2.83" font-size="4.77">-1</tspan><tspan dy="2.83">)</tspan></text>
<path d="M606.2 251.74 L606.44 251.69 L606.68 251.64 L606.92 251.58 L607.16 251.52 L607.4 251.46 L607.64 251.39 L607.88 251.33 L608.12 251.25 L608.36 251.18 L608.6 251.1 L608.84 251.02 L609.08 250.93 L609.32 250.84 L609.56 250.75 L609.8 250.66 L610.04 250.56 L610.28 250.45 L610.52 250.35 L610.76 250.24 L611 250.12 L611.24 250.01 L611.48 249.88 L611.72 249.76 L611.96 249.63 L612.2 249.5 L612.44 249.36 L612.68 249.23 L612.92 249.09 L613.16 248.94 L613.4 248.79 L613.64 248.64 L613.88 248.49 L614.12 248.33 L614.36 248.18 L614.6 248.02 L614.84 247.86 L615.08 247.69 L615.33 247.53 L615.57 247.36 L615.81 247.19 L616.05 247.03 L616.29 246.86 L616.53 246.69 L616.77 246.52 L617.01 246.35 L617.25 246.18 L617.49 246.02 L617.73 245.85 L617.97 245.69 L618.21 245.53 L618.45 245.37 L618.69 245.21 L618.93 245.06 L619.17 244.91 L619.41 244.76 L619.65 244.62 L619.89 244.48 L620.13 244.34 L620.37 244.21 L620.61 244.09 L620.85 243.97 L621.09 243.86 L621.33 243.75 L621.57 243.65 L621.81 243.55 L622.05 243.46 L622.29 243.38 L622.53 243.3 L622.77 243.23 L623.01 243.17 L623.25 243.12 L623.49 243.07 L623.73 243.03 L623.97 242.99 L624.21 242.96 L624.45 242.94 L624.69 242.92 L624.93 242.9 L625.17 242.9 L625.41 242.89 L625.65 242.89 L625.89 242.89 L626.13 242.89 L626.37 242.89 L626.61 242.89 L626.85 242.89 L627.09 242.89 L627.33 242.88 L627.57 242.86 L627.81 242.84 L628.05 242.81 L628.29 242.77 L628.53 242.71 L628.77 242.64 L629.01 242.55 L629.25 242.45 L629.49 242.33 L629.73 242.19 L629.97 242.03 L630.21 241.85 L630.45 241.65 L630.69 241.43 L630.93 241.19 L631.17 240.93 L631.41 240.65 L631.65 240.35 L631.89 240.04 L632.13 239.71 L632.37 239.38 L632.61 239.04 L632.85 238.69 L633.09 238.35 L633.34 238.01 L633.58 237.68 L633.82 237.37 L634.06 237.07 L634.3 236.8 L634.54 236.55 L634.78 236.33 L635.02 236.15 L635.26 236.01 L635.5 235.91 L635.74 235.86 L635.98 235.85 L636.22 235.89 L636.46 235.97 L636.7 236.11 L636.94 236.29 L637.18 236.52 L637.42 236.8 L637.66 237.11 L637.9 237.47 L638.14 237.86 L638.38 238.28 L638.62 238.73 L638.86 239.21 L639.1 239.7 L639.34 240.2 L639.58 240.72 L639.82 241.24 L640.06 241.76 L640.3 242.27 L640.54 242.78 L640.78 243.28 L641.02 243.76 L641.26 244.23 L641.5 244.67 L641.74 245.1 L641.98 245.51 L642.22 245.89 L642.46 246.25 L642.7 246.58 L642.94 246.89 L643.18 247.19 L643.42 247.46 L643.66 247.71 L643.9 247.94 L644.14 248.15 L644.38 248.35 L644.62 248.53 L644.86 248.7 L645.1 248.86 L645.34 249.02 L645.58 249.16 L645.82 249.29 L646.06 249.42 L646.3 249.55 L646.54 249.67 L646.78 249.79 L647.02 249.91 L647.26 250.02 L647.5 250.13 L647.74 250.24 L647.98 250.35 L648.22 250.46 L648.46 250.57 L648.7 250.68 L648.94 250.78 L649.18 250.88 L649.42 250.98 L649.66 251.08 L649.9 251.18 L650.14 251.27 L650.38 251.36 L650.62 251.44 L650.86 251.53 L651.11 251.61 L651.35 251.68 L651.59 251.75 L651.83 251.82 L652.07 251.88 L652.31 251.94 L652.55 251.99 L652.79 252.04 L653.03 252.09 L653.27 252.13 L653.51 252.17 L653.75 252.2 L653.99 252.23 L654.23 252.26 L654.47 252.28 L654.71 252.3 L654.95 252.31 L655.19 252.32 L655.43 252.32 L655.67 252.32 L655.91 252.32 L656.15 252.3 L656.39 252.28 L656.63 252.25 L656.87 252.22 L657.11 252.17 L657.35 252.11 L657.59 252.04 L657.83 251.95 L658.07 251.84 L658.31 251.71 L658.55 251.56 L658.79 251.38 L659.03 251.17 L659.27 250.93 L659.51 250.65 L659.75 250.33 L659.99 249.96 L660.23 249.55 L660.47 249.07 L660.71 248.54 L660.95 247.95 L661.19 247.29 L661.43 246.56 L661.67 245.76 L661.91 244.88 L662.15 243.92 L662.39 242.88 L662.63 241.75 L662.87 240.55 L663.11 239.27 L663.35 237.92 L663.59 236.49 L663.83 235 L664.07 233.46 L664.31 231.86 L664.55 230.22 L664.79 228.55 L665.03 226.87 L665.27 225.18 L665.51 223.51 L665.75 221.87 L665.99 220.26 L666.23 218.72 L666.47 217.25 L666.71 215.88 L666.95 214.61 L667.19 213.46 L667.43 212.44 L667.67 211.58 L667.91 210.87 L668.15 210.33 L668.39 209.96 L668.63 209.77 L668.87 209.76 L669.12 209.93 L669.36 210.28 L669.6 210.8 L669.84 211.49 L670.08 212.34 L670.32 213.33 L670.56 214.47 L670.8 215.72 L671.04 217.09 L671.28 218.55 L671.52 220.08 L671.76 221.68 L672 223.32 L672.24 224.99 L672.48 226.68 L672.72 228.36 L672.96 230.03 L673.2 231.67 L673.44 233.28 L673.68 234.83 L673.92 236.33 L674.16 237.76 L674.4 239.12 L674.64 240.41 L674.88 241.62 L675.12 242.75 L675.36 243.8 L675.6 244.77 L675.84 245.66 L676.08 246.48 L676.32 247.21 L676.56 247.88 L676.8 248.48 L677.04 249.02 L677.28 249.5 L677.52 249.92 L677.76 250.29 L678 250.62" stroke="#ff1a0a" stroke-width="1.9" fill="none" stroke-linejoin="round"/>
<path d="M606.51 251.68 L606.69 251.64 L606.87 251.6 L607.04 251.55 L607.22 251.51 L607.4 251.46 L607.58 251.41 L607.76 251.36 L607.94 251.31 L608.12 251.26 L608.29 251.2 L608.47 251.14 L608.65 251.08 L608.83 251.02 L609.01 250.96 L609.19 250.89 L609.37 250.83 L609.55 250.76 L609.72 250.69 L609.9 250.62 L610.08 250.54 L610.26 250.46 L610.44 250.39 L610.62 250.3 L610.8 250.22 L610.97 250.14 L611.15 250.05 L611.33 249.96 L611.51 249.87 L611.69 249.78 L611.87 249.68 L612.05 249.59 L612.22 249.49 L612.4 249.39 L612.58 249.29 L612.76 249.18 L612.94 249.08 L613.12 248.97 L613.3 248.86 L613.48 248.75 L613.65 248.64 L613.83 248.52 L614.01 248.41 L614.19 248.29 L614.37 248.17 L614.55 248.06 L614.73 247.94 L614.9 247.81 L615.08 247.69 L615.26 247.57 L615.44 247.45 L615.62 247.32 L615.8 247.2 L615.98 247.07 L616.16 246.94 L616.33 246.82 L616.51 246.69 L616.69 246.55 L616.87 246.42 L617.05 246.29 L617.23 246.15 L617.41 246.01 L617.58 245.86 L617.76 245.7 L617.94 245.54 L618.12 245.37 L618.3 245.19 L618.48 244.99 L618.66 244.79 L618.84 244.57 L619.01 244.33 L619.19 244.08 L619.37 243.82 L619.55 243.54 L619.73 243.26 L619.91 242.97 L620.09 242.68 L620.26 242.39 L620.44 242.11 L620.62 241.85 L620.8 241.61 L620.98 241.39 L621.16 241.21 L621.34 241.06 L621.52 240.96 L621.69 240.89 L621.87 240.86 L622.05 240.87 L622.23 240.91 L622.41 240.99 L622.59 241.09 L622.77 241.21 L622.94 241.35 L623.12 241.5 L623.3 241.65 L623.48 241.8 L623.66 241.94 L623.84 242.08 L624.02 242.2 L624.2 242.32 L624.37 242.42 L624.55 242.5 L624.73 242.58 L624.91 242.64 L625.09 242.7 L625.27 242.74 L625.45 242.77 L625.62 242.8 L625.8 242.83 L625.98 242.84 L626.16 242.86 L626.34 242.87 L626.52 242.88 L626.7 242.88 L626.88 242.89 L627.05 242.88 L627.23 242.88 L627.41 242.87 L627.59 242.86 L627.77 242.85 L627.95 242.82 L628.13 242.8 L628.3 242.76 L628.48 242.72 L628.66 242.67 L628.84 242.62 L629.02 242.55 L629.2 242.48 L629.38 242.39 L629.56 242.3 L629.73 242.19 L629.91 242.07 L630.09 241.95 L630.27 241.81 L630.45 241.66 L630.63 241.49 L630.81 241.32 L630.98 241.13 L631.16 240.94 L631.34 240.73 L631.52 240.52 L631.7 240.29 L631.88 240.06 L632.06 239.82 L632.24 239.57 L632.41 239.32 L632.59 239.07 L632.77 238.81 L632.95 238.56 L633.13 238.3 L633.31 238.05 L633.49 237.8 L633.66 237.56 L633.84 237.33 L634.02 237.11 L634.2 236.9 L634.38 236.71 L634.56 236.53 L634.74 236.37 L634.92 236.23 L635.09 236.1 L635.27 236 L635.45 235.93 L635.63 235.88 L635.81 235.85 L635.99 235.85 L636.17 235.88 L636.34 235.93 L636.52 236.01 L636.7 236.11 L636.88 236.24 L637.06 236.4 L637.24 236.59 L637.42 236.79 L637.6 237.03 L637.77 237.28 L637.95 237.55 L638.13 237.85 L638.31 238.16 L638.49 238.49 L638.67 238.83 L638.85 239.18 L639.02 239.55 L639.2 239.92 L639.38 240.3 L639.56 240.68 L639.74 241.07 L639.92 241.45 L640.1 241.84 L640.28 242.22 L640.45 242.6 L640.63 242.98 L640.81 243.34 L640.99 243.7 L641.17 244.05 L641.35 244.39 L641.53 244.72 L641.7 245.04 L641.88 245.35 L642.06 245.64 L642.24 245.92 L642.42 246.19 L642.6 246.44 L642.78 246.68 L642.96 246.91 L643.13 247.13 L643.31 247.34 L643.49 247.53 L643.67 247.71 L643.85 247.89 L644.03 248.05 L644.21 248.21 L644.38 248.35 L644.56 248.49 L644.74 248.62 L644.92 248.74 L645.1 248.86 L645.28 248.98 L645.46 249.08 L645.64 249.19 L645.81 249.29 L645.99 249.39 L646.17 249.48 L646.35 249.57 L646.53 249.66 L646.71 249.75 L646.89 249.84 L647.06 249.93 L647.24 250.01 L647.42 250.09 L647.6 250.18 L647.78 250.26 L647.96 250.34 L648.14 250.42 L648.32 250.5 L648.49 250.58 L648.67 250.66 L648.85 250.74 L649.03 250.82 L649.21 250.89 L649.39 250.97 L649.57 251.04 L649.74 251.11 L649.92 251.18 L650.1 251.25 L650.28 251.32 L650.46 251.39 L650.64 251.45 L650.82 251.51 L651 251.57 L651.17 251.63 L651.35 251.68 L651.53 251.74 L651.71 251.79 L651.89 251.83 L652.07 251.88 L652.25 251.92 L652.42 251.97 L652.6 252.01 L652.78 252.04 L652.96 252.08 L653.14 252.11 L653.32 252.14 L653.5 252.17 L653.68 252.19 L653.85 252.22 L654.03 252.24 L654.21 252.26 L654.39 252.27 L654.57 252.29 L654.75 252.3 L654.93 252.31 L655.1 252.32 L655.28 252.32 L655.46 252.32 L655.64 252.32 L655.82 252.32 L656 252.31 L656.18 252.3 L656.36 252.29 L656.53 252.27 L656.71 252.24 L656.89 252.21 L657.07 252.18 L657.25 252.14 L657.43 252.09 L657.61 252.03 L657.78 251.96 L657.96 251.89 L658.14 251.8 L658.32 251.7 L658.5 251.59 L658.68 251.47 L658.86 251.32 L659.04 251.17 L659.21 250.99 L659.39 250.79 L659.57 250.57 L659.75 250.33 L659.93 250.06 L660.11 249.77 L660.29 249.44 L660.46 249.09 L660.64 248.7 L660.82 248.28 L661 247.82 L661.18 247.33 L661.36 246.79 L661.54 246.22 L661.72 245.6 L661.89 244.94 L662.07 244.24 L662.25 243.49 L662.43 242.7 L662.61 241.87 L662.79 240.99 L662.97 240.06 L663.14 239.09 L663.32 238.09 L663.5 237.04 L663.68 235.95 L663.86 234.83 L664.04 233.68 L664.22 232.5 L664.4 231.3 L664.57 230.07 L664.75 228.83 L664.93 227.58 L665.11 226.33 L665.29 225.08 L665.47 223.83 L665.65 222.6 L665.82 221.39 L666 220.2 L666.18 219.05 L666.36 217.93 L666.54 216.87 L666.72 215.85 L666.9 214.9 L667.07 214.01 L667.25 213.19 L667.43 212.45 L667.61 211.79 L667.79 211.22 L667.97 210.73 L668.15 210.34 L668.33 210.05 L668.5 209.85 L668.68 209.75 L668.86 209.76 L669.04 209.86 L669.22 210.06 L669.4 210.36 L669.58 210.75 L669.75 211.24 L669.93 211.82 L670.11 212.48 L670.29 213.23 L670.47 214.05 L670.65 214.94 L670.83 215.89 L671.01 216.91 L671.18 217.98 L671.36 219.09 L671.54 220.25 L671.72 221.44 L671.9 222.65 L672.08 223.88 L672.26 225.13 L672.43 226.38 L672.61 227.64 L672.79 228.89 L672.97 230.12 L673.15 231.35 L673.33 232.55 L673.51 233.73 L673.69 234.88 L673.86 236 L674.04 237.08 L674.22 238.13 L674.4 239.14 L674.58 240.1 L674.76 241.02 L674.94 241.9 L675.11 242.74 L675.29 243.53 L675.47 244.27 L675.65 244.97 L675.83 245.63 L676.01 246.24 L676.19 246.82 L676.37 247.35 L676.54 247.84 L676.72 248.3 L676.9 248.72 L677.08 249.11 L677.26 249.46 L677.44 249.78 L677.62 250.08 L677.79 250.34" stroke="#000" stroke-width="1.3" fill="none" stroke-dasharray="1.2 2.3"/>
<rect x="613.5" y="185.1" width="43.4" height="31.7" fill="#fff" stroke="#777" stroke-width="0.9" />
<text x="615.3" y="193.9" font-size="7.9" class="hv"><tspan>T</tspan><tspan dy="1.74" font-size="5.37">m1</tspan></text>
<text x="631.7" y="193.9" font-size="7.6" class="hv">=</text>
<text x="638.1" y="193.9" font-size="7.3" class="hv">46.8</text>
<text x="615.3" y="202.3" font-size="7.9" class="hv"><tspan>T</tspan><tspan dy="1.74" font-size="5.37">m2</tspan></text>
<text x="631.7" y="202.3" font-size="7.6" class="hv">=</text>
<text x="638.1" y="202.3" font-size="7.3" class="hv">59.5</text>
<text x="615.3" y="210.7" font-size="7.9" class="hv"><tspan>T</tspan><tspan dy="1.74" font-size="5.37">m3</tspan></text>
<text x="631.7" y="210.7" font-size="7.6" class="hv">=</text>
<text x="638.1" y="210.7" font-size="7.3" class="hv">91.1</text>
<text x="174.2" y="311.4" font-size="8.2" text-anchor="middle" fill="#222"><tspan>HCV-1 sE1E2.Cut</tspan><tspan dy="1.64" font-size="5.25">1+2</tspan><tspan dy="-1.64">.SPYΔN-His</tspan><tspan dy="1.64" font-size="5.25">6</tspan><tspan dy="-1.64"> (293F, Nickel)</tspan></text>
<rect x="41.6" y="353.52" width="10.6" height="24.78" fill="#44e21f" />
<rect x="41.6" y="321.66" width="10.6" height="31.86" fill="#f197cf" />
<rect x="41.6" y="319.3" width="10.6" height="2.36" fill="#3a3a3a" />
<line x1="41.6" y1="353.52" x2="52.2" y2="353.52" stroke="#111" stroke-width="1" />
<line x1="41.6" y1="321.66" x2="52.2" y2="321.66" stroke="#111" stroke-width="1" />
<rect x="41.6" y="319.3" width="10.6" height="59" fill="none" stroke="#111" stroke-width="1" />
<line x1="46.9" y1="378.3" x2="46.9" y2="382.7" stroke="#111" stroke-width="1.3" />
<text transform="translate(50.4,385) rotate(-90)" font-size="9.7" font-weight="bold" text-anchor="end" fill="#111">N196</text>
<rect x="59.8" y="367.09" width="10.6" height="11.21" fill="#44e21f" />
<rect x="59.8" y="350.57" width="10.6" height="16.52" fill="#f197cf" />
<rect x="59.8" y="319.3" width="10.6" height="31.27" fill="#d5d5d5" />
<line x1="59.8" y1="367.09" x2="70.4" y2="367.09" stroke="#111" stroke-width="1" />
<line x1="59.8" y1="350.57" x2="70.4" y2="350.57" stroke="#111" stroke-width="1" />
<rect x="59.8" y="319.3" width="10.6" height="59" fill="none" stroke="#111" stroke-width="1" />
<line x1="65.1" y1="378.3" x2="65.1" y2="382.7" stroke="#111" stroke-width="1.3" />
<text transform="translate(68.6,385) rotate(-90)" font-size="9.7" font-weight="bold" text-anchor="end" fill="#111">N209</text>
<rect x="78" y="375.35" width="10.6" height="2.95" fill="#44e21f" />
<rect x="78" y="323.43" width="10.6" height="51.92" fill="#f197cf" />
<rect x="78" y="319.3" width="10.6" height="4.13" fill="#d5d5d5" />
<line x1="78" y1="375.35" x2="88.6" y2="375.35" stroke="#111" stroke-width="1" />
<line x1="78" y1="323.43" x2="88.6" y2="323.43" stroke="#111" stroke-width="1" />
<rect x="78" y="319.3" width="10.6" height="59" fill="none" stroke="#111" stroke-width="1" />
<line x1="83.3" y1="378.3" x2="83.3" y2="382.7" stroke="#111" stroke-width="1.3" />
<text transform="translate(86.8,385) rotate(-90)" font-size="9.7" font-weight="bold" text-anchor="end" fill="#111">N243</text>
<rect x="96.2" y="319.3" width="10.6" height="59" fill="#fff" stroke="#d8d8d8" stroke-width="1" />
<line x1="101.5" y1="378.3" x2="101.5" y2="382.7" stroke="#111" stroke-width="1.3" />
<text transform="translate(105,385) rotate(-90)" font-size="9.7" font-weight="bold" text-anchor="end" fill="#111">N305</text>
<rect x="114.4" y="375.35" width="10.6" height="2.95" fill="#44e21f" />
<rect x="114.4" y="322.25" width="10.6" height="53.1" fill="#f197cf" />
<rect x="114.4" y="319.3" width="10.6" height="2.95" fill="#d5d5d5" />
<line x1="114.4" y1="375.35" x2="125" y2="375.35" stroke="#111" stroke-width="1" />
<line x1="114.4" y1="322.25" x2="125" y2="322.25" stroke="#111" stroke-width="1" />
<rect x="114.4" y="319.3" width="10.6" height="59" fill="none" stroke="#111" stroke-width="1" />
<line x1="119.7" y1="378.3" x2="119.7" y2="382.7" stroke="#111" stroke-width="1.3" />
<text transform="translate(123.2,385) rotate(-90)" font-size="9.7" font-weight="bold" text-anchor="end" fill="#111">N417</text>
<rect x="132.6" y="372.99" width="10.6" height="5.31" fill="#44e21f" />
<rect x="132.6" y="319.89" width="10.6" height="53.1" fill="#f197cf" />
<rect x="132.6" y="319.3" width="10.6" height="0.59" fill="#3a3a3a" />
<line x1="132.6" y1="372.99" x2="143.2" y2="372.99" stroke="#111" stroke-width="1" />
<line x1="132.6" y1="319.89" x2="143.2" y2="319.89" stroke="#111" stroke-width="1" />
<rect x="132.6" y="319.3" width="10.6" height="59" fill="none" stroke="#111" stroke-width="1" />
<line x1="137.9" y1="378.3" x2="137.9" y2="382.7" stroke="#111" stroke-width="1.3" />
<text transform="translate(141.4,385) rotate(-90)" font-size="9.7" font-weight="bold" text-anchor="end" fill="#111">N423</text>
<rect x="150.8" y="374.76" width="10.6" height="3.54" fill="#44e21f" />
<rect x="150.8" y="331.1" width="10.6" height="43.66" fill="#f197cf" />
<rect x="150.8" y="319.3" width="10.6" height="11.8" fill="#d5d5d5" />
<line x1="150.8" y1="374.76" x2="161.4" y2="374.76" stroke="#111" stroke-width="1" />
<line x1="150.8" y1="331.1" x2="161.4" y2="331.1" stroke="#111" stroke-width="1" />
<rect x="150.8" y="319.3" width="10.6" height="59" fill="none" stroke="#111" stroke-width="1" />
<line x1="156.1" y1="378.3" x2="156.1" y2="382.7" stroke="#111" stroke-width="1.3" />
<text transform="translate(159.6,385) rotate(-90)" font-size="9.7" font-weight="bold" text-anchor="end" fill="#111">N430</text>
<rect x="169" y="370.63" width="10.6" height="7.67" fill="#44e21f" />
<rect x="169" y="319.89" width="10.6" height="50.74" fill="#f197cf" />
<rect x="169" y="319.3" width="10.6" height="0.59" fill="#3a3a3a" />
<line x1="169" y1="370.63" x2="179.6" y2="370.63" stroke="#111" stroke-width="1" />
<line x1="169" y1="319.89" x2="179.6" y2="319.89" stroke="#111" stroke-width="1" />
<rect x="169" y="319.3" width="10.6" height="59" fill="none" stroke="#111" stroke-width="1" />
<line x1="174.3" y1="378.3" x2="174.3" y2="382.7" stroke="#111" stroke-width="1.3" />
<text transform="translate(177.8,385) rotate(-90)" font-size="9.7" font-weight="bold" text-anchor="end" fill="#111">N448</text>
<rect x="187.2" y="374.76" width="10.6" height="3.54" fill="#44e21f" />
<rect x="187.2" y="322.84" width="10.6" height="51.92" fill="#f197cf" />
<rect x="187.2" y="319.3" width="10.6" height="3.54" fill="#d5d5d5" />
<line x1="187.2" y1="374.76" x2="197.8" y2="374.76" stroke="#111" stroke-width="1" />
<line x1="187.2" y1="322.84" x2="197.8" y2="322.84" stroke="#111" stroke-width="1" />
<rect x="187.2" y="319.3" width="10.6" height="59" fill="none" stroke="#111" stroke-width="1" />
<line x1="192.5" y1="378.3" x2="192.5" y2="382.7" stroke="#111" stroke-width="1.3" />
<text transform="translate(196,385) rotate(-90)" font-size="9.7" font-weight="bold" text-anchor="end" fill="#111">N476</text>
<rect x="205.4" y="376.53" width="10.6" height="1.77" fill="#44e21f" />
<rect x="205.4" y="319.89" width="10.6" height="56.64" fill="#f197cf" />
<rect x="205.4" y="319.3" width="10.6" height="0.59" fill="#3a3a3a" />
<line x1="205.4" y1="376.53" x2="216" y2="376.53" stroke="#111" stroke-width="1" />
<line x1="205.4" y1="319.89" x2="216" y2="319.89" stroke="#111" stroke-width="1" />
<rect x="205.4" y="319.3" width="10.6" height="59" fill="none" stroke="#111" stroke-width="1" />
<line x1="210.7" y1="378.3" x2="210.7" y2="382.7" stroke="#111" stroke-width="1.3" />
<text transform="translate(214.2,385) rotate(-90)" font-size="9.7" font-weight="bold" text-anchor="end" fill="#111">N532</text>
<rect x="223.6" y="368.27" width="10.6" height="10.03" fill="#44e21f" />
<rect x="223.6" y="367.09" width="10.6" height="1.18" fill="#f6d0e8" />
<rect x="223.6" y="323.43" width="10.6" height="43.66" fill="#f197cf" />
<rect x="223.6" y="319.3" width="10.6" height="4.13" fill="#d5d5d5" />
<line x1="223.6" y1="368.27" x2="234.2" y2="368.27" stroke="#111" stroke-width="1" />
<line x1="223.6" y1="367.09" x2="234.2" y2="367.09" stroke="#111" stroke-width="1" />
<line x1="223.6" y1="323.43" x2="234.2" y2="323.43" stroke="#111" stroke-width="1" />
<rect x="223.6" y="319.3" width="10.6" height="59" fill="none" stroke="#111" stroke-width="1" />
<line x1="228.9" y1="378.3" x2="228.9" y2="382.7" stroke="#111" stroke-width="1.3" />
<text transform="translate(232.4,385) rotate(-90)" font-size="9.7" font-weight="bold" text-anchor="end" fill="#111">N540</text>
<rect x="241.8" y="345.85" width="10.6" height="32.45" fill="#44e21f" />
<rect x="241.8" y="320.48" width="10.6" height="25.37" fill="#f197cf" />
<rect x="241.8" y="319.3" width="10.6" height="1.18" fill="#3a3a3a" />
<line x1="241.8" y1="345.85" x2="252.4" y2="345.85" stroke="#111" stroke-width="1" />
<line x1="241.8" y1="320.48" x2="252.4" y2="320.48" stroke="#111" stroke-width="1" />
<rect x="241.8" y="319.3" width="10.6" height="59" fill="none" stroke="#111" stroke-width="1" />
<line x1="247.1" y1="378.3" x2="247.1" y2="382.7" stroke="#111" stroke-width="1.3" />
<text transform="translate(250.6,385) rotate(-90)" font-size="9.7" font-weight="bold" text-anchor="end" fill="#111">N556</text>
<rect x="260" y="376.53" width="10.6" height="1.77" fill="#44e21f" />
<rect x="260" y="319.3" width="10.6" height="57.23" fill="#f197cf" />
<line x1="260" y1="376.53" x2="270.6" y2="376.53" stroke="#111" stroke-width="1" />
<rect x="260" y="319.3" width="10.6" height="59" fill="none" stroke="#111" stroke-width="1" />
<line x1="265.3" y1="378.3" x2="265.3" y2="382.7" stroke="#111" stroke-width="1.3" />
<text transform="translate(268.8,385) rotate(-90)" font-size="9.7" font-weight="bold" text-anchor="end" fill="#111">N576</text>
<rect x="278.2" y="360.01" width="10.6" height="18.29" fill="#44e21f" />
<rect x="278.2" y="337.59" width="10.6" height="22.42" fill="#f197cf" />
<rect x="278.2" y="319.3" width="10.6" height="18.29" fill="#d5d5d5" />
<line x1="278.2" y1="360.01" x2="288.8" y2="360.01" stroke="#111" stroke-width="1" />
<line x1="278.2" y1="337.59" x2="288.8" y2="337.59" stroke="#111" stroke-width="1" />
<rect x="278.2" y="319.3" width="10.6" height="59" fill="none" stroke="#111" stroke-width="1" />
<line x1="283.5" y1="378.3" x2="283.5" y2="382.7" stroke="#111" stroke-width="1.3" />
<text transform="translate(287,385) rotate(-90)" font-size="9.7" font-weight="bold" text-anchor="end" fill="#111">N623</text>
<rect x="296.4" y="341.13" width="10.6" height="37.17" fill="#44e21f" />
<rect x="296.4" y="322.25" width="10.6" height="18.88" fill="#f197cf" />
<rect x="296.4" y="319.3" width="10.6" height="2.95" fill="#d5d5d5" />
<line x1="296.4" y1="341.13" x2="307" y2="341.13" stroke="#111" stroke-width="1" />
<line x1="296.4" y1="322.25" x2="307" y2="322.25" stroke="#111" stroke-width="1" />
<rect x="296.4" y="319.3" width="10.6" height="59" fill="none" stroke="#111" stroke-width="1" />
<line x1="301.7" y1="378.3" x2="301.7" y2="382.7" stroke="#111" stroke-width="1.3" />
<text transform="translate(305.2,385) rotate(-90)" font-size="9.7" font-weight="bold" text-anchor="end" fill="#111">N645</text>
<rect x="314.6" y="377.71" width="10.6" height="0.59" fill="#44e21f" />
<rect x="314.6" y="365.32" width="10.6" height="12.39" fill="#f197cf" />
<rect x="314.6" y="319.3" width="10.6" height="46.02" fill="#d5d5d5" />
<line x1="314.6" y1="377.71" x2="325.2" y2="377.71" stroke="#111" stroke-width="1" />
<line x1="314.6" y1="365.32" x2="325.2" y2="365.32" stroke="#111" stroke-width="1" />
<rect x="314.6" y="319.3" width="10.6" height="59" fill="none" stroke="#111" stroke-width="1" />
<line x1="319.9" y1="378.3" x2="319.9" y2="382.7" stroke="#111" stroke-width="1.3" />
<text transform="translate(323.4,385) rotate(-90)" font-size="9.7" font-weight="bold" text-anchor="end" fill="#111">N695</text>
<line x1="34.8" y1="318.7" x2="34.8" y2="378.3" stroke="#111" stroke-width="1.3" />
<line x1="30.6" y1="378.3" x2="332.3" y2="378.3" stroke="#111" stroke-width="1.6" />
<line x1="30.6" y1="378.3" x2="34.8" y2="378.3" stroke="#111" stroke-width="1.3" />
<text x="27.9" y="381.6" font-size="9.2" font-weight="bold" text-anchor="end" fill="#111">0</text>
<line x1="30.6" y1="363.55" x2="34.8" y2="363.55" stroke="#111" stroke-width="1.3" />
<text x="27.9" y="366.85" font-size="9.2" font-weight="bold" text-anchor="end" fill="#111">25</text>
<line x1="30.6" y1="348.8" x2="34.8" y2="348.8" stroke="#111" stroke-width="1.3" />
<text x="27.9" y="352.1" font-size="9.2" font-weight="bold" text-anchor="end" fill="#111">50</text>
<line x1="30.6" y1="334.05" x2="34.8" y2="334.05" stroke="#111" stroke-width="1.3" />
<text x="27.9" y="337.35" font-size="9.2" font-weight="bold" text-anchor="end" fill="#111">75</text>
<line x1="30.6" y1="319.3" x2="34.8" y2="319.3" stroke="#111" stroke-width="1.3" />
<text x="27.9" y="322.6" font-size="9.2" font-weight="bold" text-anchor="end" fill="#111">100</text>
<text x="8.4" y="352.1" font-size="9.2" text-anchor="middle" fill="#111" class="hv">%</text>
<text x="512" y="311.4" font-size="8.2" text-anchor="middle" fill="#222"><tspan>HCV-1 sE1E2.Cut</tspan><tspan dy="1.64" font-size="5.25">1+2</tspan><tspan dy="-1.64">.SPYΔN-His</tspan><tspan dy="1.64" font-size="5.25">6</tspan><tspan dy="-1.64"> (ExpiCHO, Nickel)</tspan></text>
<rect x="378.6" y="341.13" width="10.6" height="37.17" fill="#44e21f" />
<rect x="378.6" y="321.07" width="10.6" height="20.06" fill="#f197cf" />
<rect x="378.6" y="319.3" width="10.6" height="1.77" fill="#3a3a3a" />
<line x1="378.6" y1="341.13" x2="389.2" y2="341.13" stroke="#111" stroke-width="1" />
<line x1="378.6" y1="321.07" x2="389.2" y2="321.07" stroke="#111" stroke-width="1" />
<rect x="378.6" y="319.3" width="10.6" height="59" fill="none" stroke="#111" stroke-width="1" />
<line x1="383.9" y1="378.3" x2="383.9" y2="382.7" stroke="#111" stroke-width="1.3" />
<text transform="translate(387.4,385) rotate(-90)" font-size="9.7" font-weight="bold" text-anchor="end" fill="#111">N196</text>
<rect x="396.8" y="342.9" width="10.6" height="35.4" fill="#44e21f" />
<rect x="396.8" y="336.41" width="10.6" height="6.49" fill="#f197cf" />
<rect x="396.8" y="319.3" width="10.6" height="17.11" fill="#d5d5d5" />
<line x1="396.8" y1="342.9" x2="407.4" y2="342.9" stroke="#111" stroke-width="1" />
<line x1="396.8" y1="336.41" x2="407.4" y2="336.41" stroke="#111" stroke-width="1" />
<rect x="396.8" y="319.3" width="10.6" height="59" fill="none" stroke="#111" stroke-width="1" />
<line x1="402.1" y1="378.3" x2="402.1" y2="382.7" stroke="#111" stroke-width="1.3" />
<text transform="translate(405.6,385) rotate(-90)" font-size="9.7" font-weight="bold" text-anchor="end" fill="#111">N209</text>
<rect x="415" y="375.35" width="10.6" height="2.95" fill="#44e21f" />
<rect x="415" y="323.43" width="10.6" height="51.92" fill="#f197cf" />
<rect x="415" y="322.25" width="10.6" height="1.18" fill="#f6d0e8" />
<rect x="415" y="319.3" width="10.6" height="2.95" fill="#d5d5d5" />
<line x1="415" y1="375.35" x2="425.6" y2="375.35" stroke="#111" stroke-width="1" />
<line x1="415" y1="323.43" x2="425.6" y2="323.43" stroke="#111" stroke-width="1" />
<line x1="415" y1="322.25" x2="425.6" y2="322.25" stroke="#111" stroke-width="1" />
<rect x="415" y="319.3" width="10.6" height="59" fill="none" stroke="#111" stroke-width="1" />
<line x1="420.3" y1="378.3" x2="420.3" y2="382.7" stroke="#111" stroke-width="1.3" />
<text transform="translate(423.8,385) rotate(-90)" font-size="9.7" font-weight="bold" text-anchor="end" fill="#111">N243</text>
<rect x="433.2" y="319.3" width="10.6" height="59" fill="#fff" stroke="#d8d8d8" stroke-width="1" />
<line x1="438.5" y1="378.3" x2="438.5" y2="382.7" stroke="#111" stroke-width="1.3" />
<text transform="translate(442,385) rotate(-90)" font-size="9.7" font-weight="bold" text-anchor="end" fill="#111">N305</text>
<rect x="451.4" y="368.86" width="10.6" height="9.44" fill="#44e21f" />
<rect x="451.4" y="325.2" width="10.6" height="43.66" fill="#f197cf" />
<rect x="451.4" y="319.3" width="10.6" height="5.9" fill="#d5d5d5" />
<line x1="451.4" y1="368.86" x2="462" y2="368.86" stroke="#111" stroke-width="1" />
<line x1="451.4" y1="325.2" x2="462" y2="325.2" stroke="#111" stroke-width="1" />
<rect x="451.4" y="319.3" width="10.6" height="59" fill="none" stroke="#111" stroke-width="1" />
<line x1="456.7" y1="378.3" x2="456.7" y2="382.7" stroke="#111" stroke-width="1.3" />
<text transform="translate(460.2,385) rotate(-90)" font-size="9.7" font-weight="bold" text-anchor="end" fill="#111">N417</text>
<rect x="469.6" y="372.99" width="10.6" height="5.31" fill="#44e21f" />
<rect x="469.6" y="319.3" width="10.6" height="53.69" fill="#f197cf" />
<line x1="469.6" y1="372.99" x2="480.2" y2="372.99" stroke="#111" stroke-width="1" />
<rect x="469.6" y="319.3" width="10.6" height="59" fill="none" stroke="#111" stroke-width="1" />
<line x1="474.9" y1="378.3" x2="474.9" y2="382.7" stroke="#111" stroke-width="1.3" />
<text transform="translate(478.4,385) rotate(-90)" font-size="9.7" font-weight="bold" text-anchor="end" fill="#111">N423</text>
<rect x="487.8" y="375.94" width="10.6" height="2.36" fill="#44e21f" />
<rect x="487.8" y="322.84" width="10.6" height="53.1" fill="#f197cf" />
<rect x="487.8" y="319.3" width="10.6" height="3.54" fill="#d5d5d5" />
<line x1="487.8" y1="375.94" x2="498.4" y2="375.94" stroke="#111" stroke-width="1" />
<line x1="487.8" y1="322.84" x2="498.4" y2="322.84" stroke="#111" stroke-width="1" />
<rect x="487.8" y="319.3" width="10.6" height="59" fill="none" stroke="#111" stroke-width="1" />
<line x1="493.1" y1="378.3" x2="493.1" y2="382.7" stroke="#111" stroke-width="1.3" />
<text transform="translate(496.6,385) rotate(-90)" font-size="9.7" font-weight="bold" text-anchor="end" fill="#111">N430</text>
<rect x="506" y="368.86" width="10.6" height="9.44" fill="#44e21f" />
<rect x="506" y="319.3" width="10.6" height="49.56" fill="#f197cf" />
<line x1="506" y1="368.86" x2="516.6" y2="368.86" stroke="#111" stroke-width="1" />
<rect x="506" y="319.3" width="10.6" height="59" fill="none" stroke="#111" stroke-width="1" />
<line x1="511.3" y1="378.3" x2="511.3" y2="382.7" stroke="#111" stroke-width="1.3" />
<text transform="translate(514.8,385) rotate(-90)" font-size="9.7" font-weight="bold" text-anchor="end" fill="#111">N448</text>
<rect x="524.2" y="358.83" width="10.6" height="19.47" fill="#44e21f" />
<rect x="524.2" y="357.06" width="10.6" height="1.77" fill="#f6d0e8" />
<rect x="524.2" y="320.48" width="10.6" height="36.58" fill="#f197cf" />
<rect x="524.2" y="319.3" width="10.6" height="1.18" fill="#3a3a3a" />
<line x1="524.2" y1="358.83" x2="534.8" y2="358.83" stroke="#111" stroke-width="1" />
<line x1="524.2" y1="357.06" x2="534.8" y2="357.06" stroke="#111" stroke-width="1" />
<line x1="524.2" y1="320.48" x2="534.8" y2="320.48" stroke="#111" stroke-width="1" />
<rect x="524.2" y="319.3" width="10.6" height="59" fill="none" stroke="#111" stroke-width="1" />
<line x1="529.5" y1="378.3" x2="529.5" y2="382.7" stroke="#111" stroke-width="1.3" />
<text transform="translate(533,385) rotate(-90)" font-size="9.7" font-weight="bold" text-anchor="end" fill="#111">N476</text>
<rect x="542.4" y="377.71" width="10.6" height="0.59" fill="#44e21f" />
<rect x="542.4" y="319.3" width="10.6" height="58.41" fill="#f197cf" />
<line x1="542.4" y1="377.71" x2="553" y2="377.71" stroke="#111" stroke-width="1" />
<rect x="542.4" y="319.3" width="10.6" height="59" fill="none" stroke="#111" stroke-width="1" />
<line x1="547.7" y1="378.3" x2="547.7" y2="382.7" stroke="#111" stroke-width="1.3" />
<text transform="translate(551.2,385) rotate(-90)" font-size="9.7" font-weight="bold" text-anchor="end" fill="#111">N532</text>
<rect x="560.6" y="344.67" width="10.6" height="33.63" fill="#44e21f" />
<rect x="560.6" y="321.66" width="10.6" height="23.01" fill="#f197cf" />
<rect x="560.6" y="319.3" width="10.6" height="2.36" fill="#d5d5d5" />
<line x1="560.6" y1="344.67" x2="571.2" y2="344.67" stroke="#111" stroke-width="1" />
<line x1="560.6" y1="321.66" x2="571.2" y2="321.66" stroke="#111" stroke-width="1" />
<rect x="560.6" y="319.3" width="10.6" height="59" fill="none" stroke="#111" stroke-width="1" />
<line x1="565.9" y1="378.3" x2="565.9" y2="382.7" stroke="#111" stroke-width="1.3" />
<text transform="translate(569.4,385) rotate(-90)" font-size="9.7" font-weight="bold" text-anchor="end" fill="#111">N540</text>
<rect x="578.8" y="324.61" width="10.6" height="53.69" fill="#44e21f" />
<rect x="578.8" y="321.07" width="10.6" height="3.54" fill="#f197cf" />
<rect x="578.8" y="319.3" width="10.6" height="1.77" fill="#d5d5d5" />
<line x1="578.8" y1="324.61" x2="589.4" y2="324.61" stroke="#111" stroke-width="1" />
<line x1="578.8" y1="321.07" x2="589.4" y2="321.07" stroke="#111" stroke-width="1" />
<rect x="578.8" y="319.3" width="10.6" height="59" fill="none" stroke="#111" stroke-width="1" />
<line x1="584.1" y1="378.3" x2="584.1" y2="382.7" stroke="#111" stroke-width="1.3" />
<text transform="translate(587.6,385) rotate(-90)" font-size="9.7" font-weight="bold" text-anchor="end" fill="#111">N556</text>
<rect x="597" y="376.53" width="10.6" height="1.77" fill="#44e21f" />
<rect x="597" y="319.3" width="10.6" height="57.23" fill="#f197cf" />
<line x1="597" y1="376.53" x2="607.6" y2="376.53" stroke="#111" stroke-width="1" />
<rect x="597" y="319.3" width="10.6" height="59" fill="none" stroke="#111" stroke-width="1" />
<line x1="602.3" y1="378.3" x2="602.3" y2="382.7" stroke="#111" stroke-width="1.3" />
<text transform="translate(605.8,385) rotate(-90)" font-size="9.7" font-weight="bold" text-anchor="end" fill="#111">N576</text>
<rect x="615.2" y="348.21" width="10.6" height="30.09" fill="#44e21f" />
<rect x="615.2" y="344.08" width="10.6" height="4.13" fill="#f197cf" />
<rect x="615.2" y="319.3" width="10.6" height="24.78" fill="#d5d5d5" />
<line x1="615.2" y1="348.21" x2="625.8" y2="348.21" stroke="#111" stroke-width="1" />
<line x1="615.2" y1="344.08" x2="625.8" y2="344.08" stroke="#111" stroke-width="1" />
<rect x="615.2" y="319.3" width="10.6" height="59" fill="none" stroke="#111" stroke-width="1" />
<line x1="620.5" y1="378.3" x2="620.5" y2="382.7" stroke="#111" stroke-width="1.3" />
<text transform="translate(624,385) rotate(-90)" font-size="9.7" font-weight="bold" text-anchor="end" fill="#111">N623</text>
<rect x="633.4" y="321.07" width="10.6" height="57.23" fill="#44e21f" />
<rect x="633.4" y="319.3" width="10.6" height="1.77" fill="#f197cf" />
<line x1="633.4" y1="321.07" x2="644" y2="321.07" stroke="#111" stroke-width="1" />
<rect x="633.4" y="319.3" width="10.6" height="59" fill="none" stroke="#111" stroke-width="1" />
<line x1="638.7" y1="378.3" x2="638.7" y2="382.7" stroke="#111" stroke-width="1.3" />
<text transform="translate(642.2,385) rotate(-90)" font-size="9.7" font-weight="bold" text-anchor="end" fill="#111">N645</text>
<rect x="651.6" y="376.53" width="10.6" height="1.77" fill="#44e21f" />
<rect x="651.6" y="372.4" width="10.6" height="4.13" fill="#f197cf" />
<rect x="651.6" y="319.3" width="10.6" height="53.1" fill="#d5d5d5" />
<line x1="651.6" y1="376.53" x2="662.2" y2="376.53" stroke="#111" stroke-width="1" />
<line x1="651.6" y1="372.4" x2="662.2" y2="372.4" stroke="#111" stroke-width="1" />
<rect x="651.6" y="319.3" width="10.6" height="59" fill="none" stroke="#111" stroke-width="1" />
<line x1="656.9" y1="378.3" x2="656.9" y2="382.7" stroke="#111" stroke-width="1.3" />
<text transform="translate(660.4,385) rotate(-90)" font-size="9.7" font-weight="bold" text-anchor="end" fill="#111">N695</text>
<line x1="371.8" y1="318.7" x2="371.8" y2="378.3" stroke="#111" stroke-width="1.3" />
<line x1="367.6" y1="378.3" x2="669.3" y2="378.3" stroke="#111" stroke-width="1.6" />
<line x1="367.6" y1="378.3" x2="371.8" y2="378.3" stroke="#111" stroke-width="1.3" />
<text x="364.9" y="381.6" font-size="9.2" font-weight="bold" text-anchor="end" fill="#111">0</text>
<line x1="367.6" y1="363.55" x2="371.8" y2="363.55" stroke="#111" stroke-width="1.3" />
<text x="364.9" y="366.85" font-size="9.2" font-weight="bold" text-anchor="end" fill="#111">25</text>
<line x1="367.6" y1="348.8" x2="371.8" y2="348.8" stroke="#111" stroke-width="1.3" />
<text x="364.9" y="352.1" font-size="9.2" font-weight="bold" text-anchor="end" fill="#111">50</text>
<line x1="367.6" y1="334.05" x2="371.8" y2="334.05" stroke="#111" stroke-width="1.3" />
<text x="364.9" y="337.35" font-size="9.2" font-weight="bold" text-anchor="end" fill="#111">75</text>
<line x1="367.6" y1="319.3" x2="371.8" y2="319.3" stroke="#111" stroke-width="1.3" />
<text x="364.9" y="322.6" font-size="9.2" font-weight="bold" text-anchor="end" fill="#111">100</text>
<text x="345.4" y="352.1" font-size="9.2" text-anchor="middle" fill="#111" class="hv">%</text>
<text x="174.3" y="428" font-size="8.2" text-anchor="middle" fill="#222"><tspan>HCV-1 sE1E2.Cut</tspan><tspan dy="1.64" font-size="5.25">1+2</tspan><tspan dy="-1.64">.SPYΔN-His</tspan><tspan dy="1.64" font-size="5.25">6</tspan><tspan dy="-1.64"> (ExpiCHO + Kif, Nickel)</tspan></text>
<rect x="41.6" y="437.96" width="10.6" height="57.04" fill="#44e21f" />
<rect x="41.6" y="436.2" width="10.6" height="1.76" fill="#3a3a3a" />
<line x1="41.6" y1="437.96" x2="52.2" y2="437.96" stroke="#111" stroke-width="1" />
<rect x="41.6" y="436.2" width="10.6" height="58.8" fill="none" stroke="#111" stroke-width="1" />
<line x1="46.9" y1="495" x2="46.9" y2="499.4" stroke="#111" stroke-width="1.3" />
<text transform="translate(50.4,501.7) rotate(-90)" font-size="9.7" font-weight="bold" text-anchor="end" fill="#111">N196</text>
<rect x="59.8" y="463.25" width="10.6" height="31.75" fill="#44e21f" />
<rect x="59.8" y="436.2" width="10.6" height="27.05" fill="#d5d5d5" />
<line x1="59.8" y1="463.25" x2="70.4" y2="463.25" stroke="#111" stroke-width="1" />
<rect x="59.8" y="436.2" width="10.6" height="58.8" fill="none" stroke="#111" stroke-width="1" />
<line x1="65.1" y1="495" x2="65.1" y2="499.4" stroke="#111" stroke-width="1.3" />
<text transform="translate(68.6,501.7) rotate(-90)" font-size="9.7" font-weight="bold" text-anchor="end" fill="#111">N209</text>
<rect x="78" y="442.08" width="10.6" height="52.92" fill="#44e21f" />
<rect x="78" y="440.32" width="10.6" height="1.76" fill="#3a3a3a" />
<rect x="78" y="436.2" width="10.6" height="4.12" fill="#d5d5d5" />
<line x1="78" y1="442.08" x2="88.6" y2="442.08" stroke="#111" stroke-width="1" />
<line x1="78" y1="440.32" x2="88.6" y2="440.32" stroke="#111" stroke-width="1" />
<rect x="78" y="436.2" width="10.6" height="58.8" fill="none" stroke="#111" stroke-width="1" />
<line x1="83.3" y1="495" x2="83.3" y2="499.4" stroke="#111" stroke-width="1.3" />
<text transform="translate(86.8,501.7) rotate(-90)" font-size="9.7" font-weight="bold" text-anchor="end" fill="#111">N243</text>
<rect x="96.2" y="436.2" width="10.6" height="58.8" fill="#fff" stroke="#d8d8d8" stroke-width="1" />
<line x1="101.5" y1="495" x2="101.5" y2="499.4" stroke="#111" stroke-width="1.3" />
<text transform="translate(105,501.7) rotate(-90)" font-size="9.7" font-weight="bold" text-anchor="end" fill="#111">N305</text>
<rect x="114.4" y="440.9" width="10.6" height="54.1" fill="#44e21f" />
<rect x="114.4" y="439.14" width="10.6" height="1.76" fill="#3a3a3a" />
<rect x="114.4" y="436.2" width="10.6" height="2.94" fill="#d5d5d5" />
<line x1="114.4" y1="440.9" x2="125" y2="440.9" stroke="#111" stroke-width="1" />
<line x1="114.4" y1="439.14" x2="125" y2="439.14" stroke="#111" stroke-width="1" />
<rect x="114.4" y="436.2" width="10.6" height="58.8" fill="none" stroke="#111" stroke-width="1" />
<line x1="119.7" y1="495" x2="119.7" y2="499.4" stroke="#111" stroke-width="1.3" />
<text transform="translate(123.2,501.7) rotate(-90)" font-size="9.7" font-weight="bold" text-anchor="end" fill="#111">N417</text>
<rect x="132.6" y="437.96" width="10.6" height="57.04" fill="#44e21f" />
<rect x="132.6" y="436.2" width="10.6" height="1.76" fill="#3a3a3a" />
<line x1="132.6" y1="437.96" x2="143.2" y2="437.96" stroke="#111" stroke-width="1" />
<rect x="132.6" y="436.2" width="10.6" height="58.8" fill="none" stroke="#111" stroke-width="1" />
<line x1="137.9" y1="495" x2="137.9" y2="499.4" stroke="#111" stroke-width="1.3" />
<text transform="translate(141.4,501.7) rotate(-90)" font-size="9.7" font-weight="bold" text-anchor="end" fill="#111">N423</text>
<rect x="150.8" y="443.84" width="10.6" height="51.16" fill="#44e21f" />
<rect x="150.8" y="441.49" width="10.6" height="2.35" fill="#3a3a3a" />
<rect x="150.8" y="436.2" width="10.6" height="5.29" fill="#d5d5d5" />
<line x1="150.8" y1="443.84" x2="161.4" y2="443.84" stroke="#111" stroke-width="1" />
<line x1="150.8" y1="441.49" x2="161.4" y2="441.49" stroke="#111" stroke-width="1" />
<rect x="150.8" y="436.2" width="10.6" height="58.8" fill="none" stroke="#111" stroke-width="1" />
<line x1="156.1" y1="495" x2="156.1" y2="499.4" stroke="#111" stroke-width="1.3" />
<text transform="translate(159.6,501.7) rotate(-90)" font-size="9.7" font-weight="bold" text-anchor="end" fill="#111">N430</text>
<rect x="169" y="436.2" width="10.6" height="58.8" fill="#44e21f" />
<rect x="169" y="436.2" width="10.6" height="58.8" fill="none" stroke="#111" stroke-width="1" />
<line x1="174.3" y1="495" x2="174.3" y2="499.4" stroke="#111" stroke-width="1.3" />
<text transform="translate(177.8,501.7) rotate(-90)" font-size="9.7" font-weight="bold" text-anchor="end" fill="#111">N448</text>
<rect x="187.2" y="438.55" width="10.6" height="56.45" fill="#44e21f" />
<rect x="187.2" y="437.96" width="10.6" height="0.59" fill="#3a3a3a" />
<rect x="187.2" y="436.2" width="10.6" height="1.76" fill="#d5d5d5" />
<line x1="187.2" y1="438.55" x2="197.8" y2="438.55" stroke="#111" stroke-width="1" />
<line x1="187.2" y1="437.96" x2="197.8" y2="437.96" stroke="#111" stroke-width="1" />
<rect x="187.2" y="436.2" width="10.6" height="58.8" fill="none" stroke="#111" stroke-width="1" />
<line x1="192.5" y1="495" x2="192.5" y2="499.4" stroke="#111" stroke-width="1.3" />
<text transform="translate(196,501.7) rotate(-90)" font-size="9.7" font-weight="bold" text-anchor="end" fill="#111">N476</text>
<rect x="205.4" y="438.55" width="10.6" height="56.45" fill="#44e21f" />
<rect x="205.4" y="436.2" width="10.6" height="2.35" fill="#3a3a3a" />
<line x1="205.4" y1="438.55" x2="216" y2="438.55" stroke="#111" stroke-width="1" />
<rect x="205.4" y="436.2" width="10.6" height="58.8" fill="none" stroke="#111" stroke-width="1" />
<line x1="210.7" y1="495" x2="210.7" y2="499.4" stroke="#111" stroke-width="1.3" />
<text transform="translate(214.2,501.7) rotate(-90)" font-size="9.7" font-weight="bold" text-anchor="end" fill="#111">N532</text>
<rect x="223.6" y="440.32" width="10.6" height="54.68" fill="#44e21f" />
<rect x="223.6" y="439.14" width="10.6" height="1.18" fill="#3a3a3a" />
<rect x="223.6" y="436.2" width="10.6" height="2.94" fill="#d5d5d5" />
<line x1="223.6" y1="440.32" x2="234.2" y2="440.32" stroke="#111" stroke-width="1" />
<line x1="223.6" y1="439.14" x2="234.2" y2="439.14" stroke="#111" stroke-width="1" />
<rect x="223.6" y="436.2" width="10.6" height="58.8" fill="none" stroke="#111" stroke-width="1" />
<line x1="228.9" y1="495" x2="228.9" y2="499.4" stroke="#111" stroke-width="1.3" />
<text transform="translate(232.4,501.7) rotate(-90)" font-size="9.7" font-weight="bold" text-anchor="end" fill="#111">N540</text>
<rect x="241.8" y="436.2" width="10.6" height="58.8" fill="#44e21f" />
<rect x="241.8" y="436.2" width="10.6" height="58.8" fill="none" stroke="#111" stroke-width="1" />
<line x1="247.1" y1="495" x2="247.1" y2="499.4" stroke="#111" stroke-width="1.3" />
<text transform="translate(250.6,501.7) rotate(-90)" font-size="9.7" font-weight="bold" text-anchor="end" fill="#111">N556</text>
<rect x="260" y="437.38" width="10.6" height="57.62" fill="#44e21f" />
<rect x="260" y="436.2" width="10.6" height="1.18" fill="#3a3a3a" />
<line x1="260" y1="437.38" x2="270.6" y2="437.38" stroke="#111" stroke-width="1" />
<rect x="260" y="436.2" width="10.6" height="58.8" fill="none" stroke="#111" stroke-width="1" />
<line x1="265.3" y1="495" x2="265.3" y2="499.4" stroke="#111" stroke-width="1.3" />
<text transform="translate(268.8,501.7) rotate(-90)" font-size="9.7" font-weight="bold" text-anchor="end" fill="#111">N576</text>
<rect x="278.2" y="469.13" width="10.6" height="25.87" fill="#44e21f" />
<rect x="278.2" y="436.2" width="10.6" height="32.93" fill="#d5d5d5" />
<line x1="278.2" y1="469.13" x2="288.8" y2="469.13" stroke="#111" stroke-width="1" />
<rect x="278.2" y="436.2" width="10.6" height="58.8" fill="none" stroke="#111" stroke-width="1" />
<line x1="283.5" y1="495" x2="283.5" y2="499.4" stroke="#111" stroke-width="1.3" />
<text transform="translate(287,501.7) rotate(-90)" font-size="9.7" font-weight="bold" text-anchor="end" fill="#111">N623</text>
<rect x="296.4" y="437.38" width="10.6" height="57.62" fill="#44e21f" />
<rect x="296.4" y="436.2" width="10.6" height="1.18" fill="#3a3a3a" />
<line x1="296.4" y1="437.38" x2="307" y2="437.38" stroke="#111" stroke-width="1" />
<rect x="296.4" y="436.2" width="10.6" height="58.8" fill="none" stroke="#111" stroke-width="1" />
<line x1="301.7" y1="495" x2="301.7" y2="499.4" stroke="#111" stroke-width="1.3" />
<text transform="translate(305.2,501.7) rotate(-90)" font-size="9.7" font-weight="bold" text-anchor="end" fill="#111">N645</text>
<rect x="314.6" y="485.59" width="10.6" height="9.41" fill="#44e21f" />
<rect x="314.6" y="436.2" width="10.6" height="49.39" fill="#d5d5d5" />
<line x1="314.6" y1="485.59" x2="325.2" y2="485.59" stroke="#111" stroke-width="1" />
<rect x="314.6" y="436.2" width="10.6" height="58.8" fill="none" stroke="#111" stroke-width="1" />
<line x1="319.9" y1="495" x2="319.9" y2="499.4" stroke="#111" stroke-width="1.3" />
<text transform="translate(323.4,501.7) rotate(-90)" font-size="9.7" font-weight="bold" text-anchor="end" fill="#111">N695</text>
<line x1="34.8" y1="435.6" x2="34.8" y2="495" stroke="#111" stroke-width="1.3" />
<line x1="30.6" y1="495" x2="332.3" y2="495" stroke="#111" stroke-width="1.6" />
<line x1="30.6" y1="495" x2="34.8" y2="495" stroke="#111" stroke-width="1.3" />
<text x="27.9" y="498.3" font-size="9.2" font-weight="bold" text-anchor="end" fill="#111">0</text>
<line x1="30.6" y1="480.3" x2="34.8" y2="480.3" stroke="#111" stroke-width="1.3" />
<text x="27.9" y="483.6" font-size="9.2" font-weight="bold" text-anchor="end" fill="#111">25</text>
<line x1="30.6" y1="465.6" x2="34.8" y2="465.6" stroke="#111" stroke-width="1.3" />
<text x="27.9" y="468.9" font-size="9.2" font-weight="bold" text-anchor="end" fill="#111">50</text>
<line x1="30.6" y1="450.9" x2="34.8" y2="450.9" stroke="#111" stroke-width="1.3" />
<text x="27.9" y="454.2" font-size="9.2" font-weight="bold" text-anchor="end" fill="#111">75</text>
<line x1="30.6" y1="436.2" x2="34.8" y2="436.2" stroke="#111" stroke-width="1.3" />
<text x="27.9" y="439.5" font-size="9.2" font-weight="bold" text-anchor="end" fill="#111">100</text>
<text x="8.4" y="468.9" font-size="9.2" text-anchor="middle" fill="#111" class="hv">%</text>
<text x="511.1" y="428" font-size="8.2" text-anchor="middle" fill="#222"><tspan>HCV-1 sE1E2.Cut</tspan><tspan dy="1.64" font-size="5.25">1+2</tspan><tspan dy="-1.64">.SPYΔN-His</tspan><tspan dy="1.64" font-size="5.25">6</tspan><tspan dy="-1.64"> (ExpiCHO + Kif/endo F)</tspan></text>
<rect x="378.6" y="490.3" width="10.6" height="4.7" fill="#44e21f" />
<rect x="378.6" y="436.2" width="10.6" height="54.1" fill="#cde2f6" />
<line x1="378.6" y1="490.3" x2="389.2" y2="490.3" stroke="#111" stroke-width="1" />
<rect x="378.6" y="436.2" width="10.6" height="58.8" fill="none" stroke="#111" stroke-width="1" />
<line x1="383.9" y1="495" x2="383.9" y2="499.4" stroke="#111" stroke-width="1.3" />
<text transform="translate(387.4,501.7) rotate(-90)" font-size="9.7" font-weight="bold" text-anchor="end" fill="#111">N196</text>
<rect x="396.8" y="490.3" width="10.6" height="4.7" fill="#44e21f" />
<rect x="396.8" y="447.96" width="10.6" height="42.34" fill="#cde2f6" />
<rect x="396.8" y="436.2" width="10.6" height="11.76" fill="#d5d5d5" />
<line x1="396.8" y1="490.3" x2="407.4" y2="490.3" stroke="#111" stroke-width="1" />
<line x1="396.8" y1="447.96" x2="407.4" y2="447.96" stroke="#111" stroke-width="1" />
<rect x="396.8" y="436.2" width="10.6" height="58.8" fill="none" stroke="#111" stroke-width="1" />
<line x1="402.1" y1="495" x2="402.1" y2="499.4" stroke="#111" stroke-width="1.3" />
<text transform="translate(405.6,501.7) rotate(-90)" font-size="9.7" font-weight="bold" text-anchor="end" fill="#111">N209</text>
<rect x="415" y="443.84" width="10.6" height="51.16" fill="#cde2f6" />
<rect x="415" y="436.2" width="10.6" height="7.64" fill="#d5d5d5" />
<line x1="415" y1="443.84" x2="425.6" y2="443.84" stroke="#111" stroke-width="1" />
<rect x="415" y="436.2" width="10.6" height="58.8" fill="none" stroke="#111" stroke-width="1" />
<line x1="420.3" y1="495" x2="420.3" y2="499.4" stroke="#111" stroke-width="1.3" />
<text transform="translate(423.8,501.7) rotate(-90)" font-size="9.7" font-weight="bold" text-anchor="end" fill="#111">N243</text>
<rect x="433.2" y="436.2" width="10.6" height="58.8" fill="#fff" stroke="#d8d8d8" stroke-width="1" />
<line x1="438.5" y1="495" x2="438.5" y2="499.4" stroke="#111" stroke-width="1.3" />
<text transform="translate(442,501.7) rotate(-90)" font-size="9.7" font-weight="bold" text-anchor="end" fill="#111">N305</text>
<rect x="451.4" y="442.67" width="10.6" height="52.33" fill="#cde2f6" />
<rect x="451.4" y="436.2" width="10.6" height="6.47" fill="#d5d5d5" />
<line x1="451.4" y1="442.67" x2="462" y2="442.67" stroke="#111" stroke-width="1" />
<rect x="451.4" y="436.2" width="10.6" height="58.8" fill="none" stroke="#111" stroke-width="1" />
<line x1="456.7" y1="495" x2="456.7" y2="499.4" stroke="#111" stroke-width="1.3" />
<text transform="translate(460.2,501.7) rotate(-90)" font-size="9.7" font-weight="bold" text-anchor="end" fill="#111">N417</text>
<rect x="469.6" y="440.9" width="10.6" height="54.1" fill="#cde2f6" />
<rect x="469.6" y="436.2" width="10.6" height="4.7" fill="#d5d5d5" />
<line x1="469.6" y1="440.9" x2="480.2" y2="440.9" stroke="#111" stroke-width="1" />
<rect x="469.6" y="436.2" width="10.6" height="58.8" fill="none" stroke="#111" stroke-width="1" />
<line x1="474.9" y1="495" x2="474.9" y2="499.4" stroke="#111" stroke-width="1.3" />
<text transform="translate(478.4,501.7) rotate(-90)" font-size="9.7" font-weight="bold" text-anchor="end" fill="#111">N423</text>
<rect x="487.8" y="436.2" width="10.6" height="58.8" fill="#cde2f6" />
<rect x="487.8" y="436.2" width="10.6" height="58.8" fill="none" stroke="#111" stroke-width="1" />
<line x1="493.1" y1="495" x2="493.1" y2="499.4" stroke="#111" stroke-width="1.3" />
<text transform="translate(496.6,501.7) rotate(-90)" font-size="9.7" font-weight="bold" text-anchor="end" fill="#111">N430</text>
<rect x="506" y="489.71" width="10.6" height="5.29" fill="#f197cf" />
<rect x="506" y="436.2" width="10.6" height="53.51" fill="#cde2f6" />
<line x1="506" y1="489.71" x2="516.6" y2="489.71" stroke="#111" stroke-width="1" />
<rect x="506" y="436.2" width="10.6" height="58.8" fill="none" stroke="#111" stroke-width="1" />
<line x1="511.3" y1="495" x2="511.3" y2="499.4" stroke="#111" stroke-width="1.3" />
<text transform="translate(514.8,501.7) rotate(-90)" font-size="9.7" font-weight="bold" text-anchor="end" fill="#111">N448</text>
<rect x="524.2" y="437.38" width="10.6" height="57.62" fill="#cde2f6" />
<rect x="524.2" y="436.2" width="10.6" height="1.18" fill="#3a3a3a" />
<line x1="524.2" y1="437.38" x2="534.8" y2="437.38" stroke="#111" stroke-width="1" />
<rect x="524.2" y="436.2" width="10.6" height="58.8" fill="none" stroke="#111" stroke-width="1" />
<line x1="529.5" y1="495" x2="529.5" y2="499.4" stroke="#111" stroke-width="1.3" />
<text transform="translate(533,501.7) rotate(-90)" font-size="9.7" font-weight="bold" text-anchor="end" fill="#111">N476</text>
<rect x="542.4" y="436.2" width="10.6" height="58.8" fill="#cde2f6" />
<rect x="542.4" y="436.2" width="10.6" height="58.8" fill="none" stroke="#111" stroke-width="1" />
<line x1="547.7" y1="495" x2="547.7" y2="499.4" stroke="#111" stroke-width="1.3" />
<text transform="translate(551.2,501.7) rotate(-90)" font-size="9.7" font-weight="bold" text-anchor="end" fill="#111">N532</text>
<rect x="560.6" y="489.71" width="10.6" height="5.29" fill="#44e21f" />
<rect x="560.6" y="437.38" width="10.6" height="52.33" fill="#cde2f6" />
<rect x="560.6" y="436.2" width="10.6" height="1.18" fill="#3a3a3a" />
<line x1="560.6" y1="489.71" x2="571.2" y2="489.71" stroke="#111" stroke-width="1" />
<line x1="560.6" y1="437.38" x2="571.2" y2="437.38" stroke="#111" stroke-width="1" />
<rect x="560.6" y="436.2" width="10.6" height="58.8" fill="none" stroke="#111" stroke-width="1" />
<line x1="565.9" y1="495" x2="565.9" y2="499.4" stroke="#111" stroke-width="1.3" />
<text transform="translate(569.4,501.7) rotate(-90)" font-size="9.7" font-weight="bold" text-anchor="end" fill="#111">N540</text>
<rect x="578.8" y="445.61" width="10.6" height="49.39" fill="#44e21f" />
<rect x="578.8" y="436.2" width="10.6" height="9.41" fill="#cde2f6" />
<line x1="578.8" y1="445.61" x2="589.4" y2="445.61" stroke="#111" stroke-width="1" />
<rect x="578.8" y="436.2" width="10.6" height="58.8" fill="none" stroke="#111" stroke-width="1" />
<line x1="584.1" y1="495" x2="584.1" y2="499.4" stroke="#111" stroke-width="1.3" />
<text transform="translate(587.6,501.7) rotate(-90)" font-size="9.7" font-weight="bold" text-anchor="end" fill="#111">N556</text>
<rect x="597" y="436.2" width="10.6" height="58.8" fill="#cde2f6" />
<rect x="597" y="436.2" width="10.6" height="58.8" fill="none" stroke="#111" stroke-width="1" />
<line x1="602.3" y1="495" x2="602.3" y2="499.4" stroke="#111" stroke-width="1.3" />
<text transform="translate(605.8,501.7) rotate(-90)" font-size="9.7" font-weight="bold" text-anchor="end" fill="#111">N576</text>
<rect x="615.2" y="489.12" width="10.6" height="5.88" fill="#44e21f" />
<rect x="615.2" y="455.02" width="10.6" height="34.1" fill="#cde2f6" />
<rect x="615.2" y="436.2" width="10.6" height="18.82" fill="#d5d5d5" />
<line x1="615.2" y1="489.12" x2="625.8" y2="489.12" stroke="#111" stroke-width="1" />
<line x1="615.2" y1="455.02" x2="625.8" y2="455.02" stroke="#111" stroke-width="1" />
<rect x="615.2" y="436.2" width="10.6" height="58.8" fill="none" stroke="#111" stroke-width="1" />
<line x1="620.5" y1="495" x2="620.5" y2="499.4" stroke="#111" stroke-width="1.3" />
<text transform="translate(624,501.7) rotate(-90)" font-size="9.7" font-weight="bold" text-anchor="end" fill="#111">N623</text>
<rect x="633.4" y="452.08" width="10.6" height="42.92" fill="#44e21f" />
<rect x="633.4" y="437.38" width="10.6" height="14.7" fill="#cde2f6" />
<rect x="633.4" y="436.2" width="10.6" height="1.18" fill="#3a3a3a" />
<line x1="633.4" y1="452.08" x2="644" y2="452.08" stroke="#111" stroke-width="1" />
<line x1="633.4" y1="437.38" x2="644" y2="437.38" stroke="#111" stroke-width="1" />
<rect x="633.4" y="436.2" width="10.6" height="58.8" fill="none" stroke="#111" stroke-width="1" />
<line x1="638.7" y1="495" x2="638.7" y2="499.4" stroke="#111" stroke-width="1.3" />
<text transform="translate(642.2,501.7) rotate(-90)" font-size="9.7" font-weight="bold" text-anchor="end" fill="#111">N645</text>
<rect x="651.6" y="494.41" width="10.6" height="0.59" fill="#3a3a3a" />
<rect x="651.6" y="482.06" width="10.6" height="12.35" fill="#cde2f6" />
<rect x="651.6" y="436.2" width="10.6" height="45.86" fill="#d5d5d5" />
<line x1="651.6" y1="494.41" x2="662.2" y2="494.41" stroke="#111" stroke-width="1" />
<line x1="651.6" y1="482.06" x2="662.2" y2="482.06" stroke="#111" stroke-width="1" />
<rect x="651.6" y="436.2" width="10.6" height="58.8" fill="none" stroke="#111" stroke-width="1" />
<line x1="656.9" y1="495" x2="656.9" y2="499.4" stroke="#111" stroke-width="1.3" />
<text transform="translate(660.4,501.7) rotate(-90)" font-size="9.7" font-weight="bold" text-anchor="end" fill="#111">N695</text>
<line x1="371.8" y1="435.6" x2="371.8" y2="495" stroke="#111" stroke-width="1.3" />
<line x1="367.6" y1="495" x2="669.3" y2="495" stroke="#111" stroke-width="1.6" />
<line x1="367.6" y1="495" x2="371.8" y2="495" stroke="#111" stroke-width="1.3" />
<text x="364.9" y="498.3" font-size="9.2" font-weight="bold" text-anchor="end" fill="#111">0</text>
<line x1="367.6" y1="480.3" x2="371.8" y2="480.3" stroke="#111" stroke-width="1.3" />
<text x="364.9" y="483.6" font-size="9.2" font-weight="bold" text-anchor="end" fill="#111">25</text>
<line x1="367.6" y1="465.6" x2="371.8" y2="465.6" stroke="#111" stroke-width="1.3" />
<text x="364.9" y="468.9" font-size="9.2" font-weight="bold" text-anchor="end" fill="#111">50</text>
<line x1="367.6" y1="450.9" x2="371.8" y2="450.9" stroke="#111" stroke-width="1.3" />
<text x="364.9" y="454.2" font-size="9.2" font-weight="bold" text-anchor="end" fill="#111">75</text>
<line x1="367.6" y1="436.2" x2="371.8" y2="436.2" stroke="#111" stroke-width="1.3" />
<text x="364.9" y="439.5" font-size="9.2" font-weight="bold" text-anchor="end" fill="#111">100</text>
<text x="345.4" y="468.9" font-size="9.2" text-anchor="middle" fill="#111" class="hv">%</text>
<rect x="159.1" y="537.9" width="11.3" height="4.3" fill="#44e21f" stroke="#111" stroke-width="1.2" />
<text x="178.5" y="543.6" font-size="9.9" fill="#111">Oligomannose</text>
<rect x="251.3" y="537.9" width="11.3" height="4.3" fill="#fff" />
<clipPath id="hclip"><rect x="251.3" y="537.9" width="11.3" height="4.3"/></clipPath>
<line x1="246.7" y1="537.4" x2="250.9" y2="542.7" stroke="#f08fcc" stroke-width="1.7" clip-path="url(#hclip)"/>
<line x1="252.3" y1="537.4" x2="256.5" y2="542.7" stroke="#f08fcc" stroke-width="1.7" clip-path="url(#hclip)"/>
<line x1="257.9" y1="537.4" x2="262.1" y2="542.7" stroke="#f08fcc" stroke-width="1.7" clip-path="url(#hclip)"/>
<line x1="263.5" y1="537.4" x2="267.7" y2="542.7" stroke="#f08fcc" stroke-width="1.7" clip-path="url(#hclip)"/>
<rect x="251.3" y="537.9" width="11.3" height="4.3" fill="none" stroke="#111" stroke-width="1.2" />
<text x="270" y="543.6" font-size="9.9" fill="#111">Hybrid</text>
<rect x="305.6" y="537.9" width="11.3" height="4.3" fill="#f197cf" stroke="#111" stroke-width="1.2" />
<text x="325" y="543.6" font-size="9.9" fill="#111">Complex</text>
<rect x="371.3" y="537.9" width="11.3" height="4.3" fill="#d5d5d5" stroke="#111" stroke-width="1.2" />
<text x="391.5" y="543.6" font-size="9.9" fill="#111">Unoccupied</text>
<rect x="450.5" y="537.9" width="11.3" height="4.3" fill="#cde2f6" stroke="#111" stroke-width="1.2" />
<text x="470.8" y="543.6" font-size="9.9" fill="#111">Core</text>
<rect x="498.5" y="537.9" width="11.3" height="4.3" fill="#fff" stroke="#d8d8d8" stroke-width="1.2" />
<text x="518.3" y="543.6" font-size="9.9" fill="#111">N.D.</text>
<line x1="104.97" y1="578.4" x2="104.97" y2="651.6" stroke="#222" stroke-width="1.2" stroke-dasharray="1.2 2.4"/>
<line x1="155.82" y1="578.4" x2="155.82" y2="651.6" stroke="#222" stroke-width="1.2" stroke-dasharray="1.2 2.4"/>
<line x1="206.67" y1="578.4" x2="206.67" y2="651.6" stroke="#222" stroke-width="1.2" stroke-dasharray="1.2 2.4"/>
<line x1="257.52" y1="578.4" x2="257.52" y2="651.6" stroke="#222" stroke-width="1.2" stroke-dasharray="1.2 2.4"/>
<line x1="308.38" y1="578.4" x2="308.38" y2="651.6" stroke="#222" stroke-width="1.2" stroke-dasharray="1.2 2.4"/>
<line x1="359.23" y1="578.4" x2="359.23" y2="651.6" stroke="#222" stroke-width="1.2" stroke-dasharray="1.2 2.4"/>
<line x1="410.07" y1="578.4" x2="410.07" y2="651.6" stroke="#222" stroke-width="1.2" stroke-dasharray="1.2 2.4"/>
<line x1="460.93" y1="578.4" x2="460.93" y2="651.6" stroke="#222" stroke-width="1.2" stroke-dasharray="1.2 2.4"/>
<line x1="511.77" y1="578.4" x2="511.77" y2="651.6" stroke="#222" stroke-width="1.2" stroke-dasharray="1.2 2.4"/>
<line x1="562.62" y1="578.4" x2="562.62" y2="651.6" stroke="#222" stroke-width="1.2" stroke-dasharray="1.2 2.4"/>
<line x1="613.48" y1="578.4" x2="613.48" y2="651.6" stroke="#222" stroke-width="1.2" stroke-dasharray="1.2 2.4"/>
<line x1="55.8" y1="599.9" x2="69.4" y2="599.9" stroke="#a8a8a8" stroke-width="1.4" />
<polygon points="65.02,601.3 62.6,602.7 60.18,601.3 60.18,598.5 62.6,597.1 65.02,598.5" fill="#000"/>
<circle cx="62.6" cy="599.9" r="1.9" fill="#f2281e"/>
<line x1="72.75" y1="599.9" x2="86.35" y2="599.9" stroke="#a8a8a8" stroke-width="1.4" />
<polygon points="79.55,596.9 82.55,599.9 79.55,602.9 76.55,599.9" fill="#fff" stroke="#000" stroke-width="1.4"/>
<polygon points="79.55,597.8 81.65,599.9 79.55,602 77.45,599.9" fill="#f2281e" stroke="none" stroke-width="0"/>
<line x1="89.7" y1="600.2" x2="103.3" y2="600.2" stroke="#a8a8a8" stroke-width="1.4" />
<polygon points="96.5,597.14 99.7,602.74 93.3,602.74" fill="#fff" stroke="#000" stroke-width="1.5" stroke-linejoin="miter"/>
<polygon points="96.5,598.78 98.3,601.98 94.7,601.98" fill="#f2281e" stroke="none" stroke-width="0" stroke-linejoin="miter"/>
<line x1="107.85" y1="591.4" x2="119.05" y2="591.4" stroke="#222" stroke-width="1" />
<polygon points="115.87,592.8 113.45,594.2 111.03,592.8 111.03,590 113.45,588.6 115.87,590" fill="#000"/>
<line x1="124.8" y1="591.4" x2="136" y2="591.4" stroke="#222" stroke-width="1" />
<polygon points="130.4,588.4 133.4,591.4 130.4,594.4 127.4,591.4" fill="#fff" stroke="#000" stroke-width="1.4"/>
<rect x="129.4" y="590.6" width="2" height="1.6" fill="#f2281e" />
<line x1="141.75" y1="592.7" x2="152.95" y2="592.7" stroke="#222" stroke-width="1" />
<polygon points="147.35,589.64 150.55,595.24 144.15,595.24" fill="#fff" stroke="#000" stroke-width="1.5" stroke-linejoin="miter"/>
<rect x="146.35" y="592.5" width="2" height="1.6" fill="#f2281e" />
<line x1="158.7" y1="598.5" x2="169.9" y2="598.5" stroke="#222" stroke-width="1" />
<polygon points="166.72,599.9 164.3,601.3 161.88,599.9 161.88,597.1 164.3,595.7 166.72,597.1" fill="#000"/>
<line x1="175.65" y1="598.8" x2="186.85" y2="598.8" stroke="#222" stroke-width="1" />
<polygon points="181.25,595.8 184.25,598.8 181.25,601.8 178.25,598.8" fill="#fff" stroke="#000" stroke-width="1.4"/>
<rect x="180.25" y="598" width="2" height="1.6" fill="#f2281e" />
<line x1="192.6" y1="608" x2="203.8" y2="608" stroke="#222" stroke-width="1" />
<polygon points="198.2,604.94 201.4,610.54 195,610.54" fill="#fff" stroke="#000" stroke-width="1.5" stroke-linejoin="miter"/>
<line x1="209.55" y1="592.8" x2="220.75" y2="592.8" stroke="#222" stroke-width="1" />
<polygon points="217.57,594.2 215.15,595.6 212.73,594.2 212.73,591.4 215.15,590 217.57,591.4" fill="#000"/>
<line x1="226.5" y1="590.6" x2="237.7" y2="590.6" stroke="#222" stroke-width="1" />
<polygon points="232.1,587.6 235.1,590.6 232.1,593.6 229.1,590.6" fill="#fff" stroke="#000" stroke-width="1.4"/>
<rect x="231.1" y="589.8" width="2" height="1.6" fill="#f2281e" />
<line x1="243.45" y1="596.8" x2="254.65" y2="596.8" stroke="#222" stroke-width="1" />
<polygon points="249.05,593.74 252.25,599.34 245.85,599.34" fill="#fff" stroke="#000" stroke-width="1.5" stroke-linejoin="miter"/>
<line x1="260.4" y1="600" x2="271.6" y2="600" stroke="#222" stroke-width="1" />
<polygon points="268.42,601.4 266,602.8 263.58,601.4 263.58,598.6 266,597.2 268.42,598.6" fill="#000"/>
<circle cx="266" cy="600" r="1.9" fill="#f2281e"/>
<line x1="277.35" y1="603" x2="288.55" y2="603" stroke="#222" stroke-width="1" />
<polygon points="282.95,600 285.95,603 282.95,606 279.95,603" fill="#fff" stroke="#000" stroke-width="1.4"/>
<polygon points="282.95,600.9 285.05,603 282.95,605.1 280.85,603" fill="#f2281e" stroke="none" stroke-width="0"/>
<line x1="280.75" y1="600.3" x2="285.15" y2="600.3" stroke="#f2281e" stroke-width="0.9" />
<line x1="280.75" y1="605.7" x2="285.15" y2="605.7" stroke="#f2281e" stroke-width="0.9" />
<line x1="294.3" y1="623.4" x2="305.5" y2="623.4" stroke="#222" stroke-width="1" />
<polygon points="299.9,620.34 303.1,625.94 296.7,625.94" fill="#fff" stroke="#000" stroke-width="1.5" stroke-linejoin="miter"/>
<polygon points="299.9,621.98 301.7,625.18 298.1,625.18" fill="#f2281e" stroke="none" stroke-width="0" stroke-linejoin="miter"/>
<line x1="311.25" y1="596" x2="322.45" y2="596" stroke="#222" stroke-width="1" />
<polygon points="319.27,597.4 316.85,598.8 314.43,597.4 314.43,594.6 316.85,593.2 319.27,594.6" fill="#000"/>
<circle cx="316.85" cy="596" r="1.2" fill="#f2281e"/>
<line x1="328.2" y1="596.3" x2="339.4" y2="596.3" stroke="#222" stroke-width="1" />
<polygon points="333.8,593.3 336.8,596.3 333.8,599.3 330.8,596.3" fill="#fff" stroke="#000" stroke-width="1.4"/>
<rect x="332.8" y="595.5" width="2" height="1.6" fill="#f2281e" />
<line x1="345.15" y1="614.7" x2="356.35" y2="614.7" stroke="#222" stroke-width="1" />
<polygon points="350.75,611.64 353.95,617.24 347.55,617.24" fill="#fff" stroke="#000" stroke-width="1.5" stroke-linejoin="miter"/>
<line x1="362.1" y1="617.6" x2="373.3" y2="617.6" stroke="#222" stroke-width="1" />
<polygon points="370.12,619 367.7,620.4 365.28,619 365.28,616.2 367.7,614.8 370.12,616.2" fill="#000"/>
<circle cx="367.7" cy="617.6" r="1.2" fill="#f2281e"/>
<line x1="379.05" y1="616.2" x2="390.25" y2="616.2" stroke="#222" stroke-width="1" />
<polygon points="384.65,613.2 387.65,616.2 384.65,619.2 381.65,616.2" fill="#fff" stroke="#000" stroke-width="1.4"/>
<rect x="383.65" y="615.4" width="2" height="1.6" fill="#f2281e" />
<line x1="396" y1="617.1" x2="407.2" y2="617.1" stroke="#222" stroke-width="1" />
<polygon points="401.6,614.04 404.8,619.64 398.4,619.64" fill="#fff" stroke="#000" stroke-width="1.5" stroke-linejoin="miter"/>
<polygon points="401.6,615.68 403.4,618.88 399.8,618.88" fill="#f2281e" stroke="none" stroke-width="0" stroke-linejoin="miter"/>
<line x1="412.95" y1="592.3" x2="424.15" y2="592.3" stroke="#222" stroke-width="1" />
<polygon points="420.97,593.7 418.55,595.1 416.13,593.7 416.13,590.9 418.55,589.5 420.97,590.9" fill="#000"/>
<line x1="429.9" y1="591.1" x2="441.1" y2="591.1" stroke="#222" stroke-width="1" />
<polygon points="435.5,588.1 438.5,591.1 435.5,594.1 432.5,591.1" fill="#fff" stroke="#000" stroke-width="1.4"/>
<rect x="434.5" y="590.3" width="2" height="1.6" fill="#f2281e" />
<line x1="446.85" y1="597.8" x2="458.05" y2="597.8" stroke="#222" stroke-width="1" />
<polygon points="452.45,594.74 455.65,600.34 449.25,600.34" fill="#fff" stroke="#000" stroke-width="1.5" stroke-linejoin="miter"/>
<rect x="451.45" y="597.6" width="2" height="1.6" fill="#f2281e" />
<line x1="463.8" y1="597.8" x2="475" y2="597.8" stroke="#222" stroke-width="1" />
<polygon points="471.82,599.2 469.4,600.6 466.98,599.2 466.98,596.4 469.4,595 471.82,596.4" fill="#000"/>
<line x1="480.75" y1="590.3" x2="491.95" y2="590.3" stroke="#222" stroke-width="1" />
<polygon points="486.35,587.3 489.35,590.3 486.35,593.3 483.35,590.3" fill="#fff" stroke="#000" stroke-width="1.4"/>
<polygon points="486.35,588.2 488.45,590.3 486.35,592.4 484.25,590.3" fill="#f2281e" stroke="none" stroke-width="0"/>
<line x1="484.15" y1="587.6" x2="488.55" y2="587.6" stroke="#f2281e" stroke-width="0.9" />
<line x1="484.15" y1="593" x2="488.55" y2="593" stroke="#f2281e" stroke-width="0.9" />
<line x1="497.7" y1="597.4" x2="508.9" y2="597.4" stroke="#222" stroke-width="1" />
<polygon points="503.3,594.34 506.5,599.94 500.1,599.94" fill="#fff" stroke="#000" stroke-width="1.5" stroke-linejoin="miter"/>
<rect x="502.3" y="597.2" width="2" height="1.6" fill="#f2281e" />
<line x1="514.65" y1="595.3" x2="525.85" y2="595.3" stroke="#222" stroke-width="1" />
<polygon points="522.67,596.7 520.25,598.1 517.83,596.7 517.83,593.9 520.25,592.5 522.67,593.9" fill="#000"/>
<circle cx="520.25" cy="595.3" r="1.2" fill="#f2281e"/>
<line x1="518.05" y1="592.2" x2="522.45" y2="592.2" stroke="#f2281e" stroke-width="0.9" />
<line x1="518.05" y1="598.4" x2="522.45" y2="598.4" stroke="#f2281e" stroke-width="0.9" />
<line x1="531.6" y1="593.6" x2="542.8" y2="593.6" stroke="#222" stroke-width="1" />
<polygon points="537.2,590.6 540.2,593.6 537.2,596.6 534.2,593.6" fill="#fff" stroke="#000" stroke-width="1.4"/>
<rect x="536.2" y="592.8" width="2" height="1.6" fill="#f2281e" />
<line x1="548.55" y1="599.8" x2="559.75" y2="599.8" stroke="#222" stroke-width="1" />
<polygon points="554.15,596.74 557.35,602.34 550.95,602.34" fill="#fff" stroke="#000" stroke-width="1.5" stroke-linejoin="miter"/>
<rect x="553.15" y="599.6" width="2" height="1.6" fill="#f2281e" />
<line x1="565.5" y1="602.8" x2="576.7" y2="602.8" stroke="#222" stroke-width="1" />
<polygon points="573.52,604.2 571.1,605.6 568.68,604.2 568.68,601.4 571.1,600 573.52,601.4" fill="#000"/>
<circle cx="571.1" cy="602.8" r="1.9" fill="#f2281e"/>
<line x1="568.9" y1="600.1" x2="573.3" y2="600.1" stroke="#f2281e" stroke-width="0.9" />
<line x1="568.9" y1="605.5" x2="573.3" y2="605.5" stroke="#f2281e" stroke-width="0.9" />
<line x1="582.45" y1="598.5" x2="593.65" y2="598.5" stroke="#222" stroke-width="1" />
<polygon points="588.05,595.5 591.05,598.5 588.05,601.5 585.05,598.5" fill="#fff" stroke="#000" stroke-width="1.4"/>
<rect x="587.05" y="597.7" width="2" height="1.6" fill="#f2281e" />
<line x1="599.4" y1="611.7" x2="610.6" y2="611.7" stroke="#222" stroke-width="1" />
<polygon points="605,608.64 608.2,614.24 601.8,614.24" fill="#fff" stroke="#000" stroke-width="1.5" stroke-linejoin="miter"/>
<polygon points="605,610.28 606.8,613.48 603.2,613.48" fill="#f2281e" stroke="none" stroke-width="0" stroke-linejoin="miter"/>
<line x1="602.8" y1="608.8" x2="607.2" y2="608.8" stroke="#f2281e" stroke-width="0.9" />
<line x1="602.8" y1="614.6" x2="607.2" y2="614.6" stroke="#f2281e" stroke-width="0.9" />
<line x1="616.35" y1="627.1" x2="627.55" y2="627.1" stroke="#222" stroke-width="1" />
<polygon points="624.37,628.5 621.95,629.9 619.53,628.5 619.53,625.7 621.95,624.3 624.37,625.7" fill="#000"/>
<line x1="633.3" y1="622.6" x2="644.5" y2="622.6" stroke="#222" stroke-width="1" />
<polygon points="638.9,619.6 641.9,622.6 638.9,625.6 635.9,622.6" fill="#fff" stroke="#000" stroke-width="1.4"/>
<polygon points="638.9,620.5 641,622.6 638.9,624.7 636.8,622.6" fill="#f2281e" stroke="none" stroke-width="0"/>
<line x1="636.7" y1="618.1" x2="641.1" y2="618.1" stroke="#f2281e" stroke-width="0.9" />
<line x1="636.7" y1="627.1" x2="641.1" y2="627.1" stroke="#f2281e" stroke-width="0.9" />
<line x1="650.25" y1="637.5" x2="661.45" y2="637.5" stroke="#222" stroke-width="1" />
<polygon points="655.85,634.44 659.05,640.04 652.65,640.04" fill="#fff" stroke="#000" stroke-width="1.5" stroke-linejoin="miter"/>
<line x1="54.1" y1="577.8" x2="54.1" y2="651.6" stroke="#111" stroke-width="1.3" />
<line x1="49.7" y1="651.6" x2="666.4" y2="651.6" stroke="#111" stroke-width="1.3" />
<line x1="49.7" y1="578.4" x2="54.1" y2="578.4" stroke="#111" stroke-width="1.2" />
<text x="47.7" y="581.5" font-size="8.8" font-weight="bold" text-anchor="end" fill="#111">0.001</text>
<line x1="49.7" y1="596.7" x2="54.1" y2="596.7" stroke="#111" stroke-width="1.2" />
<text x="47.7" y="599.8" font-size="8.8" font-weight="bold" text-anchor="end" fill="#111">0.01</text>
<line x1="49.7" y1="615" x2="54.1" y2="615" stroke="#111" stroke-width="1.2" />
<text x="47.7" y="618.1" font-size="8.8" font-weight="bold" text-anchor="end" fill="#111">0.1</text>
<line x1="49.7" y1="633.3" x2="54.1" y2="633.3" stroke="#111" stroke-width="1.2" />
<text x="47.7" y="636.4" font-size="8.8" font-weight="bold" text-anchor="end" fill="#111">1</text>
<line x1="49.7" y1="651.6" x2="54.1" y2="651.6" stroke="#111" stroke-width="1.2" />
<text x="47.7" y="654.7" font-size="8.8" font-weight="bold" text-anchor="end" fill="#111">10</text>
<line x1="62.6" y1="651.6" x2="62.6" y2="655.8" stroke="#111" stroke-width="1.1" />
<line x1="79.55" y1="651.6" x2="79.55" y2="655.8" stroke="#111" stroke-width="1.1" />
<line x1="96.5" y1="651.6" x2="96.5" y2="655.8" stroke="#111" stroke-width="1.1" />
<line x1="113.45" y1="651.6" x2="113.45" y2="655.8" stroke="#111" stroke-width="1.1" />
<line x1="130.4" y1="651.6" x2="130.4" y2="655.8" stroke="#111" stroke-width="1.1" />
<line x1="147.35" y1="651.6" x2="147.35" y2="655.8" stroke="#111" stroke-width="1.1" />
<line x1="164.3" y1="651.6" x2="164.3" y2="655.8" stroke="#111" stroke-width="1.1" />
<line x1="181.25" y1="651.6" x2="181.25" y2="655.8" stroke="#111" stroke-width="1.1" />
<line x1="198.2" y1="651.6" x2="198.2" y2="655.8" stroke="#111" stroke-width="1.1" />
<line x1="215.15" y1="651.6" x2="215.15" y2="655.8" stroke="#111" stroke-width="1.1" />
<line x1="232.1" y1="651.6" x2="232.1" y2="655.8" stroke="#111" stroke-width="1.1" />
<line x1="249.05" y1="651.6" x2="249.05" y2="655.8" stroke="#111" stroke-width="1.1" />
<line x1="266" y1="651.6" x2="266" y2="655.8" stroke="#111" stroke-width="1.1" />
<line x1="282.95" y1="651.6" x2="282.95" y2="655.8" stroke="#111" stroke-width="1.1" />
<line x1="299.9" y1="651.6" x2="299.9" y2="655.8" stroke="#111" stroke-width="1.1" />
<line x1="316.85" y1="651.6" x2="316.85" y2="655.8" stroke="#111" stroke-width="1.1" />
<line x1="333.8" y1="651.6" x2="333.8" y2="655.8" stroke="#111" stroke-width="1.1" />
<line x1="350.75" y1="651.6" x2="350.75" y2="655.8" stroke="#111" stroke-width="1.1" />
<line x1="367.7" y1="651.6" x2="367.7" y2="655.8" stroke="#111" stroke-width="1.1" />
<line x1="384.65" y1="651.6" x2="384.65" y2="655.8" stroke="#111" stroke-width="1.1" />
<line x1="401.6" y1="651.6" x2="401.6" y2="655.8" stroke="#111" stroke-width="1.1" />
<line x1="418.55" y1="651.6" x2="418.55" y2="655.8" stroke="#111" stroke-width="1.1" />
<line x1="435.5" y1="651.6" x2="435.5" y2="655.8" stroke="#111" stroke-width="1.1" />
<line x1="452.45" y1="651.6" x2="452.45" y2="655.8" stroke="#111" stroke-width="1.1" />
<line x1="469.4" y1="651.6" x2="469.4" y2="655.8" stroke="#111" stroke-width="1.1" />
<line x1="486.35" y1="651.6" x2="486.35" y2="655.8" stroke="#111" stroke-width="1.1" />
<line x1="503.3" y1="651.6" x2="503.3" y2="655.8" stroke="#111" stroke-width="1.1" />
<line x1="520.25" y1="651.6" x2="520.25" y2="655.8" stroke="#111" stroke-width="1.1" />
<line x1="537.2" y1="651.6" x2="537.2" y2="655.8" stroke="#111" stroke-width="1.1" />
<line x1="554.15" y1="651.6" x2="554.15" y2="655.8" stroke="#111" stroke-width="1.1" />
<line x1="571.1" y1="651.6" x2="571.1" y2="655.8" stroke="#111" stroke-width="1.1" />
<line x1="588.05" y1="651.6" x2="588.05" y2="655.8" stroke="#111" stroke-width="1.1" />
<line x1="605" y1="651.6" x2="605" y2="655.8" stroke="#111" stroke-width="1.1" />
<line x1="621.95" y1="651.6" x2="621.95" y2="655.8" stroke="#111" stroke-width="1.1" />
<line x1="638.9" y1="651.6" x2="638.9" y2="655.8" stroke="#111" stroke-width="1.1" />
<line x1="655.85" y1="651.6" x2="655.85" y2="655.8" stroke="#111" stroke-width="1.1" />
<text x="79.55" y="671.2" font-size="9.5" font-weight="bold" text-anchor="middle" fill="#111">A4</text>
<text x="130.4" y="671.2" font-size="9.5" font-weight="bold" text-anchor="middle" fill="#111">AR1B</text>
<text x="181.25" y="671.2" font-size="9.5" font-weight="bold" text-anchor="middle" fill="#111">AR2A</text>
<text x="232.1" y="671.2" font-size="9.5" font-weight="bold" text-anchor="middle" fill="#111">AR3C</text>
<text x="282.95" y="671.2" font-size="9.5" font-weight="bold" text-anchor="middle" fill="#111">AR4A</text>
<text x="333.8" y="671.2" font-size="9.5" font-weight="bold" text-anchor="middle" fill="#111">AR5A</text>
<text x="384.65" y="671.2" font-size="9.5" font-weight="bold" text-anchor="middle" fill="#111">HCV1</text>
<text x="435.5" y="671.2" font-size="9.5" font-weight="bold" text-anchor="middle" fill="#111">HEPC74</text>
<text x="486.35" y="671.2" font-size="9.5" font-weight="bold" text-anchor="middle" fill="#111">HC1AM</text>
<text x="537.2" y="671.2" font-size="9.5" font-weight="bold" text-anchor="middle" fill="#111">RM2</text>
<text x="588.05" y="671.2" font-size="9.5" font-weight="bold" text-anchor="middle" fill="#111">RM11-43</text>
<text x="638.9" y="671.2" font-size="9.5" font-weight="bold" text-anchor="middle" fill="#111">CD81-Fc</text>
<text transform="translate(15.2,614.9) rotate(-90)" font-size="9.5" font-weight="bold" text-anchor="middle" fill="#111"><tspan>EC</tspan><tspan dy="1.9" font-size="6.08">50</tspan><tspan dy="-1.9">(ug/ml)</tspan></text>
<polygon points="107.25,689.3 105,690.6 102.75,689.3 102.75,686.7 105,685.4 107.25,686.7" fill="#000"/>
<text x="111.5" y="690.6" font-size="8.2" fill="#111"><tspan>HCV-1 sE1E2.Cut</tspan><tspan dy="1.64" font-size="5.25">1+2</tspan><tspan dy="-1.64">.SPYΔN-His</tspan><tspan dy="1.64" font-size="5.25">6</tspan><tspan dy="-1.64"> (ExpiCHO, Nickel)</tspan></text>
<polygon points="105,700.7 107.9,703.6 105,706.5 102.1,703.6" fill="#fff" stroke="#000" stroke-width="1.3"/>
<text x="111.5" y="706.2" font-size="8.2" fill="#111"><tspan>HCV-1 sE1E2.Cut</tspan><tspan dy="1.64" font-size="5.25">1+2</tspan><tspan dy="-1.64">.SPYΔN-His</tspan><tspan dy="1.64" font-size="5.25">6</tspan><tspan dy="-1.64"> (ExpiCHO + Kif, Nickel)</tspan></text>
<polygon points="341.7,685.36 344.8,690.76 338.6,690.76" fill="#fff" stroke="#000" stroke-width="1.5" stroke-linejoin="miter"/>
<text x="348.7" y="690.6" font-size="8.2" fill="#111"><tspan>HCV-1 sE1E2.Cut</tspan><tspan dy="1.64" font-size="5.25">1+2</tspan><tspan dy="-1.64">.SPYΔN-His</tspan><tspan dy="1.64" font-size="5.25">6</tspan><tspan dy="-1.64"> (ExpiCHO + Kif/endo F)</tspan></text>
<rect x="169.5" y="755.6" width="44.83" height="23.8" fill="#f2d180" />
<text x="191.91" y="770.9" font-size="9.4" text-anchor="middle" fill="#111">0.59</text>
<rect x="214.33" y="755.6" width="44.83" height="23.8" fill="#bee084" />
<text x="236.74" y="770.9" font-size="9.4" text-anchor="middle" fill="#111">0.38</text>
<rect x="259.16" y="755.6" width="44.83" height="23.8" fill="#f3d681" />
<text x="281.57" y="770.9" font-size="9.4" text-anchor="middle" fill="#111">0.58</text>
<rect x="303.99" y="755.6" width="44.83" height="23.8" fill="#f2d180" />
<text x="326.41" y="770.9" font-size="9.4" text-anchor="middle" fill="#111">0.59</text>
<rect x="348.82" y="755.6" width="44.83" height="23.8" fill="#ed7170" />
<text x="371.24" y="770.9" font-size="9.4" text-anchor="middle" fill="#111">0.78</text>
<rect x="393.65" y="755.6" width="44.83" height="23.8" fill="#72cb82" />
<text x="416.06" y="770.9" font-size="9.4" text-anchor="middle" fill="#111">0.17</text>
<rect x="438.48" y="755.6" width="44.83" height="23.8" fill="#f4ef85" />
<text x="460.9" y="770.9" font-size="9.4" text-anchor="middle" fill="#111">0.53</text>
<rect x="483.31" y="755.6" width="44.83" height="23.8" fill="#a5d983" />
<text x="505.73" y="770.9" font-size="9.4" text-anchor="middle" fill="#111">0.31</text>
<rect x="528.14" y="755.6" width="44.83" height="23.8" fill="#f2d180" />
<text x="550.55" y="770.9" font-size="9.4" text-anchor="middle" fill="#111">0.59</text>
<rect x="572.97" y="755.6" width="44.83" height="23.8" fill="#badf84" />
<text x="595.38" y="770.9" font-size="9.4" text-anchor="middle" fill="#111">0.37</text>
<rect x="617.8" y="755.6" width="44.83" height="23.8" fill="#c5e284" />
<text x="640.21" y="770.9" font-size="9.4" text-anchor="middle" fill="#111">0.40</text>
<rect x="169.5" y="779.4" width="44.83" height="23.8" fill="#f2cc7f" />
<text x="191.91" y="794.7" font-size="9.4" text-anchor="middle" fill="#111">0.60</text>
<rect x="214.33" y="779.4" width="44.83" height="23.8" fill="#c9e384" />
<text x="236.74" y="794.7" font-size="9.4" text-anchor="middle" fill="#111">0.41</text>
<rect x="259.16" y="779.4" width="44.83" height="23.8" fill="#f3d681" />
<text x="281.57" y="794.7" font-size="9.4" text-anchor="middle" fill="#111">0.58</text>
<rect x="303.99" y="779.4" width="44.83" height="23.8" fill="#f1bd7c" />
<text x="326.41" y="794.7" font-size="9.4" text-anchor="middle" fill="#111">0.63</text>
<rect x="348.82" y="779.4" width="44.83" height="23.8" fill="#ec626d" />
<text x="371.24" y="794.7" font-size="9.4" text-anchor="middle" fill="#111">0.81</text>
<rect x="393.65" y="779.4" width="44.83" height="23.8" fill="#8bd283" />
<text x="416.06" y="794.7" font-size="9.4" text-anchor="middle" fill="#111">0.24</text>
<rect x="438.48" y="779.4" width="44.83" height="23.8" fill="#f3db82" />
<text x="460.9" y="794.7" font-size="9.4" text-anchor="middle" fill="#111">0.57</text>
<rect x="483.31" y="779.4" width="44.83" height="23.8" fill="#d0e584" />
<text x="505.73" y="794.7" font-size="9.4" text-anchor="middle" fill="#111">0.43</text>
<rect x="528.14" y="779.4" width="44.83" height="23.8" fill="#f1b87c" />
<text x="550.55" y="794.7" font-size="9.4" text-anchor="middle" fill="#111">0.64</text>
<rect x="572.97" y="779.4" width="44.83" height="23.8" fill="#d0e584" />
<text x="595.38" y="794.7" font-size="9.4" text-anchor="middle" fill="#111">0.43</text>
<rect x="617.8" y="779.4" width="44.83" height="23.8" fill="#c5e284" />
<text x="640.21" y="794.7" font-size="9.4" text-anchor="middle" fill="#111">0.40</text>
<rect x="169.5" y="803.2" width="44.83" height="23.8" fill="#f3db82" />
<text x="191.91" y="818.5" font-size="9.4" text-anchor="middle" fill="#111">0.57</text>
<rect x="214.33" y="803.2" width="44.83" height="23.8" fill="#b3dd84" />
<text x="236.74" y="818.5" font-size="9.4" text-anchor="middle" fill="#111">0.35</text>
<rect x="259.16" y="803.2" width="44.83" height="23.8" fill="#f3e082" />
<text x="281.57" y="818.5" font-size="9.4" text-anchor="middle" fill="#111">0.56</text>
<rect x="303.99" y="803.2" width="44.83" height="23.8" fill="#f1c27d" />
<text x="326.41" y="818.5" font-size="9.4" text-anchor="middle" fill="#111">0.62</text>
<rect x="348.82" y="803.2" width="44.83" height="23.8" fill="#ee8a74" />
<text x="371.24" y="818.5" font-size="9.4" text-anchor="middle" fill="#111">0.73</text>
<rect x="393.65" y="803.2" width="44.83" height="23.8" fill="#8fd383" />
<text x="416.06" y="818.5" font-size="9.4" text-anchor="middle" fill="#111">0.25</text>
<rect x="438.48" y="803.2" width="44.83" height="23.8" fill="#f0ee85" />
<text x="460.9" y="818.5" font-size="9.4" text-anchor="middle" fill="#111">0.52</text>
<rect x="483.31" y="803.2" width="44.83" height="23.8" fill="#d4e684" />
<text x="505.73" y="818.5" font-size="9.4" text-anchor="middle" fill="#111">0.44</text>
<rect x="528.14" y="803.2" width="44.83" height="23.8" fill="#f3d681" />
<text x="550.55" y="818.5" font-size="9.4" text-anchor="middle" fill="#111">0.58</text>
<rect x="572.97" y="803.2" width="44.83" height="23.8" fill="#bee084" />
<text x="595.38" y="818.5" font-size="9.4" text-anchor="middle" fill="#111">0.38</text>
<rect x="617.8" y="803.2" width="44.83" height="23.8" fill="#d4e684" />
<text x="640.21" y="818.5" font-size="9.4" text-anchor="middle" fill="#111">0.44</text>
<line x1="169.5" y1="755.6" x2="169.5" y2="827" stroke="#111" stroke-width="1.2" />
<line x1="214.33" y1="755.6" x2="214.33" y2="827" stroke="#111" stroke-width="1.2" />
<line x1="259.16" y1="755.6" x2="259.16" y2="827" stroke="#111" stroke-width="1.2" />
<line x1="303.99" y1="755.6" x2="303.99" y2="827" stroke="#111" stroke-width="1.2" />
<line x1="348.82" y1="755.6" x2="348.82" y2="827" stroke="#111" stroke-width="1.2" />
<line x1="393.65" y1="755.6" x2="393.65" y2="827" stroke="#111" stroke-width="1.2" />
<line x1="438.48" y1="755.6" x2="438.48" y2="827" stroke="#111" stroke-width="1.2" />
<line x1="483.31" y1="755.6" x2="483.31" y2="827" stroke="#111" stroke-width="1.2" />
<line x1="528.14" y1="755.6" x2="528.14" y2="827" stroke="#111" stroke-width="1.2" />
<line x1="572.97" y1="755.6" x2="572.97" y2="827" stroke="#111" stroke-width="1.2" />
<line x1="617.8" y1="755.6" x2="617.8" y2="827" stroke="#111" stroke-width="1.2" />
<line x1="662.63" y1="755.6" x2="662.63" y2="827" stroke="#111" stroke-width="1.2" />
<line x1="168.9" y1="755.6" x2="663.23" y2="755.6" stroke="#111" stroke-width="1.2" />
<line x1="168.9" y1="779.4" x2="663.23" y2="779.4" stroke="#111" stroke-width="1.2" />
<line x1="168.9" y1="803.2" x2="663.23" y2="803.2" stroke="#111" stroke-width="1.2" />
<line x1="168.9" y1="827" x2="663.23" y2="827" stroke="#111" stroke-width="1.2" />
<text x="191.91" y="747.2" font-size="9.4" text-anchor="middle" fill="#111">AR1B</text>
<text x="236.74" y="747.2" font-size="9.4" text-anchor="middle" fill="#111">AR2A</text>
<text x="281.57" y="747.2" font-size="9.4" text-anchor="middle" fill="#111">AR3C</text>
<text x="326.41" y="747.2" font-size="9.4" text-anchor="middle" fill="#111">AR4A</text>
<text x="371.24" y="747.2" font-size="9.4" text-anchor="middle" fill="#111">AR5A</text>
<text x="416.06" y="747.2" font-size="9.4" text-anchor="middle" fill="#111">HCV1</text>
<text x="460.9" y="747.2" font-size="9.4" text-anchor="middle" fill="#111">HPEC74</text>
<text x="505.73" y="747.2" font-size="9.4" text-anchor="middle" fill="#111">HC1AM</text>
<text x="550.55" y="747.2" font-size="9.4" text-anchor="middle" fill="#111">RM2-01</text>
<text x="595.38" y="747.2" font-size="9.4" text-anchor="middle" fill="#111">RM11-43</text>
<text x="640.21" y="747.2" font-size="9.4" text-anchor="middle" fill="#111">CD81-Fc</text>
<text x="91.4" y="766.7" font-size="9.55" text-anchor="middle" fill="#111"><tspan>HCV-1 sE1E2.Cut</tspan><tspan dy="1.91" font-size="6.11">1+2</tspan><tspan dy="-1.91">.SPYΔN-His</tspan><tspan dy="1.91" font-size="6.11">6</tspan></text>
<text x="91.4" y="777" font-size="9.55" text-anchor="middle" fill="#111">(ExpiCHO, Nickel)</text>
<text x="91.4" y="790.1" font-size="9.55" text-anchor="middle" fill="#111"><tspan>HCV-1 sE1E2.Cut</tspan><tspan dy="1.91" font-size="6.11">1+2</tspan><tspan dy="-1.91">.SPYΔN-His</tspan><tspan dy="1.91" font-size="6.11">6</tspan></text>
<text x="91.4" y="800.4" font-size="9.55" text-anchor="middle" fill="#111">(ExpiCHO + Kif, Nickel)</text>
<text x="91.4" y="813.5" font-size="9.55" text-anchor="middle" fill="#111"><tspan>HCV-1 sE1E2.Cut</tspan><tspan dy="1.91" font-size="6.11">1+2</tspan><tspan dy="-1.91">.SPYΔN-His</tspan><tspan dy="1.91" font-size="6.11">6</tspan></text>
<text x="91.4" y="823.8" font-size="9.55" text-anchor="middle" fill="#111">(ExpiCHO + Kif/endo F)</text>
</svg>
</body></html>
